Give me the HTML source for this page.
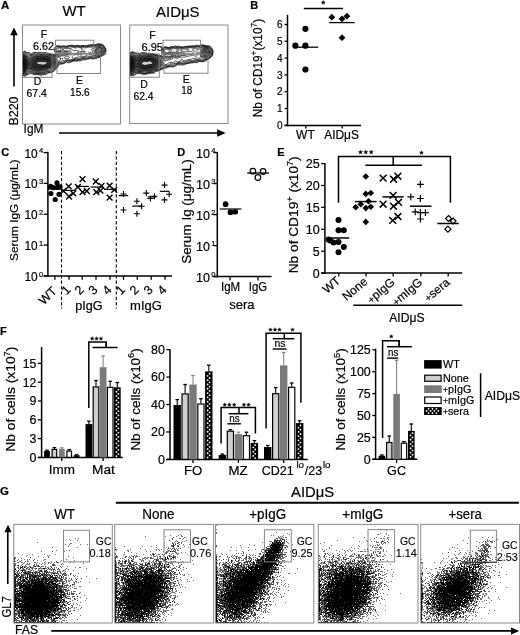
<!DOCTYPE html>
<html><head><meta charset="utf-8"><style>
html,body{margin:0;padding:0;background:#fff;}
svg{display:block;filter:grayscale(1) blur(0.3px);}
text{font-family:"Liberation Sans", sans-serif;stroke:#000;stroke-width:0.2px;}
</style></head><body>
<svg width="520" height="635" viewBox="0 0 520 635">
<text x="1" y="8.8" font-size="11.5" font-weight="bold">A</text>
<text x="62.5" y="16.3" font-size="15" textLength="23.2" lengthAdjust="spacingAndGlyphs">WT</text>
<text x="156" y="16.6" font-size="15" textLength="43.6" lengthAdjust="spacingAndGlyphs">AIDμS</text>
<rect x="22.5" y="25" width="98" height="99" stroke="#8a8a8a" stroke-width="1" fill="none"/>
<rect x="129.7" y="25" width="98.3" height="98.5" stroke="#8a8a8a" stroke-width="1" fill="none"/>
<path d="M14 86.4L14 33" stroke="#000" stroke-width="1.6"/>
<path d="M14 27.6L10.2 35.2L17.8 35.2Z" fill="#000"/>
<text x="17.6" y="125.5" font-size="12.5" textLength="29" lengthAdjust="spacingAndGlyphs" transform="rotate(-90 17.6 125.5)">B220</text>
<text x="23.6" y="133.4" font-size="12.5" textLength="19.8" lengthAdjust="spacingAndGlyphs">IgM</text>
<path d="M59 133L219 133" stroke="#000" stroke-width="1.6"/>
<path d="M225.6 133L217.2 129.2L217.2 136.8Z" fill="#000"/>
<clipPath id="ca1"><rect x="23" y="25.5" width="97" height="98"/></clipPath>
<clipPath id="ca2"><rect x="130.2" y="25.5" width="97.3" height="97.5"/></clipPath>
<defs><linearGradient id="lg1" x1="0" x2="1" y1="0" y2="0"><stop offset="0" stop-color="#000" stop-opacity="0.95"/><stop offset="1" stop-color="#000" stop-opacity="0"/></linearGradient><radialGradient id="rg1" cx="0" cy="0.5" r="1"><stop offset="0" stop-color="#000" stop-opacity="0.9"/><stop offset="0.55" stop-color="#000" stop-opacity="0.6"/><stop offset="1" stop-color="#000" stop-opacity="0"/></radialGradient></defs>
<g clip-path="url(#ca1)">
<path d="M100.2 54.0L99.2 54.2L96.2 54.1L95.2 53.6L94.6 52.8L94.5 51.8L95.1 49.2L97.8 47.4L98.8 47.0L100.2 46.9L101.2 47.4L102.0 48.2L102.7 50.2L102.6 51.2L102.0 52.2L101.2 53.3L100.2 54.0M24.8 72.3L23.8 72.3L23.2 71.9L22.8 71.0L22.3 69.2L21.9 65.2L21.8 61.8L22.1 59.2L22.8 56.8L23.8 55.5L24.8 55.4L25.8 55.9L27.8 57.8L28.8 58.4L29.8 58.2L33.8 56.2L37.2 56.1L39.8 55.6L45.2 56.0L49.2 56.7L52.8 57.6L57.2 59.1L57.9 59.8L57.6 60.8L56.2 62.8L55.2 64.8L53.8 66.2L51.8 67.6L49.8 68.3L45.8 70.3L41.8 71.2L37.8 71.6L35.2 71.1L30.2 69.0L28.8 68.9L27.8 69.5L25.8 71.7L24.8 72.3" fill="rgba(0,0,0,0.5)"/>
<path d="M25.2 69.8L24.2 70.2L23.8 70.0L23.3 69.2L22.5 65.2L22.5 61.8L22.9 59.8L23.2 58.5L24.2 57.5L24.8 57.5L25.2 57.9L27.8 61.3L28.2 61.6L29.2 61.6L30.2 61.3L32.2 59.3L34.2 58.4L35.8 58.0L39.8 57.6L41.8 57.8L45.2 57.7L48.2 58.4L52.2 59.7L53.2 60.6L53.6 61.2L53.2 63.2L52.1 64.8L49.3 66.8L47.8 67.4L45.9 67.8L42.2 69.0L38.2 69.3L35.8 69.0L32.2 67.7L29.2 66.3L28.8 66.3L27.8 66.8L26.8 67.6L25.2 69.8" fill="rgba(0,0,0,0.45)"/>
<path d="M42.8 67.3L40.8 67.7L37.2 67.6L33.1 66.2L32.4 65.8L32.0 64.8L32.9 61.8L33.2 61.2L35.8 59.5L37.8 59.5L39.8 59.0L41.2 59.3L43.2 58.9L45.8 59.1L48.8 59.9L50.2 60.7L50.8 61.2L51.0 62.2L50.7 63.8L48.8 65.6L47.8 66.2L42.8 67.3M24.2 68.3L23.8 67.8L23.2 66.4L22.9 64.2L23.2 60.8L23.8 59.6L24.2 59.3L25.0 59.8L26.0 61.2L26.5 62.2L26.8 63.8L26.6 65.2L26.1 66.2L25.1 67.8L24.8 68.2L24.2 68.3" fill="rgba(0,0,0,0.3)"/>
<path d="M43.8 64.9L38.8 64.3L37.0 63.2L36.9 62.8L37.5 62.2L39.2 61.8L42.8 61.6L44.2 62.1L45.8 61.8L46.5 62.2L46.9 62.8L46.8 63.4L43.8 64.9" fill="#ccc"/>
<path d="M24.8 76.5L23.8 76.2L22.8 75.1L20.6 70.2L20.9 67.8L20.4 62.8L20.1 61.8L20.9 57.8L22.1 53.8L23.2 52.1L24.8 50.9L25.2 51.1L26.2 52.3L27.2 52.6L29.2 52.4L30.8 53.6L31.2 53.7L33.2 52.6L34.2 52.3L35.2 52.3L36.8 52.8L39.8 52.4L41.2 52.8L45.2 52.6L49.2 53.4L52.8 54.5L54.2 54.1L55.8 54.2L56.5 53.8L56.5 53.2L54.7 51.8L54.3 50.8L54.0 48.8L54.3 47.8L55.2 46.8L55.8 46.2L56.8 45.7L58.2 45.7L60.8 46.1L64.2 45.8L66.2 46.2L68.8 45.4L72.2 45.2L74.2 45.7L78.2 45.3L80.2 46.0L82.2 45.4L84.8 45.6L86.8 45.5L90.8 44.6L95.2 44.7L97.8 43.7L101.8 44.2L102.8 44.6L104.2 45.9L105.9 49.2L106.1 50.8L105.7 52.2L105.9 53.8L105.8 54.3L105.2 54.7L103.8 54.9L99.8 57.4L98.2 57.6L96.2 58.5L94.8 58.6L93.8 59.0L91.8 58.9L90.2 58.5L88.2 59.2L86.8 59.3L84.8 60.0L82.8 59.7L80.8 60.8L78.8 60.7L76.2 61.2L74.2 60.9L68.8 62.8L67.9 62.8L66.8 62.1L66.2 62.2L64.8 63.2L63.8 63.7L61.2 64.0L59.8 64.5L58.1 66.2L57.2 68.0L55.2 69.2L54.5 70.8L51.2 72.7L48.8 72.8L46.8 74.2L42.8 74.8L41.8 75.8L38.8 74.7L33.8 74.7L32.0 73.8L30.2 73.5L27.2 74.8L24.8 76.5M24.8 75.5L23.8 75.5L22.9 74.8L21.0 70.2L21.1 67.8L20.6 61.8L21.0 58.2L22.0 54.8L22.8 53.2L24.2 51.8L24.8 51.7L26.8 52.9L29.2 53.2L30.8 54.2L31.8 54.0L33.8 52.8L34.8 52.6L36.8 53.2L39.2 52.9L41.2 53.2L45.8 53.0L47.2 53.7L48.8 53.9L52.2 54.9L55.2 54.9L56.8 54.5L58.2 54.5L58.9 54.2L59.8 53.5L61.3 53.2L60.9 52.8L59.8 52.7L58.8 52.2L56.2 52.1L55.4 51.8L55.0 51.2L54.7 49.8L55.0 48.2L55.8 46.8L56.8 46.1L57.8 46.0L60.8 46.5L64.2 46.2L66.2 46.7L68.8 45.8L72.2 45.5L74.2 46.0L78.2 45.7L80.2 46.3L82.8 45.7L84.8 46.0L86.2 45.9L91.2 45.1L95.2 45.0L97.8 44.2L101.2 44.5L102.8 45.1L104.0 46.2L105.6 49.2L105.7 50.8L104.5 53.8L99.8 57.1L97.8 57.3L96.2 58.0L95.2 58.0L93.8 58.5L90.2 58.1L84.8 59.3L82.8 59.1L80.8 60.2L78.8 60.2L76.8 60.7L74.2 60.5L68.8 62.3L66.8 61.6L63.2 63.5L59.5 63.8L57.5 66.2L56.8 67.8L54.6 69.2L53.7 70.8L51.2 72.1L47.8 72.6L46.8 73.5L44.2 74.1L40.2 74.4L35.8 74.1L34.2 74.2L30.8 72.8L29.8 72.7L28.2 73.9L24.8 75.5M24.8 74.8L23.8 74.9L23.2 74.6L22.0 72.2L21.4 70.2L20.9 64.2L20.9 61.2L21.3 58.2L22.0 55.8L23.1 53.2L24.2 52.4L24.8 52.4L26.8 53.4L28.3 53.8L30.2 54.7L31.8 54.5L33.8 53.2L34.8 53.1L36.8 53.6L38.8 53.4L41.2 53.7L45.2 53.5L47.2 54.3L48.8 54.4L52.8 55.3L55.2 55.4L57.2 55.0L58.8 55.2L59.8 54.7L61.8 54.5L65.2 53.5L67.1 53.8L67.9 53.2L67.9 52.8L66.8 52.2L62.8 52.5L61.2 51.8L59.8 51.9L55.8 51.3L55.4 50.8L55.4 49.8L55.9 48.8L56.1 47.2L56.8 46.7L57.8 46.5L60.8 47.0L64.2 46.8L66.2 47.2L69.2 46.3L72.2 45.9L74.8 46.5L78.2 46.1L80.2 46.7L82.8 46.1L84.2 46.4L86.2 46.4L92.8 45.5L95.8 45.4L98.2 44.6L101.2 44.9L102.8 45.7L103.7 46.8L105.3 49.8L105.0 51.2L103.7 53.8L102.2 55.0L99.8 56.6L97.8 56.8L96.2 57.3L94.8 57.4L93.8 57.8L90.8 57.5L84.8 58.6L82.8 58.5L80.2 59.7L76.8 60.2L74.2 60.1L69.8 61.3L67.8 61.0L66.8 61.1L62.8 63.1L60.2 62.9L59.1 63.2L56.2 67.4L54.2 68.8L53.2 70.4L52.2 71.0L50.2 71.7L47.8 72.0L45.8 72.9L43.8 73.5L40.2 73.8L35.8 73.5L34.2 73.6L30.8 72.1L29.8 72.0L29.1 72.2L27.8 73.6L24.8 74.8M25.2 73.9L23.8 74.2L23.2 73.9L22.5 72.8L21.6 69.8L21.2 64.8L21.2 61.2L21.4 58.8L21.9 56.8L22.9 54.2L23.7 53.2L24.2 53.0L25.2 53.2L28.5 55.2L29.2 55.5L31.8 55.0L33.8 53.8L34.8 53.6L36.2 54.1L38.8 53.8L41.2 54.2L45.2 54.0L46.8 54.8L48.8 54.9L51.2 55.6L55.2 56.0L57.2 55.5L59.2 56.0L60.8 55.3L67.2 54.3L70.2 53.2L71.3 52.2L71.3 51.8L70.8 51.6L68.8 52.2L67.2 51.6L63.8 51.4L62.2 51.0L59.8 51.4L56.8 50.9L56.2 50.5L56.3 49.8L57.1 47.8L57.8 47.4L59.2 47.3L62.8 47.9L64.8 47.5L66.2 47.8L72.2 46.4L75.8 47.2L77.8 46.5L79.8 47.1L82.8 46.5L84.2 47.0L85.8 47.1L89.2 46.4L96.2 45.9L98.8 45.1L100.8 45.3L102.2 45.9L103.2 47.0L104.8 49.8L104.7 50.8L103.2 53.5L101.8 54.9L99.2 56.3L97.8 56.3L96.2 56.6L94.8 56.3L93.2 56.7L89.2 57.2L86.8 57.1L84.8 57.8L82.2 58.0L79.8 59.2L76.8 59.5L75.2 59.3L70.2 60.6L67.2 60.4L63.8 61.6L62.2 62.4L60.8 62.1L59.8 62.3L58.3 63.2L57.5 64.8L55.8 67.0L53.4 68.8L52.8 69.8L52.2 70.2L50.8 70.6L49.8 71.3L47.2 71.5L45.2 72.4L42.2 73.2L38.2 73.4L34.2 72.9L31.2 71.4L30.2 71.2L28.8 71.7L27.2 73.1L25.2 73.9M78.3 52.8L78.5 52.2L78.2 52.1L77.2 52.2L77.5 52.8L78.3 52.8M25.2 73.3L23.8 73.6L23.2 73.2L22.5 72.2L21.8 69.8L21.4 64.8L21.4 61.2L22.0 57.2L23.1 54.8L24.2 53.8L25.2 54.0L28.2 56.2L29.2 56.5L34.2 54.4L36.2 54.8L39.2 54.3L41.2 54.7L45.2 54.7L46.8 55.3L48.8 55.5L50.8 56.0L55.2 56.7L57.8 56.3L59.8 57.0L61.2 56.0L65.2 55.7L68.8 54.5L70.2 55.2L70.8 55.1L72.2 53.7L73.2 53.3L78.2 53.8L80.5 52.8L81.8 51.9L84.8 51.8L85.2 51.2L84.8 50.8L84.2 50.7L82.2 51.6L80.8 51.6L77.8 50.8L73.2 50.3L71.8 49.4L71.2 49.3L69.2 50.9L65.8 50.9L64.8 50.7L62.8 49.8L63.0 49.2L64.2 48.5L66.2 48.7L70.8 48.5L72.2 47.3L72.8 47.3L75.8 48.1L76.2 48.1L77.8 47.1L79.8 47.7L82.8 47.2L84.2 47.9L85.8 48.0L88.8 47.2L90.8 47.2L96.2 46.7L98.2 45.8L99.8 45.7L101.2 46.0L102.2 46.6L104.1 49.8L104.2 50.2L104.0 51.2L102.8 53.2L101.8 54.3L99.2 55.7L96.2 55.7L94.8 55.4L92.8 56.0L89.2 56.3L87.2 55.8L84.8 57.1L81.8 57.4L79.2 58.4L75.8 58.5L73.2 59.3L70.2 59.8L67.8 59.6L63.2 60.5L61.8 61.2L60.2 61.1L57.8 63.1L56.4 65.2L55.1 66.8L52.2 68.9L50.2 69.7L49.2 70.8L47.2 71.0L45.2 71.8L42.2 72.7L38.2 72.9L34.2 72.2L30.2 70.4L28.2 71.2L26.4 72.8L25.2 73.3M61.2 50.3L59.8 50.7L58.6 50.2L58.0 49.8L58.1 48.8L58.5 48.2L59.2 48.0L62.6 49.2L62.7 49.8L61.2 50.3M99.8 54.9L98.8 55.1L94.8 54.6L92.8 55.1L90.8 54.6L89.2 54.7L88.6 54.2L88.6 52.8L88.8 52.5L89.2 52.3L90.8 52.7L91.8 52.6L92.8 52.1L93.0 51.2L92.8 50.7L91.8 49.8L91.6 49.2L92.2 48.8L96.2 47.5L98.2 46.5L100.2 46.3L101.2 46.6L102.2 47.5L103.3 49.8L103.5 50.8L103.1 51.8L102.1 53.2L101.2 54.0L99.8 54.9M82.8 49.3L82.2 49.7L81.8 49.6L81.1 49.2L81.0 48.8L81.6 48.2L82.0 48.2L82.6 48.8L82.8 49.3M73.8 58.4L72.5 58.2L72.1 57.2L72.4 56.2L73.8 54.7L75.2 54.8L76.2 54.6L78.2 55.0L79.8 54.6L81.2 55.0L82.2 54.6L83.3 53.2L84.2 52.9L85.8 53.1L86.6 53.8L86.8 54.2L86.6 54.8L85.6 55.8L84.2 56.4L83.2 56.5L81.2 56.1L78.8 57.0L76.2 57.4L73.8 58.4M24.8 72.9L23.8 72.9L23.2 72.6L22.5 71.2L22.0 69.2L21.6 64.8L21.6 61.8L22.1 58.2L22.8 56.0L23.8 54.8L24.2 54.7L25.2 54.9L28.8 57.4L29.8 57.3L34.2 55.3L36.8 55.5L39.2 54.9L41.2 55.2L45.2 55.3L46.8 55.9L48.8 56.0L56.2 57.7L58.2 57.4L61.1 58.8L61.1 59.2L59.8 60.0L57.2 62.8L55.7 65.2L54.2 66.8L51.8 68.3L50.2 68.8L48.8 69.8L45.8 71.0L43.2 71.5L41.8 72.0L38.2 72.3L34.8 71.6L30.8 69.8L29.8 69.6L28.8 69.9L26.0 72.2L24.8 72.9M67.8 58.4L66.8 58.5L64.8 58.3L64.4 57.8L64.6 57.2L65.6 56.8L67.2 56.2L68.2 56.1L69.4 57.2L69.2 57.8L67.8 58.4M62.8 58.8L61.7 58.8L62.2 58.2L62.8 58.5L62.8 58.8M100.2 54.0L99.2 54.2L96.2 54.0L95.0 53.2L94.6 52.2L95.0 49.8L95.2 49.2L97.8 47.4L98.8 47.1L100.2 47.0L101.2 47.4L101.9 48.2L102.7 50.2L102.6 51.2L102.0 52.2L101.2 53.2L100.2 54.0M24.2 72.3L23.2 71.9L22.5 70.2L21.8 64.8L21.9 61.2L22.3 58.8L22.8 56.8L23.8 55.5L24.8 55.5L25.8 55.9L27.8 57.8L28.8 58.4L29.8 58.2L33.8 56.2L37.2 56.1L39.8 55.7L45.2 56.0L49.2 56.8L53.2 57.8L57.2 59.2L57.7 59.8L57.5 60.8L56.1 62.8L55.1 64.8L53.8 66.2L51.8 67.5L49.7 68.2L45.8 70.2L41.8 71.1L37.8 71.5L35.2 71.0L30.2 69.0L28.8 68.9L27.8 69.4L25.8 71.7L24.2 72.3M99.2 53.3L96.8 53.1L96.2 52.8L95.9 51.8L96.2 50.4L97.8 48.3L98.8 47.8L99.8 47.7L100.8 48.1L101.2 48.8L101.5 50.8L100.6 52.8L99.8 53.2L99.2 53.3M24.8 71.4L23.8 71.4L23.0 70.2L22.5 68.8L22.1 64.8L22.1 61.8L22.6 58.8L23.2 57.0L23.8 56.3L24.2 56.1L25.8 56.7L27.8 59.1L28.8 59.7L29.8 59.4L33.2 57.3L35.2 56.9L40.2 56.4L42.2 56.7L45.2 56.7L48.8 57.4L52.8 58.5L54.8 59.5L55.5 60.2L55.6 61.2L54.6 63.8L53.2 65.5L51.2 66.9L45.2 69.3L41.2 70.3L37.2 70.6L35.8 70.4L30.8 68.4L28.8 68.0L27.8 68.3L25.8 70.7L24.8 71.4M99.2 51.3L98.9 50.8L99.2 50.6L99.2 51.3M24.8 70.5L23.8 70.3L23.2 69.7L22.4 64.8L22.5 61.2L22.8 59.2L23.2 58.1L24.2 57.1L25.2 57.4L27.8 60.7L28.8 61.2L30.1 60.8L31.7 59.2L33.2 58.4L35.8 57.7L39.8 57.3L41.8 57.5L45.2 57.5L48.2 58.1L52.2 59.3L53.6 60.2L54.0 60.8L54.0 62.2L53.0 64.2L51.8 65.4L48.2 67.5L46.2 67.9L42.2 69.3L38.2 69.6L35.8 69.3L28.8 66.9L27.2 67.5L25.6 69.8L24.8 70.5M24.2 69.3L23.8 69.0L23.4 68.2L22.7 64.2L23.0 60.2L23.7 58.8L24.2 58.4L25.2 58.9L26.2 60.2L27.5 62.8L27.9 64.2L27.5 65.8L25.2 68.8L24.2 69.3M41.8 68.3L38.2 68.5L36.8 68.3L32.8 67.0L31.6 66.2L29.5 63.8L29.4 63.2L29.9 62.8L31.2 62.0L32.7 60.2L34.8 59.0L35.8 58.7L37.8 58.7L39.2 58.3L45.8 58.4L48.8 59.2L50.8 60.0L52.2 61.2L52.3 62.2L51.8 63.8L51.0 64.8L49.0 66.2L47.8 66.8L45.8 67.2L41.8 68.3M42.8 66.8L40.8 67.1L36.8 66.9L33.2 65.7L32.8 65.1L32.7 64.2L33.8 61.8L35.6 60.2L36.2 60.0L39.8 59.6L41.2 59.9L43.2 59.5L45.2 59.5L48.8 60.4L50.0 61.2L50.3 62.2L50.2 63.2L49.7 64.2L48.8 65.1L47.8 65.7L42.8 66.8M24.8 67.4L24.2 67.5L23.8 67.0L23.1 64.8L23.3 61.8L23.8 60.4L24.2 60.0L25.2 61.0L26.3 63.2L26.3 64.2L25.8 65.8L24.8 67.4M44.2 64.9L43.2 65.1L38.8 64.8L36.2 64.0L35.9 63.8L35.8 63.2L36.8 62.1L37.5 61.8L38.8 61.6L42.8 61.4L44.2 61.7L45.8 61.5L46.4 61.8L47.3 62.8L47.3 63.2L47.0 63.8L44.2 64.9M24.2 64.5L24.2 63.3L24.5 63.8L24.2 64.5" stroke="#000" stroke-width="0.65" fill="none"/>
<ellipse cx="23" cy="64" rx="7" ry="10.5" fill="url(#rg1)"/>
</g>
<g clip-path="url(#ca2)">
<path d="M205.8 57.0L204.2 57.1L200.8 56.6L199.9 56.2L200.0 55.8L201.0 53.8L200.6 50.8L200.9 49.8L201.8 49.1L204.2 48.2L206.8 48.2L207.8 48.5L209.2 49.8L209.7 50.8L209.8 53.2L209.3 54.8L207.8 56.1L205.8 57.0M131.8 72.4L130.8 72.2L130.2 71.2L129.1 66.2L128.9 63.8L129.0 60.8L129.5 58.2L130.2 56.7L131.2 55.8L132.2 55.7L135.2 57.2L136.8 57.5L139.2 56.8L141.2 56.7L143.2 56.1L145.8 55.9L150.2 56.1L154.2 56.9L157.2 58.1L162.0 60.8L163.1 61.8L163.6 62.8L163.6 63.8L162.8 64.6L161.2 65.2L158.2 67.2L151.8 69.9L148.8 70.7L146.8 70.9L144.8 70.6L142.2 70.9L136.2 69.9L135.2 70.2L131.8 72.4M174.2 59.8L173.7 59.8L173.8 59.2L174.2 59.1L174.6 59.2L174.2 59.8M178.8 60.7L178.4 60.2L178.8 59.7L179.2 59.7L179.2 60.2L178.8 60.7" fill="rgba(0,0,0,0.5)"/>
<path d="M206.8 53.8L205.8 54.1L204.7 53.8L204.1 52.2L204.2 51.6L204.8 51.0L205.8 50.8L206.6 51.2L207.1 51.8L207.5 52.8L207.3 53.2L206.8 53.8M132.8 69.9L131.8 70.2L131.2 70.0L130.8 69.4L129.8 66.2L129.6 63.2L129.8 61.2L130.4 58.8L130.8 58.1L131.2 57.8L132.2 57.9L134.8 59.5L136.2 59.8L141.2 58.4L143.8 58.0L150.8 57.9L156.2 59.6L158.3 61.2L158.9 62.2L158.9 63.2L158.2 64.3L154.2 67.0L152.2 67.9L146.8 69.0L143.2 69.0L137.8 67.5L135.8 67.4L134.7 67.8L132.8 69.9" fill="rgba(0,0,0,0.45)"/>
<path d="M148.2 67.3L146.2 67.6L142.8 67.6L141.2 67.2L138.1 65.8L137.0 64.2L137.0 63.2L138.2 61.8L140.8 60.1L143.8 59.4L147.8 59.0L151.2 59.2L154.8 60.4L156.1 61.2L156.5 62.2L156.4 62.8L154.8 65.0L152.2 66.5L148.2 67.3M132.2 68.4L131.8 68.6L131.2 68.3L130.8 67.4L130.4 66.2L130.2 63.8L130.4 61.2L131.2 59.6L131.8 59.4L132.8 59.8L134.0 61.2L135.3 64.8L134.9 65.8L133.2 67.1L132.2 68.4" fill="rgba(0,0,0,0.3)"/>
<path d="M146.8 64.8L145.2 65.2L143.8 64.7L142.2 64.5L142.0 63.8L142.1 62.8L142.8 62.1L144.2 61.5L145.2 61.4L147.2 61.9L149.2 61.0L150.5 61.2L151.2 62.1L152.6 62.8L152.8 63.2L151.8 63.9L146.8 64.8M131.8 64.4L131.8 63.7L132.0 64.2L131.8 64.4" fill="#ccc"/>
<path d="M134.2 75.3L132.8 75.7L130.8 75.6L130.2 75.2L129.5 74.2L128.6 71.8L128.2 68.6L127.8 67.3L127.2 66.5L125.7 65.2L125.1 64.2L126.1 61.2L126.8 60.2L127.3 58.8L128.2 57.4L129.7 53.2L130.2 52.4L130.8 52.2L133.2 51.8L135.2 52.7L137.2 53.1L139.2 53.1L140.2 53.3L142.2 52.4L143.8 52.7L145.2 52.7L147.8 53.4L149.2 53.0L150.8 53.8L152.8 53.5L154.8 54.3L156.8 54.6L158.2 55.5L161.2 55.6L162.2 55.2L161.6 53.8L161.7 52.2L162.9 48.2L163.6 47.2L164.2 47.0L165.8 46.9L168.2 47.4L169.2 47.4L171.8 46.5L173.8 46.7L175.2 45.9L175.8 45.9L177.2 46.5L178.8 46.2L180.8 46.9L183.8 46.8L187.2 46.1L194.8 45.8L196.8 45.3L200.2 45.8L201.8 44.9L202.8 44.8L206.8 45.8L209.8 46.0L210.6 46.8L212.9 49.8L213.0 53.2L212.5 55.8L211.2 57.2L209.2 58.7L205.5 60.8L204.2 61.7L202.2 61.9L199.8 61.4L196.8 62.7L194.8 62.6L190.8 63.0L186.2 63.9L183.2 65.2L180.8 64.7L179.2 65.3L177.8 64.7L177.2 64.8L174.8 66.4L172.2 67.0L170.2 66.8L168.2 67.1L166.2 68.1L164.8 68.2L161.8 69.2L160.2 70.3L155.8 71.5L153.8 73.3L151.8 73.1L149.8 73.6L148.8 73.5L146.2 74.3L143.8 74.4L141.8 74.1L140.2 73.6L137.8 73.5L136.8 73.8L134.2 75.3M165.1 55.8L165.2 55.2L164.2 54.7L163.3 54.8L162.9 55.2L163.8 56.0L164.2 56.1L165.1 55.8M133.2 75.0L132.2 75.2L130.8 75.1L129.9 74.2L128.8 71.8L128.3 68.2L127.8 66.3L127.2 65.6L125.9 64.8L125.7 64.2L125.9 63.2L127.2 60.5L130.0 53.2L130.8 52.5L132.8 52.3L134.8 53.1L137.2 53.7L140.2 54.0L142.2 53.0L145.2 53.1L147.8 53.8L149.2 53.6L150.8 54.1L152.8 53.9L154.8 54.6L156.8 54.9L158.2 55.8L161.8 56.2L164.2 56.9L165.8 56.4L167.8 56.4L170.2 56.2L172.8 54.8L171.2 54.7L169.8 54.2L168.2 54.8L166.2 54.9L163.8 53.8L162.8 53.7L162.4 53.2L162.3 52.2L163.2 48.8L163.9 47.8L165.2 47.2L168.8 47.8L171.8 46.9L173.8 47.1L175.8 46.5L177.2 46.9L178.8 46.7L180.8 47.3L183.8 47.2L187.2 46.5L194.2 46.2L196.8 45.7L199.8 46.2L201.8 45.3L202.8 45.2L207.2 46.2L208.8 46.3L209.8 46.5L212.6 49.8L212.7 53.2L212.1 55.8L208.8 58.6L203.8 61.0L201.8 61.4L199.8 61.0L196.2 62.1L194.8 62.0L189.8 62.7L183.2 64.4L180.2 64.1L177.3 64.2L175.2 65.7L174.2 66.1L172.2 66.5L170.2 66.2L164.8 67.6L163.2 68.5L161.2 69.1L159.8 69.9L155.3 71.2L153.8 72.6L148.8 73.0L146.2 73.9L143.2 73.9L140.2 73.0L137.8 72.9L134.8 74.0L133.2 75.0M132.2 74.8L130.8 74.6L129.6 73.2L128.9 71.2L128.8 69.1L127.8 65.1L126.6 64.2L126.4 63.8L127.3 61.8L127.9 59.2L129.4 55.2L130.5 53.2L131.2 52.8L133.2 53.0L135.2 54.1L136.8 54.5L140.8 54.5L141.8 53.9L142.8 53.6L145.2 53.7L147.8 54.2L149.2 54.2L150.8 54.5L152.8 54.3L156.2 55.1L158.2 56.2L161.2 56.6L164.2 57.6L165.8 57.0L167.8 57.2L170.2 56.8L173.8 55.4L174.8 55.3L176.8 55.9L178.7 55.2L179.1 54.8L178.2 54.2L173.2 53.7L171.2 54.0L169.8 53.7L167.8 54.2L166.2 54.2L165.2 54.0L163.2 52.9L162.9 52.2L163.7 48.8L164.2 48.2L165.2 47.7L166.2 47.6L168.8 48.2L171.8 47.4L173.8 47.5L175.8 47.2L177.2 47.4L178.8 47.3L180.8 47.6L184.2 47.7L187.8 46.9L193.2 46.7L197.2 46.3L199.8 46.6L202.2 45.7L209.2 46.9L212.1 49.8L212.3 53.2L212.0 54.8L211.5 55.8L208.2 58.4L205.8 59.7L202.2 60.9L201.2 61.0L199.8 60.5L193.2 61.8L189.8 62.1L187.8 62.8L183.8 63.5L177.8 63.7L174.6 65.2L172.8 65.8L171.8 65.9L170.2 65.6L168.8 66.2L165.2 66.7L162.8 68.3L156.8 70.4L155.2 70.8L153.2 72.1L148.8 72.5L146.2 73.5L143.2 73.4L140.8 72.6L137.8 72.3L134.6 73.2L133.2 74.3L132.2 74.8M132.2 74.3L130.8 74.1L130.0 73.2L129.5 72.2L128.2 65.5L127.6 63.2L128.4 58.8L129.5 55.8L130.7 53.8L131.2 53.3L132.2 53.3L133.2 53.6L135.2 55.2L136.2 55.5L138.8 55.0L140.8 55.1L142.8 54.2L146.2 54.3L150.8 54.8L152.8 54.7L156.2 55.5L158.2 56.6L160.8 57.2L164.2 58.5L165.8 57.7L167.8 58.0L170.2 57.5L173.8 56.0L174.8 56.0L176.2 56.7L176.8 56.6L178.8 56.1L180.8 55.1L181.8 55.1L183.8 54.6L184.8 54.7L185.1 54.2L185.1 53.8L184.8 53.2L182.2 52.7L179.2 53.4L177.8 53.2L175.8 53.3L173.2 52.8L171.2 53.4L169.8 53.2L168.2 53.5L165.8 53.5L164.2 52.8L163.7 52.2L163.6 51.8L164.1 49.2L164.8 48.6L165.8 48.1L168.8 48.8L171.8 47.9L173.8 48.1L175.8 47.8L182.2 48.1L184.2 48.4L187.8 47.4L190.8 47.1L192.8 47.4L195.2 47.0L197.8 47.4L202.2 46.4L205.8 46.7L208.8 47.3L211.1 49.2L211.8 50.2L211.8 53.2L211.3 55.2L208.5 57.8L205.2 59.4L203.8 59.6L201.8 60.4L199.8 59.9L198.2 60.3L194.8 60.7L193.2 61.2L189.2 61.4L187.2 62.2L185.2 62.6L181.8 63.0L179.8 62.9L177.8 63.2L175.8 63.9L173.8 64.2L172.2 65.1L170.2 64.8L168.2 65.8L165.2 65.9L162.8 67.7L156.2 70.0L154.8 70.4L152.8 71.5L148.2 72.2L146.2 73.0L144.8 72.7L143.2 72.9L140.8 72.1L137.2 71.8L134.2 72.8L132.2 74.3M131.8 73.9L130.8 73.6L129.6 71.8L128.2 63.2L128.7 59.2L129.7 56.2L130.8 54.6L131.8 54.0L133.2 54.4L135.1 55.8L136.8 56.2L139.2 55.5L141.2 55.6L143.2 54.8L146.2 54.8L148.2 55.1L153.2 55.3L156.2 56.1L160.8 58.2L164.2 59.4L165.8 59.0L168.2 58.9L170.8 58.1L173.8 56.7L174.8 56.8L176.2 57.4L183.2 55.4L185.2 55.7L186.2 55.1L187.8 55.0L189.2 54.2L190.8 54.3L191.8 54.0L193.0 53.2L193.2 52.8L192.2 51.7L191.2 51.4L186.8 51.9L182.2 51.6L179.8 52.5L177.8 52.2L175.8 52.6L173.2 51.9L171.2 52.6L167.2 52.5L165.8 52.7L164.7 52.2L164.4 51.8L164.4 50.8L164.8 50.0L166.2 49.1L168.2 49.5L171.2 48.6L172.8 48.8L176.2 48.6L179.8 48.8L181.2 48.6L184.8 49.4L187.2 48.1L190.2 47.7L192.8 48.1L194.8 47.6L195.8 47.8L197.8 48.9L198.3 48.8L199.4 47.8L201.2 47.3L204.8 47.0L208.2 47.7L210.3 49.2L211.1 50.2L211.2 53.2L210.8 54.9L208.2 57.3L205.2 58.7L203.2 58.8L201.8 59.4L199.8 59.0L198.2 59.5L194.8 59.6L192.8 60.4L190.8 60.6L189.2 60.3L185.2 61.9L182.2 61.7L175.8 63.2L173.2 63.4L171.8 63.9L169.8 63.7L168.9 64.8L168.2 65.1L165.1 65.2L162.8 66.9L161.2 67.2L158.8 68.5L154.8 69.8L152.2 71.0L146.2 72.3L144.8 71.8L142.8 72.2L140.8 71.7L136.8 71.2L134.2 72.2L132.8 73.4L131.8 73.9M132.2 73.0L131.2 73.2L130.8 72.9L129.9 71.8L128.9 66.8L128.6 63.8L129.1 58.8L130.2 55.9L131.2 55.0L132.8 55.0L134.8 56.3L136.8 56.8L137.8 56.7L139.2 56.2L141.2 56.2L143.2 55.4L146.2 55.3L153.8 56.1L155.2 56.5L158.2 57.7L160.8 59.2L163.8 60.4L166.8 60.6L169.8 59.7L171.2 59.5L173.8 57.7L174.8 57.7L176.8 58.8L178.5 57.8L180.2 57.1L181.2 57.2L181.8 57.6L182.2 57.5L183.2 56.8L184.2 57.4L186.2 56.5L187.8 56.7L189.2 55.8L190.8 55.9L192.8 55.1L194.2 55.9L196.2 56.3L196.6 56.2L196.9 55.8L196.9 54.8L197.2 54.3L199.2 53.9L199.8 53.3L199.8 52.6L199.2 52.1L198.8 52.0L196.8 52.3L195.2 51.4L193.1 50.8L192.3 49.8L192.6 49.2L193.8 48.8L195.2 48.7L196.8 49.8L198.2 49.8L198.8 49.7L200.2 48.5L201.2 48.1L204.2 47.6L205.8 47.6L207.2 47.8L208.2 48.2L209.5 49.2L210.3 50.2L210.5 53.2L210.1 54.8L208.2 56.5L205.2 57.9L202.2 57.7L198.8 58.1L196.8 57.9L194.8 58.5L192.2 58.4L190.8 59.4L188.2 59.6L184.8 60.7L182.8 60.3L181.8 58.9L180.2 61.0L178.9 61.8L177.2 61.8L176.2 61.2L175.8 61.1L173.8 62.1L171.2 62.6L169.2 62.4L168.6 62.8L167.3 64.2L164.8 64.6L162.8 65.8L161.2 66.1L158.2 68.0L151.8 70.5L146.8 71.5L144.8 71.1L142.2 71.5L136.2 70.6L134.2 71.6L132.2 73.0M188.2 50.4L187.2 50.6L186.8 50.2L186.6 49.8L186.9 49.2L187.8 49.0L188.5 49.2L188.9 49.8L188.2 50.4M170.8 51.3L169.8 51.6L168.8 51.2L169.3 50.2L169.9 49.8L170.8 49.5L171.4 49.8L171.8 50.2L171.8 50.8L170.8 51.3M176.8 51.3L176.2 51.2L175.9 50.8L176.1 50.2L176.8 49.8L178.0 49.8L178.8 50.2L178.7 50.8L176.8 51.3M181.8 50.5L180.8 50.6L180.3 50.2L180.8 49.7L181.8 49.6L182.1 50.2L181.8 50.5M205.8 56.9L204.2 57.0L200.2 56.2L200.2 55.8L201.1 53.8L200.8 50.8L201.0 49.8L201.8 49.1L204.2 48.3L206.8 48.3L207.8 48.6L209.2 49.8L209.6 50.8L209.8 53.2L209.2 54.8L207.8 56.1L205.8 56.9M131.8 72.4L130.8 72.1L130.2 71.2L129.1 66.2L128.9 63.8L129.0 61.2L129.5 58.2L130.2 56.7L131.2 55.8L132.2 55.8L135.2 57.2L136.8 57.5L139.2 56.9L141.2 56.8L143.2 56.1L145.2 56.0L150.2 56.2L154.2 56.9L156.8 57.9L161.9 60.8L163.0 61.8L163.4 62.8L163.4 63.8L162.8 64.5L161.2 65.1L158.2 67.1L151.8 69.8L148.8 70.6L146.8 70.9L144.8 70.5L142.2 70.8L136.2 69.9L135.2 70.2L131.8 72.4M206.2 55.8L204.8 56.0L203.2 55.3L202.9 54.8L202.3 52.8L202.2 51.8L202.9 50.2L203.8 49.5L206.2 49.1L207.2 49.2L208.0 49.8L208.6 50.8L209.1 52.2L208.9 53.8L207.8 55.1L206.2 55.8M132.2 71.3L131.2 71.5L130.6 70.8L129.9 68.8L129.3 65.8L129.2 62.8L129.6 59.2L130.2 57.5L131.2 56.6L132.2 56.7L134.8 58.1L136.2 58.4L143.8 56.8L150.2 56.8L156.2 58.4L159.2 60.3L160.7 61.8L160.8 63.8L159.8 65.2L154.8 68.0L152.2 69.0L148.8 69.9L146.8 70.1L144.8 69.9L142.8 70.1L139.2 69.7L136.2 69.0L135.2 69.2L133.2 70.8L132.2 71.3M206.8 54.4L205.2 54.7L204.2 53.9L203.6 52.2L203.9 51.2L204.3 50.8L205.2 50.4L206.2 50.4L207.0 50.8L207.8 51.7L208.1 52.8L208.0 53.2L207.6 53.8L206.8 54.4M132.2 70.4L131.2 70.3L130.8 69.8L130.1 68.2L129.6 65.8L129.5 62.8L130.0 59.2L130.4 58.2L131.2 57.5L132.2 57.6L134.8 59.2L136.2 59.5L143.8 57.7L150.8 57.7L156.2 59.3L158.8 61.2L159.3 62.2L159.2 63.8L158.5 64.8L154.2 67.4L152.8 68.0L148.8 69.0L146.2 69.3L142.8 69.2L137.8 67.9L135.8 67.7L134.8 68.2L133.2 69.9L132.2 70.4M132.2 69.3L131.8 69.4L130.9 68.8L130.0 65.8L129.9 63.2L130.1 61.2L130.8 59.1L131.2 58.5L132.2 58.6L134.8 60.6L135.8 60.9L138.8 60.2L141.2 59.1L143.8 58.7L147.8 58.4L151.2 58.6L155.8 60.0L157.3 61.2L157.9 62.2L157.6 63.2L155.6 65.2L153.4 66.8L152.2 67.3L146.8 68.3L143.2 68.3L141.8 68.0L137.2 66.5L136.2 66.4L135.2 66.6L134.2 67.2L132.8 69.0L132.2 69.3M148.2 66.8L145.8 67.1L142.8 67.1L141.2 66.8L139.1 65.8L138.5 65.2L138.1 64.2L138.2 63.2L140.8 60.7L141.8 60.2L144.2 59.8L147.8 59.5L151.2 59.6L154.3 60.8L155.6 61.8L155.7 62.2L155.4 63.2L154.9 64.2L154.2 64.8L152.2 66.0L148.2 66.8M131.8 67.8L131.2 67.5L130.8 66.6L130.4 63.2L130.8 61.0L131.2 60.3L131.8 60.1L132.8 60.4L133.4 61.2L134.4 64.8L134.0 65.8L131.8 67.8M146.2 65.3L145.2 65.5L143.8 65.1L141.8 65.1L141.3 64.8L141.3 64.2L141.9 62.2L142.7 61.8L144.2 61.3L145.2 61.2L147.2 61.6L149.2 60.8L150.8 61.1L151.8 62.0L152.8 62.3L153.3 62.8L153.2 63.2L152.8 63.8L151.8 64.2L146.2 65.3M132.2 64.9L131.8 65.1L131.6 64.8L131.4 63.8L131.8 62.9L132.4 63.8L132.2 64.9" stroke="#000" stroke-width="0.65" fill="none"/>
<ellipse cx="130.3" cy="64" rx="7" ry="10.5" fill="url(#rg1)"/>
</g>
<rect x="55.5" y="40.2" width="38.3" height="13.6" stroke="#7a7a7a" stroke-width="0.9" fill="none"/>
<rect x="57" y="53.8" width="43.6" height="19.7" stroke="#7a7a7a" stroke-width="0.9" fill="none"/>
<rect x="22.5" y="53.5" width="29.5" height="23.8" stroke="#7a7a7a" stroke-width="0.9" fill="none"/>
<rect x="163" y="40.2" width="37.5" height="13.8" stroke="#7a7a7a" stroke-width="0.9" fill="none"/>
<rect x="164" y="54" width="44" height="19.2" stroke="#7a7a7a" stroke-width="0.9" fill="none"/>
<rect x="129.7" y="54" width="29.6" height="23.2" stroke="#7a7a7a" stroke-width="0.9" fill="none"/>
<text x="40.8" y="37.5" font-size="10.5">F</text>
<text x="33" y="49.6" font-size="10.5" textLength="21" lengthAdjust="spacingAndGlyphs">6.62</text>
<text x="33.7" y="85" font-size="10.5">D</text>
<text x="26.5" y="96.7" font-size="10.5" textLength="20.4" lengthAdjust="spacingAndGlyphs">67.4</text>
<text x="76.1" y="84.2" font-size="10.5">E</text>
<text x="70" y="96" font-size="10.5" textLength="19.7" lengthAdjust="spacingAndGlyphs">15.6</text>
<text x="149.3" y="38.7" font-size="10.5">F</text>
<text x="141.5" y="51" font-size="10.5" textLength="21.5" lengthAdjust="spacingAndGlyphs">6.95</text>
<text x="140.2" y="87.8" font-size="10.5">D</text>
<text x="133.5" y="99.5" font-size="10.5" textLength="20.1" lengthAdjust="spacingAndGlyphs">62.4</text>
<text x="182.8" y="82.5" font-size="10.5">E</text>
<text x="181.3" y="93.7" font-size="10.5" textLength="11" lengthAdjust="spacingAndGlyphs">18</text>
<text x="250.2" y="9" font-size="11" font-weight="bold">B</text>
<path d="M287.5 14.8L287.5 126.2" stroke="#000" stroke-width="1.5"/>
<path d="M284.6 125.5L361 125.5" stroke="#000" stroke-width="1.5"/>
<path d="M284.6 125.3L287.5 125.3" stroke="#000" stroke-width="1.3"/>
<text x="282.6" y="128.9" font-size="10" text-anchor="end">0</text>
<path d="M284.6 108.5L287.5 108.5" stroke="#000" stroke-width="1.3"/>
<text x="282.6" y="112.1" font-size="10" text-anchor="end">1</text>
<path d="M284.6 91.7L287.5 91.7" stroke="#000" stroke-width="1.3"/>
<text x="282.6" y="95.3" font-size="10" text-anchor="end">2</text>
<path d="M284.6 74.9L287.5 74.9" stroke="#000" stroke-width="1.3"/>
<text x="282.6" y="78.5" font-size="10" text-anchor="end">3</text>
<path d="M284.6 58.1L287.5 58.1" stroke="#000" stroke-width="1.3"/>
<text x="282.6" y="61.7" font-size="10" text-anchor="end">4</text>
<path d="M284.6 41.3L287.5 41.3" stroke="#000" stroke-width="1.3"/>
<text x="282.6" y="44.9" font-size="10" text-anchor="end">5</text>
<path d="M284.6 24.5L287.5 24.5" stroke="#000" stroke-width="1.3"/>
<text x="282.6" y="28.1" font-size="10" text-anchor="end">6</text>
<path d="M305.8 125.5L305.8 128.6" stroke="#000" stroke-width="1.3"/>
<path d="M342.2 125.5L342.2 128.6" stroke="#000" stroke-width="1.3"/>
<text x="296.1" y="139.3" font-size="12" textLength="18.6" lengthAdjust="spacingAndGlyphs">WT</text>
<text x="324.2" y="139.3" font-size="12" textLength="34.8" lengthAdjust="spacingAndGlyphs">AIDμS</text>
<text transform="translate(262.2 117.2) rotate(-90)" font-size="12" textLength="98.3" lengthAdjust="spacingAndGlyphs">Nb of CD19<tspan font-size="8.5" dy="-4.8">+</tspan><tspan dy="4.8">(x10</tspan><tspan font-size="8.5" dy="-4.8">7</tspan><tspan dy="4.8">)</tspan></text>
<circle cx="305.4" cy="28.8" r="3.1" fill="#000" stroke="none" stroke-width="1"/>
<circle cx="295.4" cy="45.7" r="3.1" fill="#000" stroke="none" stroke-width="1"/>
<circle cx="305.4" cy="45.7" r="3.1" fill="#000" stroke="none" stroke-width="1"/>
<circle cx="305.4" cy="69.5" r="3.1" fill="#000" stroke="none" stroke-width="1"/>
<path d="M294 47.2L318.2 47.2" stroke="#000" stroke-width="1.3"/>
<path d="M331.8 13.8L335.2 17.2L331.8 20.6L328.4 17.2Z" fill="#000" stroke="none" stroke-width="1"/>
<path d="M342 15.4L345.4 18.8L342 22.2L338.6 18.8Z" fill="#000" stroke="none" stroke-width="1"/>
<path d="M346.9 12.8L350.3 16.2L346.9 19.6L343.5 16.2Z" fill="#000" stroke="none" stroke-width="1"/>
<path d="M342 34.3L345.4 37.7L342 41.1L338.6 37.7Z" fill="#000" stroke="none" stroke-width="1"/>
<path d="M329.2 22.6L354.6 22.6" stroke="#000" stroke-width="1.3"/>
<path d="M303.8 8.5L343 8.5" stroke="#000" stroke-width="1.6"/>
<path d="M323.30 0.50L323.83 1.87L325.30 1.95L324.16 2.88L324.53 4.30L323.30 3.50L322.07 4.30L322.44 2.88L321.30 1.95L322.77 1.87Z" fill="#000" stroke="#000" stroke-width="0.4" stroke-linejoin="round"/>
<text x="1.2" y="156.2" font-size="11" font-weight="bold">C</text>
<path d="M47.9 151.8L47.9 276.7" stroke="#000" stroke-width="1.5"/>
<path d="M43.6 276L172 276" stroke="#000" stroke-width="1.5"/>
<path d="M43.6 152.6L47.9 152.6" stroke="#000" stroke-width="1.3"/>
<path d="M43.6 183.4L47.9 183.4" stroke="#000" stroke-width="1.3"/>
<path d="M43.6 214.2L47.9 214.2" stroke="#000" stroke-width="1.3"/>
<path d="M43.6 245L47.9 245" stroke="#000" stroke-width="1.3"/>
<path d="M43.6 275.8L47.9 275.8" stroke="#000" stroke-width="1.3"/>
<text x="37.7" y="157.6" font-size="12.5" text-anchor="end" textLength="13.2" lengthAdjust="spacingAndGlyphs">10</text>
<text x="38.9" y="153.3" font-size="7.5">4</text>
<text x="37.7" y="188.4" font-size="12.5" text-anchor="end" textLength="13.2" lengthAdjust="spacingAndGlyphs">10</text>
<text x="38.9" y="184.1" font-size="7.5">3</text>
<text x="37.7" y="219.2" font-size="12.5" text-anchor="end" textLength="13.2" lengthAdjust="spacingAndGlyphs">10</text>
<text x="38.9" y="214.9" font-size="7.5">2</text>
<text x="37.7" y="250" font-size="12.5" text-anchor="end" textLength="13.2" lengthAdjust="spacingAndGlyphs">10</text>
<text x="38.9" y="245.7" font-size="7.5">1</text>
<text x="37.7" y="280.8" font-size="12.5" text-anchor="end" textLength="13.2" lengthAdjust="spacingAndGlyphs">10</text>
<text x="38.9" y="276.5" font-size="7.5">0</text>
<text transform="translate(18.3 261) rotate(-90)" font-size="11" textLength="101.5" lengthAdjust="spacingAndGlyphs">Serum IgG (μg/mL)</text>
<path d="M61.5 151L61.5 308.5" stroke="#000" stroke-width="1.1" stroke-dasharray="3.2 2.2"/>
<path d="M116.3 151L116.3 308.5" stroke="#000" stroke-width="1.1" stroke-dasharray="3.2 2.2"/>
<path d="M54.9 276L54.9 279.8" stroke="#000" stroke-width="1.3"/>
<path d="M69 276L69 279.8" stroke="#000" stroke-width="1.3"/>
<path d="M82.2 276L82.2 279.8" stroke="#000" stroke-width="1.3"/>
<path d="M96 276L96 279.8" stroke="#000" stroke-width="1.3"/>
<path d="M110 276L110 279.8" stroke="#000" stroke-width="1.3"/>
<path d="M123.5 276L123.5 279.8" stroke="#000" stroke-width="1.3"/>
<path d="M137.3 276L137.3 279.8" stroke="#000" stroke-width="1.3"/>
<path d="M151.2 276L151.2 279.8" stroke="#000" stroke-width="1.3"/>
<path d="M165 276L165 279.8" stroke="#000" stroke-width="1.3"/>
<text x="57.6" y="291.8" font-size="12.5" text-anchor="end" transform="rotate(-45 57.6 291.8)">WT</text>
<text x="71.4" y="290.6" font-size="12.5" text-anchor="end" transform="rotate(-45 71.4 290.6)">1</text>
<text x="84.6" y="290.6" font-size="12.5" text-anchor="end" transform="rotate(-45 84.6 290.6)">2</text>
<text x="98.4" y="290.6" font-size="12.5" text-anchor="end" transform="rotate(-45 98.4 290.6)">3</text>
<text x="112.4" y="290.6" font-size="12.5" text-anchor="end" transform="rotate(-45 112.4 290.6)">4</text>
<text x="125.9" y="290.6" font-size="12.5" text-anchor="end" transform="rotate(-45 125.9 290.6)">1</text>
<text x="139.7" y="290.6" font-size="12.5" text-anchor="end" transform="rotate(-45 139.7 290.6)">2</text>
<text x="153.6" y="290.6" font-size="12.5" text-anchor="end" transform="rotate(-45 153.6 290.6)">3</text>
<text x="167.4" y="290.6" font-size="12.5" text-anchor="end" transform="rotate(-45 167.4 290.6)">4</text>
<text x="75.3" y="310" font-size="12.5" textLength="27.4" lengthAdjust="spacingAndGlyphs">pIgG</text>
<text x="130.1" y="310" font-size="12.5" textLength="31.8" lengthAdjust="spacingAndGlyphs">mIgG</text>
<circle cx="57" cy="182.8" r="2.6" fill="#000" stroke="none" stroke-width="1"/>
<circle cx="50.6" cy="186.3" r="2.6" fill="#000" stroke="none" stroke-width="1"/>
<circle cx="53.5" cy="187.6" r="2.6" fill="#000" stroke="none" stroke-width="1"/>
<circle cx="57.5" cy="187.4" r="2.6" fill="#000" stroke="none" stroke-width="1"/>
<circle cx="60" cy="186.8" r="2.6" fill="#000" stroke="none" stroke-width="1"/>
<circle cx="50.9" cy="193.5" r="2.6" fill="#000" stroke="none" stroke-width="1"/>
<circle cx="59" cy="194.3" r="2.6" fill="#000" stroke="none" stroke-width="1"/>
<circle cx="55.2" cy="199.5" r="2.6" fill="#000" stroke="none" stroke-width="1"/>
<path d="M48 188.8L62 188.8" stroke="#000" stroke-width="1.6"/>
<path d="M65.8 183.5L71.6 189.3M65.8 189.3L71.6 183.5" stroke="#000" stroke-width="1.4"/>
<path d="M60.6 188.1L66.4 193.9M60.6 193.9L66.4 188.1" stroke="#000" stroke-width="1.4"/>
<path d="M66.1 193.6L71.9 199.4M66.1 199.4L71.9 193.6" stroke="#000" stroke-width="1.4"/>
<path d="M70.4 190.4L76.2 196.2M70.4 196.2L76.2 190.4" stroke="#000" stroke-width="1.4"/>
<path d="M79.6 176.3L85.4 182.1M79.6 182.1L85.4 176.3" stroke="#000" stroke-width="1.4"/>
<path d="M75 184.1L80.8 189.9M75 189.9L80.8 184.1" stroke="#000" stroke-width="1.4"/>
<path d="M79.6 189.3L85.4 195.1M79.6 195.1L85.4 189.3" stroke="#000" stroke-width="1.4"/>
<path d="M83.9 188.1L89.7 193.9M83.9 193.9L89.7 188.1" stroke="#000" stroke-width="1.4"/>
<path d="M92.9 178.6L98.7 184.4M92.9 184.4L98.7 178.6" stroke="#000" stroke-width="1.4"/>
<path d="M98.6 182.9L104.4 188.7M98.6 188.7L104.4 182.9" stroke="#000" stroke-width="1.4"/>
<path d="M93.4 189.3L99.2 195.1M93.4 195.1L99.2 189.3" stroke="#000" stroke-width="1.4"/>
<path d="M97.5 187.8L103.3 193.6M97.5 193.6L103.3 187.8" stroke="#000" stroke-width="1.4"/>
<path d="M106.7 182.7L112.5 188.5M106.7 188.5L112.5 182.7" stroke="#000" stroke-width="1.4"/>
<path d="M106.7 194.7L112.5 200.5M106.7 200.5L112.5 194.7" stroke="#000" stroke-width="1.4"/>
<path d="M111.3 187L117.1 192.8M111.3 192.8L117.1 187" stroke="#000" stroke-width="1.4"/>
<path d="M62.5 190.4L75.5 190.4" stroke="#000" stroke-width="1.2"/>
<path d="M76 186.4L89 186.4" stroke="#000" stroke-width="1.2"/>
<path d="M90.5 187L103.5 187" stroke="#000" stroke-width="1.2"/>
<path d="M104 189.3L116 189.3" stroke="#000" stroke-width="1.2"/>
<path d="M120.5 194L126.5 194M123.5 191L123.5 197" stroke="#000" stroke-width="1.1"/>
<path d="M120.5 210L126.5 210M123.5 207L123.5 213" stroke="#000" stroke-width="1.1"/>
<path d="M133.9 201.2L139.9 201.2M136.9 198.2L136.9 204.2" stroke="#000" stroke-width="1.1"/>
<path d="M138.6 206.3L144.6 206.3M141.6 203.3L141.6 209.3" stroke="#000" stroke-width="1.1"/>
<path d="M133.9 213.7L139.9 213.7M136.9 210.7L136.9 216.7" stroke="#000" stroke-width="1.1"/>
<path d="M143.3 193.1L149.3 193.1M146.3 190.1L146.3 196.1" stroke="#000" stroke-width="1.1"/>
<path d="M147.4 198.5L153.4 198.5M150.4 195.5L150.4 201.5" stroke="#000" stroke-width="1.1"/>
<path d="M151.4 196.2L157.4 196.2M154.4 193.2L154.4 199.2" stroke="#000" stroke-width="1.1"/>
<path d="M161.5 185.1L167.5 185.1M164.5 182.1L164.5 188.1" stroke="#000" stroke-width="1.1"/>
<path d="M166.2 194.2L172.2 194.2M169.2 191.2L169.2 197.2" stroke="#000" stroke-width="1.1"/>
<path d="M161.5 199.9L167.5 199.9M164.5 196.9L164.5 202.9" stroke="#000" stroke-width="1.1"/>
<path d="M118.7 195.6L128.2 195.6" stroke="#000" stroke-width="1.2"/>
<path d="M132.2 206.1L141.6 206.1" stroke="#000" stroke-width="1.2"/>
<path d="M147.7 196.9L156.4 196.9" stroke="#000" stroke-width="1.2"/>
<path d="M159.8 191.3L169.2 191.3" stroke="#000" stroke-width="1.2"/>
<text x="177.2" y="156.2" font-size="11" font-weight="bold">D</text>
<path d="M217.3 151.8L217.3 277.3" stroke="#000" stroke-width="1.5"/>
<path d="M213.3 276.6L271.5 276.6" stroke="#000" stroke-width="1.5"/>
<path d="M213.3 152.6L217.3 152.6" stroke="#000" stroke-width="1.3"/>
<path d="M213.3 183.6L217.3 183.6" stroke="#000" stroke-width="1.3"/>
<path d="M213.3 214.6L217.3 214.6" stroke="#000" stroke-width="1.3"/>
<path d="M213.3 245.6L217.3 245.6" stroke="#000" stroke-width="1.3"/>
<path d="M213.3 276.6L217.3 276.6" stroke="#000" stroke-width="1.3"/>
<text x="210" y="157.6" font-size="12.5" text-anchor="end" textLength="14" lengthAdjust="spacingAndGlyphs">10</text>
<text x="211.2" y="153.3" font-size="7.5">4</text>
<text x="210" y="188.6" font-size="12.5" text-anchor="end" textLength="14" lengthAdjust="spacingAndGlyphs">10</text>
<text x="211.2" y="184.3" font-size="7.5">3</text>
<text x="210" y="219.6" font-size="12.5" text-anchor="end" textLength="14" lengthAdjust="spacingAndGlyphs">10</text>
<text x="211.2" y="215.3" font-size="7.5">2</text>
<text x="210" y="250.6" font-size="12.5" text-anchor="end" textLength="14" lengthAdjust="spacingAndGlyphs">10</text>
<text x="211.2" y="246.3" font-size="7.5">1</text>
<text x="210" y="281.6" font-size="12.5" text-anchor="end" textLength="14" lengthAdjust="spacingAndGlyphs">10</text>
<text x="211.2" y="277.3" font-size="7.5">0</text>
<text transform="translate(191.2 263.8) rotate(-90)" font-size="12.5" textLength="104.6" lengthAdjust="spacingAndGlyphs">Serum Ig (μg/mL)</text>
<path d="M230 276.6L230 280.6" stroke="#000" stroke-width="1.3"/>
<path d="M258 276.6L258 280.6" stroke="#000" stroke-width="1.3"/>
<text x="221" y="291" font-size="12" textLength="19.2" lengthAdjust="spacingAndGlyphs">IgM</text>
<text x="248.8" y="291" font-size="12" textLength="18.3" lengthAdjust="spacingAndGlyphs">IgG</text>
<text x="229.2" y="308.5" font-size="13" textLength="25.4" lengthAdjust="spacingAndGlyphs">sera</text>
<circle cx="225.6" cy="204.2" r="2.9" fill="#000" stroke="none" stroke-width="1"/>
<circle cx="230.5" cy="212.2" r="2.9" fill="#000" stroke="none" stroke-width="1"/>
<circle cx="235.2" cy="211.7" r="2.9" fill="#000" stroke="none" stroke-width="1"/>
<path d="M219.8 209L241.4 209" stroke="#333" stroke-width="1.5"/>
<circle cx="252.9" cy="171.2" r="2.8" fill="none" stroke="#000" stroke-width="1.2"/>
<circle cx="263.1" cy="171.5" r="2.8" fill="none" stroke="#000" stroke-width="1.2"/>
<circle cx="257.9" cy="177.5" r="2.8" fill="none" stroke="#000" stroke-width="1.2"/>
<path d="M247.2 173L269.1 173" stroke="#000" stroke-width="1.3"/>
<text x="277.2" y="155.6" font-size="11" font-weight="bold">E</text>
<path d="M324.9 162.9L324.9 273.8" stroke="#000" stroke-width="1.5"/>
<path d="M321.2 273.1L462.2 273.1" stroke="#000" stroke-width="1.5"/>
<path d="M321.2 273.1L324.9 273.1" stroke="#000" stroke-width="1.3"/>
<text x="319.7" y="277.5" font-size="12.5" text-anchor="end" textLength="6.9" lengthAdjust="spacingAndGlyphs">0</text>
<path d="M321.2 251.2L324.9 251.2" stroke="#000" stroke-width="1.3"/>
<text x="319.7" y="255.6" font-size="12.5" text-anchor="end" textLength="6.9" lengthAdjust="spacingAndGlyphs">5</text>
<path d="M321.2 229.3L324.9 229.3" stroke="#000" stroke-width="1.3"/>
<text x="319.7" y="233.7" font-size="12.5" text-anchor="end" textLength="14" lengthAdjust="spacingAndGlyphs">10</text>
<path d="M321.2 207.4L324.9 207.4" stroke="#000" stroke-width="1.3"/>
<text x="319.7" y="211.8" font-size="12.5" text-anchor="end" textLength="14" lengthAdjust="spacingAndGlyphs">15</text>
<path d="M321.2 185.5L324.9 185.5" stroke="#000" stroke-width="1.3"/>
<text x="319.7" y="189.9" font-size="12.5" text-anchor="end" textLength="14" lengthAdjust="spacingAndGlyphs">20</text>
<path d="M321.2 163.6L324.9 163.6" stroke="#000" stroke-width="1.3"/>
<text x="319.7" y="168" font-size="12.5" text-anchor="end" textLength="14" lengthAdjust="spacingAndGlyphs">25</text>
<text transform="translate(298.0 273.3) rotate(-90)" font-size="13.5" textLength="117" lengthAdjust="spacingAndGlyphs">Nb of CD19<tspan font-size="9" dy="-5.4">+</tspan><tspan dy="5.4"> (x10</tspan><tspan font-size="9" dy="-5.4">7</tspan><tspan dy="5.4">)</tspan></text>
<path d="M338.8 273.1L338.8 276.6" stroke="#000" stroke-width="1.3"/>
<path d="M366 273.1L366 276.6" stroke="#000" stroke-width="1.3"/>
<path d="M393.2 273.1L393.2 276.6" stroke="#000" stroke-width="1.3"/>
<path d="M420.8 273.1L420.8 276.6" stroke="#000" stroke-width="1.3"/>
<path d="M448.2 273.1L448.2 276.6" stroke="#000" stroke-width="1.3"/>
<text x="341.2" y="282.0" font-size="12" text-anchor="end" transform="rotate(-40 341.2 282.0)">WT</text>
<text x="368.4" y="282.8" font-size="12" text-anchor="end" transform="rotate(-40 368.4 282.8)">None</text>
<text x="395.6" y="283.6" font-size="12" text-anchor="end" transform="rotate(-40 395.6 283.6)"><tspan font-size="10">+</tspan>pIgG</text>
<text x="423.2" y="283.6" font-size="12" text-anchor="end" transform="rotate(-40 423.2 283.6)"><tspan font-size="10">+</tspan>mIgG</text>
<text x="450.6" y="283.6" font-size="12" text-anchor="end" transform="rotate(-40 450.6 283.6)"><tspan font-size="10">+</tspan>sera</text>
<path d="M353.3 305.2L462.2 305.2" stroke="#000" stroke-width="1.6"/>
<text x="389.2" y="321.5" font-size="12.5" textLength="35.4" lengthAdjust="spacingAndGlyphs">AIDμS</text>
<path d="M338.5 202.7 L338.5 156.5 L450.4 156.5 L450.4 202.7" stroke="#000" stroke-width="1.5" fill="none"/>
<path d="M393.2 156.5L393.2 165.2" stroke="#000" stroke-width="1.5"/>
<path d="M365.4 165.2L421.9 165.2" stroke="#000" stroke-width="1.5"/>
<path d="M360.50 150.00L361.06 151.43L362.59 151.52L361.40 152.49L361.79 153.98L360.50 153.15L359.21 153.98L359.60 152.49L358.41 151.52L359.94 151.43ZM365.80 150.00L366.36 151.43L367.89 151.52L366.70 152.49L367.09 153.98L365.80 153.15L364.51 153.98L364.90 152.49L363.71 151.52L365.24 151.43ZM371.20 150.00L371.76 151.43L373.29 151.52L372.10 152.49L372.49 153.98L371.20 153.15L369.91 153.98L370.30 152.49L369.11 151.52L370.64 151.43Z" fill="#000" stroke="#000" stroke-width="0.4" stroke-linejoin="round"/>
<path d="M421.50 150.80L422.03 152.07L423.40 152.18L422.36 153.08L422.68 154.42L421.50 153.70L420.32 154.42L420.64 153.08L419.60 152.18L420.97 152.07Z" fill="#000" stroke="#000" stroke-width="0.4" stroke-linejoin="round"/>
<circle cx="338.5" cy="220" r="3" fill="#000" stroke="none" stroke-width="1"/>
<circle cx="338.5" cy="230.3" r="3" fill="#000" stroke="none" stroke-width="1"/>
<circle cx="343.8" cy="230.3" r="3" fill="#000" stroke="none" stroke-width="1"/>
<circle cx="328.5" cy="239.5" r="3" fill="#000" stroke="none" stroke-width="1"/>
<circle cx="333.5" cy="242.6" r="3" fill="#000" stroke="none" stroke-width="1"/>
<circle cx="338.5" cy="242" r="3" fill="#000" stroke="none" stroke-width="1"/>
<circle cx="343.8" cy="246.9" r="3" fill="#000" stroke="none" stroke-width="1"/>
<circle cx="338.5" cy="252.3" r="3" fill="#000" stroke="none" stroke-width="1"/>
<circle cx="330" cy="240.5" r="3" fill="#000" stroke="none" stroke-width="1"/>
<path d="M327 238L349.2 238" stroke="#000" stroke-width="1.5"/>
<path d="M365.8 173.2L369.1 176.5L365.8 179.8L362.5 176.5Z" fill="#000" stroke="none" stroke-width="1"/>
<path d="M365.8 190.6L369.1 193.9L365.8 197.2L362.5 193.9Z" fill="#000" stroke="none" stroke-width="1"/>
<path d="M370.8 189.7L374.1 193L370.8 196.3L367.5 193Z" fill="#000" stroke="none" stroke-width="1"/>
<path d="M368.5 197.9L371.8 201.2L368.5 204.5L365.2 201.2Z" fill="#000" stroke="none" stroke-width="1"/>
<path d="M360.8 200.9L364.1 204.2L360.8 207.5L357.5 204.2Z" fill="#000" stroke="none" stroke-width="1"/>
<path d="M355.7 204L359 207.3L355.7 210.6L352.4 207.3Z" fill="#000" stroke="none" stroke-width="1"/>
<path d="M365.8 204.8L369.1 208.1L365.8 211.4L362.5 208.1Z" fill="#000" stroke="none" stroke-width="1"/>
<path d="M370.8 203.5L374.1 206.8L370.8 210.1L367.5 206.8Z" fill="#000" stroke="none" stroke-width="1"/>
<path d="M365.8 218.6L369.1 221.9L365.8 225.2L362.5 221.9Z" fill="#000" stroke="none" stroke-width="1"/>
<path d="M355 201.6L376.6 201.6" stroke="#000" stroke-width="1.5"/>
<path d="M379.7 174.7L386.5 181.5M379.7 181.5L386.5 174.7" stroke="#000" stroke-width="1.5"/>
<path d="M390.1 175.8L396.9 182.6M390.1 182.6L396.9 175.8" stroke="#000" stroke-width="1.5"/>
<path d="M394.5 172.8L401.3 179.6M394.5 179.6L401.3 172.8" stroke="#000" stroke-width="1.5"/>
<path d="M389.7 192L396.5 198.8M389.7 198.8L396.5 192" stroke="#000" stroke-width="1.5"/>
<path d="M379.7 200.8L386.5 207.6M379.7 207.6L386.5 200.8" stroke="#000" stroke-width="1.5"/>
<path d="M390.1 202.8L396.9 209.6M390.1 209.6L396.9 202.8" stroke="#000" stroke-width="1.5"/>
<path d="M395.1 198.9L401.9 205.7M395.1 205.7L401.9 198.9" stroke="#000" stroke-width="1.5"/>
<path d="M389.3 217L396.1 223.8M389.3 223.8L396.1 217" stroke="#000" stroke-width="1.5"/>
<path d="M394.5 213.1L401.3 219.9M394.5 219.9L401.3 213.1" stroke="#000" stroke-width="1.5"/>
<path d="M382.5 196.9L403.7 196.9" stroke="#000" stroke-width="1.5"/>
<path d="M417 184.4L423.8 184.4M420.4 181L420.4 187.8" stroke="#000" stroke-width="1.2"/>
<path d="M407.4 196.9L414.2 196.9M410.8 193.5L410.8 200.3" stroke="#000" stroke-width="1.2"/>
<path d="M417 198.5L423.8 198.5M420.4 195.1L420.4 201.9" stroke="#000" stroke-width="1.2"/>
<path d="M411.8 211.9L418.6 211.9M415.2 208.5L415.2 215.3" stroke="#000" stroke-width="1.2"/>
<path d="M417 212.7L423.8 212.7M420.4 209.3L420.4 216.1" stroke="#000" stroke-width="1.2"/>
<path d="M422 212.7L428.8 212.7M425.4 209.3L425.4 216.1" stroke="#000" stroke-width="1.2"/>
<path d="M417 219L423.8 219M420.4 215.6L420.4 222.4" stroke="#000" stroke-width="1.2"/>
<path d="M410 206.2L431.5 206.2" stroke="#000" stroke-width="1.5"/>
<path d="M448.5 215.5L451.5 218.5L448.5 221.5L445.5 218.5Z" fill="none" stroke="#000" stroke-width="1.2"/>
<path d="M453.1 218L456.1 221L453.1 224L450.1 221Z" fill="none" stroke="#000" stroke-width="1.2"/>
<path d="M447.9 226.2L450.9 229.2L447.9 232.2L444.9 229.2Z" fill="none" stroke="#000" stroke-width="1.2"/>
<path d="M437.3 223.5L458.8 223.5" stroke="#000" stroke-width="1.5"/>
<defs><pattern id="chk" patternUnits="userSpaceOnUse" x="0" y="0" width="3.8" height="4.3"><rect width="3.8" height="4.3" fill="#000"/><circle cx="0.95" cy="1.05" r="0.85" fill="#fff"/><circle cx="2.85" cy="3.2" r="0.85" fill="#fff"/></pattern></defs>
<text x="0" y="334.6" font-size="11" font-weight="bold">F</text>
<path d="M41.6 347.1L41.6 458.1" stroke="#000" stroke-width="1.5"/>
<path d="M37.8 457.4L122.7 457.4" stroke="#000" stroke-width="1.5"/>
<path d="M37.8 457.4L41.6 457.4" stroke="#000" stroke-width="1.3"/>
<text x="36.4" y="461.8" font-size="12.5" text-anchor="end" textLength="6.9" lengthAdjust="spacingAndGlyphs">0</text>
<path d="M37.8 438.6L41.6 438.6" stroke="#000" stroke-width="1.3"/>
<text x="36.4" y="443" font-size="12.5" text-anchor="end" textLength="6.9" lengthAdjust="spacingAndGlyphs">3</text>
<path d="M37.8 419.8L41.6 419.8" stroke="#000" stroke-width="1.3"/>
<text x="36.4" y="424.2" font-size="12.5" text-anchor="end" textLength="6.9" lengthAdjust="spacingAndGlyphs">6</text>
<path d="M37.8 401L41.6 401" stroke="#000" stroke-width="1.3"/>
<text x="36.4" y="405.4" font-size="12.5" text-anchor="end" textLength="6.9" lengthAdjust="spacingAndGlyphs">9</text>
<path d="M37.8 382.2L41.6 382.2" stroke="#000" stroke-width="1.3"/>
<text x="36.4" y="386.6" font-size="12.5" text-anchor="end" textLength="13.6" lengthAdjust="spacingAndGlyphs">12</text>
<path d="M37.8 363.39L41.6 363.39" stroke="#000" stroke-width="1.3"/>
<text x="36.4" y="367.79" font-size="12.5" text-anchor="end" textLength="13.6" lengthAdjust="spacingAndGlyphs">15</text>
<text transform="translate(15.3 451.8) rotate(-90)" font-size="13.5" textLength="105.3" lengthAdjust="spacingAndGlyphs">Nb of cells (x10<tspan font-size="9.2" dy="-5.4">7</tspan><tspan dy="5.4">)</tspan></text>
<path d="M61.8 457.4L61.8 461.1" stroke="#000" stroke-width="1.3"/>
<path d="M103.1 457.4L103.1 461.1" stroke="#000" stroke-width="1.3"/>
<text x="48.8" y="473.5" font-size="13" textLength="26.2" lengthAdjust="spacingAndGlyphs">Imm</text>
<text x="92" y="473.5" font-size="13" textLength="22.8" lengthAdjust="spacingAndGlyphs">Mat</text>
<path d="M47 450.2L47 451" stroke="#000" stroke-width="1.1"/>
<path d="M45.2 450.2L48.8 450.2" stroke="#000" stroke-width="1.3"/>
<rect x="44.1" y="451" width="5.8" height="6.4" stroke="none" stroke-width="0" fill="#000"/>
<path d="M54.4 447.6L54.4 448.8" stroke="#000" stroke-width="1.1"/>
<path d="M52.6 447.6L56.2 447.6" stroke="#000" stroke-width="1.3"/>
<rect x="52.1" y="449.4" width="4.6" height="8" stroke="#000" stroke-width="1.2" fill="#cfcfcf"/>
<path d="M61.8 447.8L61.8 448.8" stroke="#888" stroke-width="1.1"/>
<path d="M60 447.8L63.6 447.8" stroke="#888" stroke-width="1.3"/>
<rect x="58.9" y="448.8" width="5.8" height="8.6" stroke="none" stroke-width="0" fill="#7a7a7a"/>
<path d="M69.2 449.6L69.2 450.5" stroke="#000" stroke-width="1.1"/>
<path d="M67.4 449.6L71 449.6" stroke="#000" stroke-width="1.3"/>
<rect x="66.9" y="451.1" width="4.6" height="6.3" stroke="#000" stroke-width="1.2" fill="#fff"/>
<path d="M76.6 454.8L76.6 455.2" stroke="#000" stroke-width="1.1"/>
<path d="M74.8 454.8L78.4 454.8" stroke="#000" stroke-width="1.3"/>
<rect x="73.7" y="455.2" width="5.8" height="2.2" stroke="none" stroke-width="0" fill="#000"/>
<path d="M88.9 421.2L88.9 424.1" stroke="#000" stroke-width="1.1"/>
<path d="M87.1 421.2L90.7 421.2" stroke="#000" stroke-width="1.3"/>
<rect x="85.5" y="424.1" width="6.8" height="33.3" stroke="none" stroke-width="0" fill="#000"/>
<path d="M96 380.6L96 386.3" stroke="#000" stroke-width="1.1"/>
<path d="M94.2 380.6L97.8 380.6" stroke="#000" stroke-width="1.3"/>
<rect x="93.2" y="386.9" width="5.6" height="70.5" stroke="#000" stroke-width="1.2" fill="#cfcfcf"/>
<path d="M103.1 356L103.1 367.2" stroke="#888" stroke-width="1.1"/>
<path d="M101.3 356L104.9 356" stroke="#888" stroke-width="1.3"/>
<rect x="99.7" y="367.2" width="6.8" height="90.2" stroke="none" stroke-width="0" fill="#7a7a7a"/>
<path d="M110.2 381.3L110.2 386.8" stroke="#000" stroke-width="1.1"/>
<path d="M108.4 381.3L112 381.3" stroke="#000" stroke-width="1.3"/>
<rect x="107.4" y="387.4" width="5.6" height="70" stroke="#000" stroke-width="1.2" fill="#fff"/>
<path d="M117.3 382.5L117.3 387.3" stroke="#000" stroke-width="1.1"/>
<path d="M115.5 382.5L119.1 382.5" stroke="#000" stroke-width="1.3"/>
<rect x="113.9" y="387.3" width="6.8" height="70.1" stroke="none" stroke-width="0" fill="#000"/>
<path d="M117.50 389.60a0.9 0.9 0 1 0 1.8 0a0.9 0.9 0 1 0 -1.8 0M115.55 391.75a0.9 0.9 0 1 0 1.8 0a0.9 0.9 0 1 0 -1.8 0M117.50 393.90a0.9 0.9 0 1 0 1.8 0a0.9 0.9 0 1 0 -1.8 0M115.55 396.05a0.9 0.9 0 1 0 1.8 0a0.9 0.9 0 1 0 -1.8 0M117.50 398.20a0.9 0.9 0 1 0 1.8 0a0.9 0.9 0 1 0 -1.8 0M115.55 400.35a0.9 0.9 0 1 0 1.8 0a0.9 0.9 0 1 0 -1.8 0M117.50 402.50a0.9 0.9 0 1 0 1.8 0a0.9 0.9 0 1 0 -1.8 0M115.55 404.65a0.9 0.9 0 1 0 1.8 0a0.9 0.9 0 1 0 -1.8 0M117.50 406.80a0.9 0.9 0 1 0 1.8 0a0.9 0.9 0 1 0 -1.8 0M115.55 408.95a0.9 0.9 0 1 0 1.8 0a0.9 0.9 0 1 0 -1.8 0M117.50 411.10a0.9 0.9 0 1 0 1.8 0a0.9 0.9 0 1 0 -1.8 0M115.55 413.25a0.9 0.9 0 1 0 1.8 0a0.9 0.9 0 1 0 -1.8 0M117.50 415.40a0.9 0.9 0 1 0 1.8 0a0.9 0.9 0 1 0 -1.8 0M115.55 417.55a0.9 0.9 0 1 0 1.8 0a0.9 0.9 0 1 0 -1.8 0M117.50 419.70a0.9 0.9 0 1 0 1.8 0a0.9 0.9 0 1 0 -1.8 0M115.55 421.85a0.9 0.9 0 1 0 1.8 0a0.9 0.9 0 1 0 -1.8 0M117.50 424.00a0.9 0.9 0 1 0 1.8 0a0.9 0.9 0 1 0 -1.8 0M115.55 426.15a0.9 0.9 0 1 0 1.8 0a0.9 0.9 0 1 0 -1.8 0M117.50 428.30a0.9 0.9 0 1 0 1.8 0a0.9 0.9 0 1 0 -1.8 0M115.55 430.45a0.9 0.9 0 1 0 1.8 0a0.9 0.9 0 1 0 -1.8 0M117.50 432.60a0.9 0.9 0 1 0 1.8 0a0.9 0.9 0 1 0 -1.8 0M115.55 434.75a0.9 0.9 0 1 0 1.8 0a0.9 0.9 0 1 0 -1.8 0M117.50 436.90a0.9 0.9 0 1 0 1.8 0a0.9 0.9 0 1 0 -1.8 0M115.55 439.05a0.9 0.9 0 1 0 1.8 0a0.9 0.9 0 1 0 -1.8 0M117.50 441.20a0.9 0.9 0 1 0 1.8 0a0.9 0.9 0 1 0 -1.8 0M115.55 443.35a0.9 0.9 0 1 0 1.8 0a0.9 0.9 0 1 0 -1.8 0M117.50 445.50a0.9 0.9 0 1 0 1.8 0a0.9 0.9 0 1 0 -1.8 0M115.55 447.65a0.9 0.9 0 1 0 1.8 0a0.9 0.9 0 1 0 -1.8 0M117.50 449.80a0.9 0.9 0 1 0 1.8 0a0.9 0.9 0 1 0 -1.8 0M115.55 451.95a0.9 0.9 0 1 0 1.8 0a0.9 0.9 0 1 0 -1.8 0M117.50 454.10a0.9 0.9 0 1 0 1.8 0a0.9 0.9 0 1 0 -1.8 0M115.55 456.25a0.9 0.9 0 1 0 1.8 0a0.9 0.9 0 1 0 -1.8 0" fill="#fff"/>
<path d="M88.8 408 L88.8 341.9 L106.2 341.9 L106.2 347.5" stroke="#000" stroke-width="1.5" fill="none"/>
<path d="M106.2 341.9L106.2 347.5" stroke="#000" stroke-width="1.5"/>
<path d="M92.5 347.5L117.5 347.5" stroke="#000" stroke-width="1.5"/>
<path d="M92.20 336.65L92.70 337.91L94.05 338.00L93.01 338.86L93.35 340.18L92.20 339.45L91.05 340.18L91.39 338.86L90.35 338.00L91.70 337.91ZM96.60 336.65L97.10 337.91L98.45 338.00L97.41 338.86L97.75 340.18L96.60 339.45L95.45 340.18L95.79 338.86L94.75 338.00L96.10 337.91ZM101.00 336.65L101.50 337.91L102.85 338.00L101.81 338.86L102.15 340.18L101.00 339.45L99.85 340.18L100.19 338.86L99.15 338.00L100.50 337.91Z" fill="#000" stroke="#000" stroke-width="0.4" stroke-linejoin="round"/>
<path d="M170 349.2L170 460.1" stroke="#000" stroke-width="1.5"/>
<path d="M166.3 459.4L307.8 459.4" stroke="#000" stroke-width="1.5"/>
<path d="M166.3 459.4L170 459.4" stroke="#000" stroke-width="1.3"/>
<text x="164.8" y="463.8" font-size="12.5" text-anchor="end" textLength="6.9" lengthAdjust="spacingAndGlyphs">0</text>
<path d="M166.3 431.95L170 431.95" stroke="#000" stroke-width="1.3"/>
<text x="164.8" y="436.35" font-size="12.5" text-anchor="end" textLength="13.8" lengthAdjust="spacingAndGlyphs">20</text>
<path d="M166.3 404.5L170 404.5" stroke="#000" stroke-width="1.3"/>
<text x="164.8" y="408.9" font-size="12.5" text-anchor="end" textLength="13.8" lengthAdjust="spacingAndGlyphs">40</text>
<path d="M166.3 377.05L170 377.05" stroke="#000" stroke-width="1.3"/>
<text x="164.8" y="381.45" font-size="12.5" text-anchor="end" textLength="13.8" lengthAdjust="spacingAndGlyphs">60</text>
<path d="M166.3 349.6L170 349.6" stroke="#000" stroke-width="1.3"/>
<text x="164.8" y="354" font-size="12.5" text-anchor="end" textLength="13.8" lengthAdjust="spacingAndGlyphs">80</text>
<text transform="translate(139.5 450.6) rotate(-90)" font-size="13.5" textLength="102.3" lengthAdjust="spacingAndGlyphs">Nb of cells (x10<tspan font-size="9.2" dy="-5.4">6</tspan><tspan dy="5.4">)</tspan></text>
<path d="M193 459.4L193 463" stroke="#000" stroke-width="1.3"/>
<path d="M238.4 459.4L238.4 463" stroke="#000" stroke-width="1.3"/>
<path d="M283.7 459.4L283.7 463" stroke="#000" stroke-width="1.3"/>
<text x="184" y="475.2" font-size="13" textLength="18.3" lengthAdjust="spacingAndGlyphs">FO</text>
<text x="228.6" y="475.2" font-size="13" textLength="19.1" lengthAdjust="spacingAndGlyphs">MZ</text>
<text x="261.8" y="474.8" font-size="12.5" textLength="32" lengthAdjust="spacingAndGlyphs">CD21</text>
<text x="296.4" y="467.5" font-size="9.5" textLength="7.6" lengthAdjust="spacingAndGlyphs">lo</text>
<text x="304.8" y="474.8" font-size="12.5" textLength="17.4" lengthAdjust="spacingAndGlyphs">/23</text>
<text x="322.9" y="467.5" font-size="9.5" textLength="7.6" lengthAdjust="spacingAndGlyphs">lo</text>
<path d="M177.2 399.6L177.2 405" stroke="#000" stroke-width="1.1"/>
<path d="M175.4 399.6L179 399.6" stroke="#000" stroke-width="1.3"/>
<rect x="173.5" y="405" width="7.4" height="54.4" stroke="none" stroke-width="0" fill="#000"/>
<path d="M185.1 384.5L185.1 393.3" stroke="#000" stroke-width="1.1"/>
<path d="M183.3 384.5L186.9 384.5" stroke="#000" stroke-width="1.3"/>
<rect x="182" y="393.9" width="6.2" height="65.5" stroke="#000" stroke-width="1.2" fill="#cfcfcf"/>
<path d="M193 375.5L193 384.5" stroke="#888" stroke-width="1.1"/>
<path d="M191.2 375.5L194.8 375.5" stroke="#888" stroke-width="1.3"/>
<rect x="189.3" y="384.5" width="7.4" height="74.9" stroke="none" stroke-width="0" fill="#7a7a7a"/>
<path d="M200.9 398.7L200.9 403.4" stroke="#000" stroke-width="1.1"/>
<path d="M199.1 398.7L202.7 398.7" stroke="#000" stroke-width="1.3"/>
<rect x="197.8" y="404" width="6.2" height="55.4" stroke="#000" stroke-width="1.2" fill="#fff"/>
<path d="M208.8 365.2L208.8 371.4" stroke="#000" stroke-width="1.1"/>
<path d="M207 365.2L210.6 365.2" stroke="#000" stroke-width="1.3"/>
<rect x="205.1" y="371.4" width="7.4" height="88" stroke="none" stroke-width="0" fill="#000"/>
<path d="M208.70 373.70a0.9 0.9 0 1 0 1.8 0a0.9 0.9 0 1 0 -1.8 0M206.75 375.85a0.9 0.9 0 1 0 1.8 0a0.9 0.9 0 1 0 -1.8 0M208.70 378.00a0.9 0.9 0 1 0 1.8 0a0.9 0.9 0 1 0 -1.8 0M206.75 380.15a0.9 0.9 0 1 0 1.8 0a0.9 0.9 0 1 0 -1.8 0M208.70 382.30a0.9 0.9 0 1 0 1.8 0a0.9 0.9 0 1 0 -1.8 0M206.75 384.45a0.9 0.9 0 1 0 1.8 0a0.9 0.9 0 1 0 -1.8 0M208.70 386.60a0.9 0.9 0 1 0 1.8 0a0.9 0.9 0 1 0 -1.8 0M206.75 388.75a0.9 0.9 0 1 0 1.8 0a0.9 0.9 0 1 0 -1.8 0M208.70 390.90a0.9 0.9 0 1 0 1.8 0a0.9 0.9 0 1 0 -1.8 0M206.75 393.05a0.9 0.9 0 1 0 1.8 0a0.9 0.9 0 1 0 -1.8 0M208.70 395.20a0.9 0.9 0 1 0 1.8 0a0.9 0.9 0 1 0 -1.8 0M206.75 397.35a0.9 0.9 0 1 0 1.8 0a0.9 0.9 0 1 0 -1.8 0M208.70 399.50a0.9 0.9 0 1 0 1.8 0a0.9 0.9 0 1 0 -1.8 0M206.75 401.65a0.9 0.9 0 1 0 1.8 0a0.9 0.9 0 1 0 -1.8 0M208.70 403.80a0.9 0.9 0 1 0 1.8 0a0.9 0.9 0 1 0 -1.8 0M206.75 405.95a0.9 0.9 0 1 0 1.8 0a0.9 0.9 0 1 0 -1.8 0M208.70 408.10a0.9 0.9 0 1 0 1.8 0a0.9 0.9 0 1 0 -1.8 0M206.75 410.25a0.9 0.9 0 1 0 1.8 0a0.9 0.9 0 1 0 -1.8 0M208.70 412.40a0.9 0.9 0 1 0 1.8 0a0.9 0.9 0 1 0 -1.8 0M206.75 414.55a0.9 0.9 0 1 0 1.8 0a0.9 0.9 0 1 0 -1.8 0M208.70 416.70a0.9 0.9 0 1 0 1.8 0a0.9 0.9 0 1 0 -1.8 0M206.75 418.85a0.9 0.9 0 1 0 1.8 0a0.9 0.9 0 1 0 -1.8 0M208.70 421.00a0.9 0.9 0 1 0 1.8 0a0.9 0.9 0 1 0 -1.8 0M206.75 423.15a0.9 0.9 0 1 0 1.8 0a0.9 0.9 0 1 0 -1.8 0M208.70 425.30a0.9 0.9 0 1 0 1.8 0a0.9 0.9 0 1 0 -1.8 0M206.75 427.45a0.9 0.9 0 1 0 1.8 0a0.9 0.9 0 1 0 -1.8 0M208.70 429.60a0.9 0.9 0 1 0 1.8 0a0.9 0.9 0 1 0 -1.8 0M206.75 431.75a0.9 0.9 0 1 0 1.8 0a0.9 0.9 0 1 0 -1.8 0M208.70 433.90a0.9 0.9 0 1 0 1.8 0a0.9 0.9 0 1 0 -1.8 0M206.75 436.05a0.9 0.9 0 1 0 1.8 0a0.9 0.9 0 1 0 -1.8 0M208.70 438.20a0.9 0.9 0 1 0 1.8 0a0.9 0.9 0 1 0 -1.8 0M206.75 440.35a0.9 0.9 0 1 0 1.8 0a0.9 0.9 0 1 0 -1.8 0M208.70 442.50a0.9 0.9 0 1 0 1.8 0a0.9 0.9 0 1 0 -1.8 0M206.75 444.65a0.9 0.9 0 1 0 1.8 0a0.9 0.9 0 1 0 -1.8 0M208.70 446.80a0.9 0.9 0 1 0 1.8 0a0.9 0.9 0 1 0 -1.8 0M206.75 448.95a0.9 0.9 0 1 0 1.8 0a0.9 0.9 0 1 0 -1.8 0M208.70 451.10a0.9 0.9 0 1 0 1.8 0a0.9 0.9 0 1 0 -1.8 0M206.75 453.25a0.9 0.9 0 1 0 1.8 0a0.9 0.9 0 1 0 -1.8 0M208.70 455.40a0.9 0.9 0 1 0 1.8 0a0.9 0.9 0 1 0 -1.8 0M206.75 457.55a0.9 0.9 0 1 0 1.8 0a0.9 0.9 0 1 0 -1.8 0" fill="#fff"/>
<path d="M222.4 454L222.4 454.9" stroke="#000" stroke-width="1.1"/>
<path d="M220.6 454L224.2 454" stroke="#000" stroke-width="1.3"/>
<rect x="218.7" y="454.9" width="7.4" height="4.5" stroke="none" stroke-width="0" fill="#000"/>
<path d="M230.4 429.7L230.4 430.6" stroke="#000" stroke-width="1.1"/>
<path d="M228.6 429.7L232.2 429.7" stroke="#000" stroke-width="1.3"/>
<rect x="227.3" y="431.2" width="6.2" height="28.2" stroke="#000" stroke-width="1.2" fill="#cfcfcf"/>
<path d="M238.4 432.2L238.4 434.1" stroke="#888" stroke-width="1.1"/>
<path d="M236.6 432.2L240.2 432.2" stroke="#888" stroke-width="1.3"/>
<rect x="234.7" y="434.1" width="7.4" height="25.3" stroke="none" stroke-width="0" fill="#7a7a7a"/>
<path d="M246.4 432.2L246.4 435.1" stroke="#000" stroke-width="1.1"/>
<path d="M244.6 432.2L248.2 432.2" stroke="#000" stroke-width="1.3"/>
<rect x="243.3" y="435.7" width="6.2" height="23.7" stroke="#000" stroke-width="1.2" fill="#fff"/>
<path d="M254.4 440.6L254.4 442.9" stroke="#000" stroke-width="1.1"/>
<path d="M252.6 440.6L256.2 440.6" stroke="#000" stroke-width="1.3"/>
<rect x="250.7" y="442.9" width="7.4" height="16.5" stroke="none" stroke-width="0" fill="#000"/>
<path d="M254.30 445.20a0.9 0.9 0 1 0 1.8 0a0.9 0.9 0 1 0 -1.8 0M252.35 447.35a0.9 0.9 0 1 0 1.8 0a0.9 0.9 0 1 0 -1.8 0M254.30 449.50a0.9 0.9 0 1 0 1.8 0a0.9 0.9 0 1 0 -1.8 0M252.35 451.65a0.9 0.9 0 1 0 1.8 0a0.9 0.9 0 1 0 -1.8 0M254.30 453.80a0.9 0.9 0 1 0 1.8 0a0.9 0.9 0 1 0 -1.8 0M252.35 455.95a0.9 0.9 0 1 0 1.8 0a0.9 0.9 0 1 0 -1.8 0M254.30 458.10a0.9 0.9 0 1 0 1.8 0a0.9 0.9 0 1 0 -1.8 0" fill="#fff"/>
<path d="M267.7 445.4L267.7 447" stroke="#000" stroke-width="1.1"/>
<path d="M265.9 445.4L269.5 445.4" stroke="#000" stroke-width="1.3"/>
<rect x="264" y="447" width="7.4" height="12.4" stroke="none" stroke-width="0" fill="#000"/>
<path d="M275.7 387.6L275.7 393.1" stroke="#000" stroke-width="1.1"/>
<path d="M273.9 387.6L277.5 387.6" stroke="#000" stroke-width="1.3"/>
<rect x="272.6" y="393.7" width="6.2" height="65.7" stroke="#000" stroke-width="1.2" fill="#cfcfcf"/>
<path d="M283.7 352.5L283.7 365.4" stroke="#888" stroke-width="1.1"/>
<path d="M281.9 352.5L285.5 352.5" stroke="#888" stroke-width="1.3"/>
<rect x="280" y="365.4" width="7.4" height="94" stroke="none" stroke-width="0" fill="#7a7a7a"/>
<path d="M291.7 383L291.7 386.7" stroke="#000" stroke-width="1.1"/>
<path d="M289.9 383L293.5 383" stroke="#000" stroke-width="1.3"/>
<rect x="288.6" y="387.3" width="6.2" height="72.1" stroke="#000" stroke-width="1.2" fill="#fff"/>
<path d="M299.7 420.7L299.7 423.1" stroke="#000" stroke-width="1.1"/>
<path d="M297.9 420.7L301.5 420.7" stroke="#000" stroke-width="1.3"/>
<rect x="296" y="423.1" width="7.4" height="36.3" stroke="none" stroke-width="0" fill="#000"/>
<path d="M299.60 425.40a0.9 0.9 0 1 0 1.8 0a0.9 0.9 0 1 0 -1.8 0M297.65 427.55a0.9 0.9 0 1 0 1.8 0a0.9 0.9 0 1 0 -1.8 0M299.60 429.70a0.9 0.9 0 1 0 1.8 0a0.9 0.9 0 1 0 -1.8 0M297.65 431.85a0.9 0.9 0 1 0 1.8 0a0.9 0.9 0 1 0 -1.8 0M299.60 434.00a0.9 0.9 0 1 0 1.8 0a0.9 0.9 0 1 0 -1.8 0M297.65 436.15a0.9 0.9 0 1 0 1.8 0a0.9 0.9 0 1 0 -1.8 0M299.60 438.30a0.9 0.9 0 1 0 1.8 0a0.9 0.9 0 1 0 -1.8 0M297.65 440.45a0.9 0.9 0 1 0 1.8 0a0.9 0.9 0 1 0 -1.8 0M299.60 442.60a0.9 0.9 0 1 0 1.8 0a0.9 0.9 0 1 0 -1.8 0M297.65 444.75a0.9 0.9 0 1 0 1.8 0a0.9 0.9 0 1 0 -1.8 0M299.60 446.90a0.9 0.9 0 1 0 1.8 0a0.9 0.9 0 1 0 -1.8 0M297.65 449.05a0.9 0.9 0 1 0 1.8 0a0.9 0.9 0 1 0 -1.8 0M299.60 451.20a0.9 0.9 0 1 0 1.8 0a0.9 0.9 0 1 0 -1.8 0M297.65 453.35a0.9 0.9 0 1 0 1.8 0a0.9 0.9 0 1 0 -1.8 0M299.60 455.50a0.9 0.9 0 1 0 1.8 0a0.9 0.9 0 1 0 -1.8 0M297.65 457.65a0.9 0.9 0 1 0 1.8 0a0.9 0.9 0 1 0 -1.8 0" fill="#fff"/>
<path d="M221.1 443.5 L221.1 407.6 L255.4 407.6 L255.4 433.5" stroke="#000" stroke-width="1.5" fill="none"/>
<path d="M239 407.6L239 413.7" stroke="#000" stroke-width="1.5"/>
<path d="M228.6 413.7L248.4 413.7" stroke="#000" stroke-width="1.5"/>
<path d="M224.70 402.85L225.20 404.11L226.55 404.20L225.51 405.06L225.85 406.38L224.70 405.65L223.55 406.38L223.89 405.06L222.85 404.20L224.20 404.11ZM229.30 402.85L229.80 404.11L231.15 404.20L230.11 405.06L230.45 406.38L229.30 405.65L228.15 406.38L228.49 405.06L227.45 404.20L228.80 404.11ZM234.20 402.85L234.70 404.11L236.05 404.20L235.01 405.06L235.35 406.38L234.20 405.65L233.05 406.38L233.39 405.06L232.35 404.20L233.70 404.11Z" fill="#000" stroke="#000" stroke-width="0.4" stroke-linejoin="round"/>
<path d="M243.90 402.85L244.40 404.11L245.75 404.20L244.71 405.06L245.05 406.38L243.90 405.65L242.75 406.38L243.09 405.06L242.05 404.20L243.40 404.11ZM248.50 402.85L249.00 404.11L250.35 404.20L249.31 405.06L249.65 406.38L248.50 405.65L247.35 406.38L247.69 405.06L246.65 404.20L248.00 404.11Z" fill="#000" stroke="#000" stroke-width="0.4" stroke-linejoin="round"/>
<text x="229.2" y="421.6" font-size="10.5" textLength="10.4" lengthAdjust="spacingAndGlyphs">ns</text>
<path d="M227.4 423.8L240.9 423.8" stroke="#000" stroke-width="1.4"/>
<path d="M266.1 428.6 L266.1 333.2 L300.9 333.2 L300.9 402.8" stroke="#000" stroke-width="1.5" fill="none"/>
<path d="M284.3 333.2L284.3 338.7" stroke="#000" stroke-width="1.5"/>
<path d="M272.7 338.7L294.3 338.7" stroke="#000" stroke-width="1.5"/>
<path d="M270.40 327.75L270.90 329.01L272.25 329.10L271.21 329.96L271.55 331.28L270.40 330.55L269.25 331.28L269.59 329.96L268.55 329.10L269.90 329.01ZM275.00 327.75L275.50 329.01L276.85 329.10L275.81 329.96L276.15 331.28L275.00 330.55L273.85 331.28L274.19 329.96L273.15 329.10L274.50 329.01ZM279.50 327.75L280.00 329.01L281.35 329.10L280.31 329.96L280.65 331.28L279.50 330.55L278.35 331.28L278.69 329.96L277.65 329.10L279.00 329.01Z" fill="#000" stroke="#000" stroke-width="0.4" stroke-linejoin="round"/>
<path d="M292.50 327.75L293.00 329.01L294.35 329.10L293.31 329.96L293.65 331.28L292.50 330.55L291.35 331.28L291.69 329.96L290.65 329.10L292.00 329.01Z" fill="#000" stroke="#000" stroke-width="0.4" stroke-linejoin="round"/>
<text x="274.6" y="347" font-size="10.5" textLength="10.9" lengthAdjust="spacingAndGlyphs">ns</text>
<path d="M272.7 349L286.5 349" stroke="#000" stroke-width="1.4"/>
<path d="M375.6 348.7L375.6 460" stroke="#000" stroke-width="1.5"/>
<path d="M372.3 459.3L417.4 459.3" stroke="#000" stroke-width="1.5"/>
<path d="M372.3 459.3L375.6 459.3" stroke="#000" stroke-width="1.3"/>
<text x="370.7" y="463.7" font-size="12.5" text-anchor="end" textLength="6.9" lengthAdjust="spacingAndGlyphs">0</text>
<path d="M372.3 437.41L375.6 437.41" stroke="#000" stroke-width="1.3"/>
<text x="370.7" y="441.81" font-size="12.5" text-anchor="end" textLength="13.8" lengthAdjust="spacingAndGlyphs">25</text>
<path d="M372.3 415.51L375.6 415.51" stroke="#000" stroke-width="1.3"/>
<text x="370.7" y="419.91" font-size="12.5" text-anchor="end" textLength="13.8" lengthAdjust="spacingAndGlyphs">50</text>
<path d="M372.3 393.62L375.6 393.62" stroke="#000" stroke-width="1.3"/>
<text x="370.7" y="398.01" font-size="12.5" text-anchor="end" textLength="13.8" lengthAdjust="spacingAndGlyphs">75</text>
<path d="M372.3 371.72L375.6 371.72" stroke="#000" stroke-width="1.3"/>
<text x="370.7" y="376.12" font-size="12.5" text-anchor="end" textLength="20.7" lengthAdjust="spacingAndGlyphs">100</text>
<path d="M372.3 349.82L375.6 349.82" stroke="#000" stroke-width="1.3"/>
<text x="370.7" y="354.22" font-size="12.5" text-anchor="end" textLength="20.7" lengthAdjust="spacingAndGlyphs">125</text>
<text transform="translate(345.4 450.6) rotate(-90)" font-size="13.5" textLength="102.3" lengthAdjust="spacingAndGlyphs">Nb of cells (x10<tspan font-size="9.2" dy="-5.4">5</tspan><tspan dy="5.4">)</tspan></text>
<path d="M396.6 459.3L396.6 462.9" stroke="#000" stroke-width="1.3"/>
<text x="387.1" y="475.2" font-size="13" textLength="18.9" lengthAdjust="spacingAndGlyphs">GC</text>
<path d="M381.9 455L381.9 455.7" stroke="#000" stroke-width="1.1"/>
<path d="M380.1 455L383.7 455" stroke="#000" stroke-width="1.3"/>
<rect x="378.6" y="455.7" width="6.6" height="3.6" stroke="none" stroke-width="0" fill="#000"/>
<path d="M389.25 436L389.25 441.9" stroke="#000" stroke-width="1.1"/>
<path d="M387.45 436L391.05 436" stroke="#000" stroke-width="1.3"/>
<rect x="386.55" y="442.5" width="5.4" height="16.8" stroke="#000" stroke-width="1.2" fill="#cfcfcf"/>
<path d="M396.6 360.3L396.6 394" stroke="#888" stroke-width="1.1"/>
<path d="M394.8 360.3L398.4 360.3" stroke="#888" stroke-width="1.3"/>
<rect x="393.3" y="394" width="6.6" height="65.3" stroke="none" stroke-width="0" fill="#7a7a7a"/>
<path d="M403.95 441.6L403.95 442.6" stroke="#000" stroke-width="1.1"/>
<path d="M402.15 441.6L405.75 441.6" stroke="#000" stroke-width="1.3"/>
<rect x="401.25" y="443.2" width="5.4" height="16.1" stroke="#000" stroke-width="1.2" fill="#fff"/>
<path d="M411.3 424L411.3 430.9" stroke="#000" stroke-width="1.1"/>
<path d="M409.5 424L413.1 424" stroke="#000" stroke-width="1.3"/>
<rect x="408" y="430.9" width="6.6" height="28.4" stroke="none" stroke-width="0" fill="#000"/>
<path d="M411.60 433.20a0.9 0.9 0 1 0 1.8 0a0.9 0.9 0 1 0 -1.8 0M409.65 435.35a0.9 0.9 0 1 0 1.8 0a0.9 0.9 0 1 0 -1.8 0M411.60 437.50a0.9 0.9 0 1 0 1.8 0a0.9 0.9 0 1 0 -1.8 0M409.65 439.65a0.9 0.9 0 1 0 1.8 0a0.9 0.9 0 1 0 -1.8 0M411.60 441.80a0.9 0.9 0 1 0 1.8 0a0.9 0.9 0 1 0 -1.8 0M409.65 443.95a0.9 0.9 0 1 0 1.8 0a0.9 0.9 0 1 0 -1.8 0M411.60 446.10a0.9 0.9 0 1 0 1.8 0a0.9 0.9 0 1 0 -1.8 0M409.65 448.25a0.9 0.9 0 1 0 1.8 0a0.9 0.9 0 1 0 -1.8 0M411.60 450.40a0.9 0.9 0 1 0 1.8 0a0.9 0.9 0 1 0 -1.8 0M409.65 452.55a0.9 0.9 0 1 0 1.8 0a0.9 0.9 0 1 0 -1.8 0M411.60 454.70a0.9 0.9 0 1 0 1.8 0a0.9 0.9 0 1 0 -1.8 0M409.65 456.85a0.9 0.9 0 1 0 1.8 0a0.9 0.9 0 1 0 -1.8 0" fill="#fff"/>
<path d="M382.6 437.9 L382.6 340.8 L399.2 340.8 L399.2 346.7" stroke="#000" stroke-width="1.5" fill="none"/>
<path d="M399.2 340.8L399.2 346.7" stroke="#000" stroke-width="1.5"/>
<path d="M387.1 346.7L411.9 346.7" stroke="#000" stroke-width="1.5"/>
<path d="M391.30 334.55L391.80 335.81L393.15 335.90L392.11 336.76L392.45 338.08L391.30 337.35L390.15 338.08L390.49 336.76L389.45 335.90L390.80 335.81Z" fill="#000" stroke="#000" stroke-width="0.4" stroke-linejoin="round"/>
<text x="388" y="355.9" font-size="10.5" textLength="10.3" lengthAdjust="spacingAndGlyphs">ns</text>
<path d="M387.1 358.1L398.1 358.1" stroke="#000" stroke-width="1.4"/>
<rect x="424.1" y="360.1" width="17.6" height="8.5" stroke="none" stroke-width="0" fill="#000"/>
<text x="443" y="368.4" font-size="10.8">WT</text>
<rect x="424.7" y="375.2" width="16.4" height="6.1" stroke="#000" stroke-width="1.2" fill="#cfcfcf"/>
<text x="443" y="381.7" font-size="10.8">None</text>
<rect x="424.1" y="385.3" width="17.6" height="7.7" stroke="none" stroke-width="0" fill="#7a7a7a"/>
<text x="443.0" y="392.8" font-size="10.8"><tspan font-size="8.5">+</tspan>pIgG</text>
<rect x="424.7" y="397" width="16.4" height="6.5" stroke="#000" stroke-width="1.2" fill="#fff"/>
<text x="443.0" y="403.9" font-size="10.8"><tspan font-size="8.5">+</tspan>mIgG</text>
<rect x="424.1" y="407.1" width="17.6" height="7.9" stroke="none" stroke-width="0" fill="#000"/>
<path d="M427.70 408.80a0.9 0.9 0 1 0 1.8 0a0.9 0.9 0 1 0 -1.8 0M431.60 408.80a0.9 0.9 0 1 0 1.8 0a0.9 0.9 0 1 0 -1.8 0M435.50 408.80a0.9 0.9 0 1 0 1.8 0a0.9 0.9 0 1 0 -1.8 0M425.75 410.95a0.9 0.9 0 1 0 1.8 0a0.9 0.9 0 1 0 -1.8 0M429.65 410.95a0.9 0.9 0 1 0 1.8 0a0.9 0.9 0 1 0 -1.8 0M433.55 410.95a0.9 0.9 0 1 0 1.8 0a0.9 0.9 0 1 0 -1.8 0M437.45 410.95a0.9 0.9 0 1 0 1.8 0a0.9 0.9 0 1 0 -1.8 0M427.70 413.10a0.9 0.9 0 1 0 1.8 0a0.9 0.9 0 1 0 -1.8 0M431.60 413.10a0.9 0.9 0 1 0 1.8 0a0.9 0.9 0 1 0 -1.8 0M435.50 413.10a0.9 0.9 0 1 0 1.8 0a0.9 0.9 0 1 0 -1.8 0" fill="#fff"/>
<text x="443.0" y="414.8" font-size="10.8"><tspan font-size="8.5">+</tspan>sera</text>
<path d="M480.6 373.2L480.6 417" stroke="#000" stroke-width="1.5"/>
<text x="484.7" y="399.6" font-size="12.5" textLength="35.4" lengthAdjust="spacingAndGlyphs">AIDμS</text>
<text x="0" y="495" font-size="11.5" font-weight="bold">G</text>
<text x="291.1" y="496.6" font-size="15" textLength="43.1" lengthAdjust="spacingAndGlyphs">AIDμS</text>
<path d="M115.8 502.8L518.9 502.8" stroke="#000" stroke-width="2.0"/>
<text x="54.2" y="519.2" font-size="14" textLength="20.8" lengthAdjust="spacingAndGlyphs">WT</text>
<text x="142.3" y="519.2" font-size="14" textLength="32.3" lengthAdjust="spacingAndGlyphs">None</text>
<text x="249.2" y="519.2" font-size="14" textLength="37" lengthAdjust="spacingAndGlyphs">+pIgG</text>
<text x="342.3" y="519.2" font-size="14" textLength="41.1" lengthAdjust="spacingAndGlyphs">+mIgG</text>
<text x="448.5" y="519.2" font-size="14" textLength="33.4" lengthAdjust="spacingAndGlyphs">+sera</text>
<path d="M7.8 584L7.8 531" stroke="#000" stroke-width="1.6"/>
<path d="M8 524.8L4.4 532.2L11.6 532.2Z" fill="#000"/>
<text x="10.5" y="617.5" font-size="13" textLength="21.3" lengthAdjust="spacingAndGlyphs" transform="rotate(-90 10.5 617.5)">GL7</text>
<text x="15" y="634.2" font-size="12" textLength="23.1" lengthAdjust="spacingAndGlyphs">FAS</text>
<path d="M51.3 630.9L512 630.9" stroke="#000" stroke-width="1.6"/>
<path d="M519.2 631L511 627.4L511 634.6Z" fill="#000"/>
<path d="M75 538.5h1M78 538.5h1M69 539.5h1M70 540.5h1M77 540.5h1M37 542.5h1M70 543.5h2M65 544.5h1M69 544.5h1M80 544.5h1M87 544.5h1M68 546.5h1M52 547.5h1M77 547.5h1M56 550.5h1M66 550.5h1M69 550.5h1M41 551.5h1M64 551.5h1M18 553.5h1M22 554.5h1M32 554.5h1M44 554.5h1M55 554.5h1M27 555.5h1M47 555.5h1M49 555.5h1M26 556.5h1M38 556.5h1M48 556.5h1M68 556.5h1M15 557.5h1M43 557.5h1M48 557.5h1M73 557.5h1M15 558.5h1M21 558.5h1M18 559.5h1M24 559.5h1M27 559.5h1M29 559.5h1M34 559.5h1M44 559.5h2M66 559.5h1M21 560.5h1M27 560.5h1M37 560.5h1M43 560.5h1M61 560.5h1M74 560.5h1M15 561.5h1M19 561.5h2M25 561.5h1M27 561.5h2M45 561.5h1M51 561.5h1M56 561.5h1M60 561.5h1M83 561.5h1M17 562.5h2M21 562.5h2M24 562.5h1M35 562.5h1M37 562.5h1M44 562.5h1M48 562.5h2M51 562.5h1M54 562.5h1M56 562.5h1M58 562.5h1M70 562.5h1M73 562.5h1M15 563.5h1M23 563.5h1M27 563.5h1M29 563.5h1M36 563.5h1M39 563.5h1M42 563.5h1M45 563.5h1M48 563.5h1M50 563.5h1M53 563.5h1M62 563.5h1M83 563.5h1M15 564.5h1M22 564.5h1M26 564.5h4M36 564.5h1M41 564.5h1M44 564.5h1M52 564.5h1M54 564.5h1M61 564.5h1M63 564.5h1M15 565.5h1M17 565.5h1M21 565.5h1M25 565.5h1M33 565.5h2M36 565.5h2M54 565.5h2M18 566.5h1M20 566.5h1M23 566.5h4M30 566.5h1M33 566.5h1M37 566.5h1M42 566.5h2M45 566.5h1M50 566.5h2M60 566.5h1M62 566.5h1M67 566.5h1M17 567.5h2M25 567.5h1M27 567.5h2M31 567.5h3M40 567.5h1M45 567.5h1M47 567.5h2M54 567.5h1M56 567.5h1M61 567.5h1M75 567.5h1M79 567.5h2M15 568.5h1M22 568.5h2M27 568.5h1M29 568.5h1M31 568.5h1M34 568.5h2M38 568.5h1M40 568.5h3M45 568.5h2M50 568.5h1M52 568.5h1M54 568.5h1M66 568.5h1M86 568.5h1M19 569.5h1M22 569.5h1M26 569.5h1M32 569.5h1M35 569.5h1M38 569.5h1M41 569.5h1M44 569.5h1M47 569.5h1M50 569.5h3M57 569.5h3M65 569.5h1M68 569.5h1M16 570.5h1M20 570.5h1M30 570.5h1M33 570.5h1M38 570.5h2M44 570.5h2M51 570.5h1M55 570.5h1M59 570.5h1M64 570.5h1M73 570.5h1M15 571.5h1M17 571.5h2M24 571.5h4M33 571.5h1M36 571.5h2M42 571.5h1M46 571.5h1M49 571.5h1M53 571.5h1M58 571.5h3M62 571.5h1M65 571.5h1M16 572.5h2M19 572.5h1M26 572.5h1M30 572.5h1M37 572.5h1M42 572.5h1M44 572.5h2M48 572.5h8M64 572.5h1M18 573.5h3M23 573.5h1M27 573.5h1M30 573.5h1M36 573.5h2M42 573.5h1M48 573.5h1M51 573.5h2M55 573.5h1M58 573.5h1M60 573.5h2M63 573.5h2M70 573.5h2M78 573.5h1M17 574.5h1M22 574.5h5M28 574.5h1M32 574.5h1M34 574.5h2M43 574.5h1M46 574.5h1M48 574.5h1M54 574.5h1M63 574.5h4M18 575.5h1M24 575.5h2M33 575.5h1M39 575.5h1M41 575.5h1M43 575.5h1M45 575.5h1M47 575.5h2M55 575.5h1M57 575.5h1M62 575.5h1M64 575.5h1M66 575.5h1M68 575.5h1M75 575.5h1M15 576.5h1M23 576.5h1M25 576.5h1M31 576.5h1M37 576.5h1M44 576.5h1M46 576.5h1M49 576.5h1M55 576.5h1M59 576.5h1M74 576.5h1M77 576.5h1M86 576.5h1M17 577.5h1M21 577.5h1M24 577.5h1M26 577.5h1M31 577.5h2M36 577.5h1M40 577.5h3M46 577.5h1M49 577.5h1M54 577.5h1M57 577.5h2M62 577.5h2M65 577.5h2M16 578.5h1M21 578.5h3M27 578.5h1M31 578.5h1M33 578.5h1M40 578.5h1M48 578.5h1M52 578.5h1M58 578.5h2M61 578.5h1M63 578.5h1M65 578.5h2M69 578.5h1M71 578.5h1M75 578.5h1M77 578.5h1M81 578.5h1M96 578.5h1M17 579.5h2M22 579.5h1M33 579.5h1M40 579.5h1M50 579.5h1M53 579.5h1M55 579.5h1M60 579.5h1M64 579.5h2M17 580.5h1M27 580.5h1M29 580.5h1M40 580.5h1M44 580.5h1M49 580.5h2M52 580.5h2M56 580.5h1M58 580.5h2M61 580.5h2M65 580.5h2M68 580.5h1M70 580.5h1M72 580.5h1M19 581.5h1M22 581.5h1M27 581.5h1M30 581.5h1M34 581.5h1M48 581.5h1M54 581.5h1M58 581.5h1M60 581.5h5M68 581.5h2M75 581.5h2M80 581.5h1M30 582.5h1M53 582.5h1M55 582.5h1M59 582.5h1M63 582.5h1M66 582.5h1M73 582.5h2M76 582.5h1M78 582.5h1M89 582.5h1M16 583.5h1M23 583.5h1M25 583.5h1M28 583.5h1M30 583.5h1M50 583.5h1M57 583.5h2M60 583.5h1M63 583.5h3M69 583.5h1M17 584.5h1M32 584.5h1M46 584.5h1M51 584.5h1M58 584.5h1M63 584.5h1M67 584.5h1M74 584.5h1M16 585.5h1M18 585.5h1M52 585.5h2M58 585.5h1M60 585.5h2M65 585.5h1M67 585.5h2M72 585.5h1M16 586.5h2M51 586.5h1M58 586.5h1M63 586.5h2M66 586.5h1M69 586.5h2M74 586.5h1M79 586.5h2M31 587.5h1M60 587.5h1M62 587.5h3M68 587.5h1M72 587.5h1M15 588.5h1M17 588.5h2M21 588.5h2M58 588.5h1M61 588.5h1M63 588.5h1M67 588.5h1M70 588.5h1M74 588.5h3M16 589.5h2M19 589.5h4M55 589.5h1M58 589.5h1M62 589.5h2M66 589.5h1M68 589.5h1M18 590.5h1M57 590.5h1M62 590.5h2M66 590.5h2M69 590.5h1M19 591.5h2M55 591.5h1M65 591.5h3M71 591.5h1M73 591.5h3M15 592.5h2M20 592.5h1M58 592.5h1M67 592.5h1M69 592.5h1M71 592.5h1M80 592.5h1M15 593.5h1M60 593.5h1M63 593.5h1M65 593.5h2M69 593.5h1M73 593.5h2M20 594.5h1M61 594.5h1M65 594.5h1M67 594.5h2M71 594.5h2M76 594.5h1M16 595.5h1M57 595.5h1M64 595.5h3M84 595.5h1M53 596.5h1M63 596.5h1M67 596.5h3M72 596.5h3M18 597.5h1M58 597.5h1M63 597.5h1M72 597.5h1M80 597.5h1M21 598.5h1M55 598.5h1M60 598.5h1M64 598.5h1M66 598.5h2M69 598.5h2M77 598.5h1M86 598.5h1M17 599.5h1M59 599.5h1M61 599.5h1M64 599.5h1M70 599.5h1M74 599.5h2M47 600.5h1M72 600.5h1M77 600.5h1M85 600.5h1M61 601.5h2M65 601.5h1M69 601.5h2M16 602.5h1M18 602.5h1M21 602.5h1M61 602.5h1M63 602.5h3M67 602.5h1M80 602.5h1M16 603.5h3M56 603.5h1M61 603.5h1M66 603.5h1M70 603.5h1M73 603.5h1M76 603.5h1M60 604.5h1M73 604.5h1M77 604.5h1M60 605.5h1M71 605.5h2M79 605.5h1M16 606.5h1M58 606.5h1M65 606.5h1M72 606.5h1M55 607.5h1M61 607.5h3M65 607.5h1M71 607.5h2M74 607.5h1M76 607.5h1M81 607.5h1M19 608.5h2M22 608.5h1M61 608.5h1M65 608.5h1M68 608.5h3M74 608.5h1M80 608.5h1M15 609.5h2M60 609.5h1M78 609.5h1M16 610.5h2M49 610.5h1M56 610.5h1M58 610.5h1M60 610.5h1M62 610.5h1M70 610.5h1M73 610.5h2M15 611.5h3M20 611.5h1M24 611.5h1M43 611.5h1M52 611.5h1M57 611.5h4M62 611.5h2M68 611.5h3M17 612.5h1M20 612.5h1M24 612.5h1M51 612.5h1M53 612.5h1M55 612.5h1M57 612.5h2M60 612.5h3M64 612.5h1M68 612.5h1M17 613.5h1M25 613.5h1M48 613.5h1M50 613.5h2M55 613.5h1M57 613.5h1M59 613.5h1M63 613.5h1M65 613.5h1M68 613.5h1M15 614.5h4M22 614.5h1M43 614.5h1M59 614.5h1M61 614.5h6M69 614.5h1M15 615.5h2M20 615.5h2M35 615.5h1M39 615.5h1M47 615.5h1M50 615.5h1M55 615.5h1M57 615.5h1M65 615.5h1M80 615.5h1M18 616.5h1M20 616.5h2M24 616.5h1M26 616.5h1M43 616.5h1M49 616.5h5M62 616.5h1M64 616.5h2M17 617.5h1M43 617.5h1M47 617.5h1M53 617.5h1M55 617.5h1M60 617.5h1M62 617.5h2M65 617.5h2M18 618.5h1M22 618.5h1M24 618.5h1M26 618.5h1M32 618.5h2M38 618.5h2M47 618.5h1M60 618.5h2M64 618.5h1M15 619.5h1M28 619.5h1M37 619.5h1M40 619.5h1M42 619.5h1M50 619.5h1M52 619.5h1M60 619.5h1M15 620.5h2M18 620.5h2M21 620.5h2M24 620.5h2M27 620.5h2M30 620.5h1M36 620.5h2M40 620.5h1M52 620.5h1M54 620.5h4M62 620.5h3M66 620.5h1M16 621.5h1M19 621.5h2M31 621.5h2M34 621.5h1M39 621.5h1M44 621.5h3M48 621.5h1M51 621.5h1M53 621.5h1M59 621.5h1M61 621.5h1M56 622.5h1M62 622.5h1M67 622.5h1M74 622.5h1" stroke="#707070" stroke-width="1" shape-rendering="crispEdges"/>
<path d="M52 551.5h1M14 557.5h1M30 557.5h1M14 558.5h1M14 560.5h1M17 560.5h1M33 560.5h1M14 561.5h1M34 562.5h1M57 562.5h1M14 563.5h1M14 564.5h1M34 564.5h1M53 564.5h1M38 565.5h1M52 565.5h2M14 566.5h1M22 566.5h1M29 566.5h1M34 566.5h2M38 566.5h2M41 566.5h1M14 567.5h1M20 567.5h1M22 567.5h1M51 567.5h1M14 568.5h1M18 568.5h1M26 568.5h1M32 568.5h1M36 568.5h1M39 568.5h1M58 568.5h1M23 569.5h2M28 569.5h2M49 569.5h1M53 569.5h2M23 570.5h3M31 570.5h1M40 570.5h1M53 570.5h1M63 570.5h1M28 571.5h3M35 571.5h1M39 571.5h3M47 571.5h1M57 571.5h1M23 572.5h2M27 572.5h3M31 572.5h1M35 572.5h2M38 572.5h2M46 572.5h2M57 572.5h1M60 572.5h1M15 573.5h1M17 573.5h1M24 573.5h1M26 573.5h1M29 573.5h1M32 573.5h2M39 573.5h1M43 573.5h2M54 573.5h1M56 573.5h2M65 573.5h1M16 574.5h1M29 574.5h3M33 574.5h1M37 574.5h1M39 574.5h1M44 574.5h2M47 574.5h1M49 574.5h1M51 574.5h1M58 574.5h1M70 574.5h1M14 575.5h1M17 575.5h1M21 575.5h3M30 575.5h2M34 575.5h1M36 575.5h1M38 575.5h1M49 575.5h1M54 575.5h1M59 575.5h2M65 575.5h1M73 575.5h1M16 576.5h1M18 576.5h1M21 576.5h2M34 576.5h1M36 576.5h1M38 576.5h1M40 576.5h1M45 576.5h1M47 576.5h1M50 576.5h1M52 576.5h1M57 576.5h1M63 576.5h1M16 577.5h1M22 577.5h1M28 577.5h3M37 577.5h1M52 577.5h1M56 577.5h1M59 577.5h1M61 577.5h1M15 578.5h1M18 578.5h1M30 578.5h1M36 578.5h1M38 578.5h2M42 578.5h1M44 578.5h1M47 578.5h1M56 578.5h1M60 578.5h1M30 579.5h2M35 579.5h1M41 579.5h1M47 579.5h1M54 579.5h1M57 579.5h1M62 579.5h1M71 579.5h1M76 579.5h1M18 580.5h1M20 580.5h3M25 580.5h1M30 580.5h1M33 580.5h1M37 580.5h1M39 580.5h1M43 580.5h1M46 580.5h2M60 580.5h1M15 581.5h2M20 581.5h1M25 581.5h1M36 581.5h2M43 581.5h2M51 581.5h1M53 581.5h1M55 581.5h1M57 581.5h1M59 581.5h1M66 581.5h1M17 582.5h1M19 582.5h2M23 582.5h1M27 582.5h1M43 582.5h3M56 582.5h1M15 583.5h1M17 583.5h2M20 583.5h1M36 583.5h1M44 583.5h1M51 583.5h1M59 583.5h1M74 583.5h1M16 584.5h1M19 584.5h1M25 584.5h2M44 584.5h1M54 584.5h1M62 584.5h1M72 584.5h2M27 585.5h1M45 585.5h1M49 585.5h2M55 585.5h1M62 585.5h1M64 585.5h1M70 585.5h1M19 586.5h1M31 586.5h1M47 586.5h2M54 586.5h2M57 586.5h1M59 586.5h1M61 586.5h1M24 587.5h1M57 587.5h3M61 587.5h1M65 587.5h2M50 588.5h2M59 588.5h1M50 589.5h1M52 589.5h1M57 589.5h1M59 589.5h2M17 590.5h1M24 590.5h1M49 590.5h1M61 590.5h1M65 590.5h1M68 590.5h1M18 591.5h1M24 591.5h1M26 591.5h1M57 591.5h1M60 591.5h1M62 591.5h2M17 592.5h1M54 592.5h1M59 592.5h2M63 592.5h2M16 593.5h1M49 593.5h1M54 593.5h1M56 593.5h2M64 593.5h1M71 593.5h2M79 593.5h1M18 594.5h1M28 594.5h1M50 594.5h1M59 594.5h1M62 594.5h1M69 594.5h1M73 594.5h1M17 595.5h1M25 595.5h1M58 595.5h1M62 595.5h1M16 596.5h2M19 596.5h1M21 596.5h1M64 596.5h1M17 597.5h1M19 597.5h1M51 597.5h1M65 597.5h1M18 598.5h1M20 598.5h1M23 598.5h1M59 598.5h1M20 599.5h3M60 599.5h1M51 600.5h1M60 600.5h1M16 601.5h1M23 601.5h1M25 601.5h1M63 601.5h2M19 602.5h1M68 602.5h1M22 603.5h2M31 603.5h1M49 603.5h1M63 603.5h1M17 604.5h2M50 604.5h1M57 604.5h1M59 604.5h1M62 604.5h1M68 604.5h2M18 605.5h2M21 605.5h1M59 605.5h1M61 605.5h2M65 605.5h2M17 606.5h1M17 607.5h1M54 607.5h1M57 607.5h2M60 607.5h1M64 607.5h1M52 608.5h1M56 608.5h2M63 608.5h1M66 608.5h1M17 609.5h1M30 609.5h1M48 609.5h1M53 609.5h1M56 609.5h1M59 609.5h1M61 609.5h1M66 609.5h1M68 609.5h1M18 610.5h3M52 610.5h1M61 610.5h1M63 610.5h2M67 610.5h1M19 611.5h1M32 611.5h2M54 611.5h3M64 611.5h1M18 612.5h2M46 612.5h1M52 612.5h1M18 613.5h1M20 613.5h1M52 613.5h1M56 613.5h1M58 613.5h1M71 613.5h1M19 614.5h1M21 614.5h1M27 614.5h1M29 614.5h1M47 614.5h1M57 614.5h1M19 615.5h1M26 615.5h2M29 615.5h1M44 615.5h1M46 615.5h1M58 615.5h3M62 615.5h3M67 615.5h1M15 616.5h1M19 616.5h1M23 616.5h1M29 616.5h1M31 616.5h1M35 616.5h1M39 616.5h1M55 616.5h1M16 617.5h1M19 617.5h1M22 617.5h1M25 617.5h1M27 617.5h2M35 617.5h1M38 617.5h1M40 617.5h1M44 617.5h1M49 617.5h1M51 617.5h1M17 618.5h1M28 618.5h1M31 618.5h1M42 618.5h1M48 618.5h2M53 618.5h1M56 618.5h1M59 618.5h1M16 619.5h1M22 619.5h1M24 619.5h3M31 619.5h2M34 619.5h3M43 619.5h1M51 619.5h1M53 619.5h1M77 619.5h1M17 620.5h1M23 620.5h1M29 620.5h1M31 620.5h1M33 620.5h1M35 620.5h1M43 620.5h1M47 620.5h1M51 620.5h1M21 621.5h1M25 621.5h3M30 621.5h1M35 621.5h1M38 621.5h1M52 621.5h1M54 621.5h2M20 622.5h1M61 622.5h1M66 622.5h1" stroke="#383838" stroke-width="1" shape-rendering="crispEdges"/>
<path d="M14 559.5h1M14 565.5h1M18 565.5h1M21 567.5h1M24 567.5h1M30 567.5h1M20 568.5h1M43 568.5h2M48 568.5h1M14 569.5h2M14 570.5h1M18 570.5h1M21 570.5h2M41 570.5h1M46 570.5h1M14 571.5h1M22 571.5h1M44 571.5h2M14 572.5h1M21 572.5h1M25 572.5h1M32 572.5h1M34 572.5h1M14 573.5h1M25 573.5h1M28 573.5h1M35 573.5h1M40 573.5h1M46 573.5h1M53 573.5h1M14 574.5h2M18 574.5h1M21 574.5h1M27 574.5h1M41 574.5h2M62 574.5h1M16 575.5h1M19 575.5h1M27 575.5h1M29 575.5h1M32 575.5h1M35 575.5h1M37 575.5h1M40 575.5h1M42 575.5h1M44 575.5h1M46 575.5h1M50 575.5h1M52 575.5h1M56 575.5h1M14 576.5h1M17 576.5h1M20 576.5h1M27 576.5h1M29 576.5h2M32 576.5h2M35 576.5h1M39 576.5h1M43 576.5h1M51 576.5h1M61 576.5h1M14 577.5h2M19 577.5h2M23 577.5h1M25 577.5h1M27 577.5h1M33 577.5h3M38 577.5h1M43 577.5h3M48 577.5h1M50 577.5h2M53 577.5h1M55 577.5h1M14 578.5h1M20 578.5h1M25 578.5h2M29 578.5h1M32 578.5h1M34 578.5h1M37 578.5h1M41 578.5h1M43 578.5h1M45 578.5h2M49 578.5h2M53 578.5h3M14 579.5h2M19 579.5h2M23 579.5h2M26 579.5h2M29 579.5h1M32 579.5h1M34 579.5h1M36 579.5h4M42 579.5h5M48 579.5h2M51 579.5h2M56 579.5h1M61 579.5h1M14 580.5h2M23 580.5h2M28 580.5h1M31 580.5h2M34 580.5h3M38 580.5h1M41 580.5h2M45 580.5h1M48 580.5h1M51 580.5h1M54 580.5h2M57 580.5h1M14 581.5h1M17 581.5h1M21 581.5h1M23 581.5h2M26 581.5h1M28 581.5h2M31 581.5h3M35 581.5h1M38 581.5h5M45 581.5h3M49 581.5h2M52 581.5h1M56 581.5h1M14 582.5h2M18 582.5h1M22 582.5h1M25 582.5h2M28 582.5h2M31 582.5h12M46 582.5h1M48 582.5h5M62 582.5h1M14 583.5h1M19 583.5h1M21 583.5h2M24 583.5h1M26 583.5h2M29 583.5h1M31 583.5h5M37 583.5h7M45 583.5h5M52 583.5h4M62 583.5h1M14 584.5h2M18 584.5h1M20 584.5h2M23 584.5h2M27 584.5h5M33 584.5h11M45 584.5h1M47 584.5h4M52 584.5h2M55 584.5h3M14 585.5h2M17 585.5h1M19 585.5h8M28 585.5h17M46 585.5h3M51 585.5h1M54 585.5h1M56 585.5h2M59 585.5h1M66 585.5h1M14 586.5h2M20 586.5h11M32 586.5h15M49 586.5h2M52 586.5h2M56 586.5h1M60 586.5h1M62 586.5h1M14 587.5h2M19 587.5h5M25 587.5h6M32 587.5h25M14 588.5h1M16 588.5h1M19 588.5h2M23 588.5h27M52 588.5h3M56 588.5h2M60 588.5h1M14 589.5h2M23 589.5h27M51 589.5h1M53 589.5h2M56 589.5h1M61 589.5h1M64 589.5h2M14 590.5h2M19 590.5h3M23 590.5h1M25 590.5h24M50 590.5h7M58 590.5h3M14 591.5h4M21 591.5h3M25 591.5h1M27 591.5h28M56 591.5h1M58 591.5h2M61 591.5h1M14 592.5h1M19 592.5h1M21 592.5h33M55 592.5h3M61 592.5h2M14 593.5h1M17 593.5h32M50 593.5h4M55 593.5h1M58 593.5h1M61 593.5h1M67 593.5h1M14 594.5h4M19 594.5h1M21 594.5h7M29 594.5h21M51 594.5h8M60 594.5h1M63 594.5h2M14 595.5h2M18 595.5h7M26 595.5h31M60 595.5h2M63 595.5h1M14 596.5h2M18 596.5h1M20 596.5h1M22 596.5h31M54 596.5h8M65 596.5h1M77 596.5h1M14 597.5h3M21 597.5h30M52 597.5h6M59 597.5h4M66 597.5h1M14 598.5h4M19 598.5h1M22 598.5h1M24 598.5h31M56 598.5h3M61 598.5h1M68 598.5h1M74 598.5h1M14 599.5h3M18 599.5h2M23 599.5h36M62 599.5h2M14 600.5h33M48 600.5h3M52 600.5h8M61 600.5h1M63 600.5h2M14 601.5h2M17 601.5h6M24 601.5h1M26 601.5h33M60 601.5h1M66 601.5h1M14 602.5h2M17 602.5h1M22 602.5h39M62 602.5h1M14 603.5h2M19 603.5h3M24 603.5h7M32 603.5h17M50 603.5h6M57 603.5h3M67 603.5h1M14 604.5h3M19 604.5h31M51 604.5h6M63 604.5h2M14 605.5h4M20 605.5h1M22 605.5h37M64 605.5h1M14 606.5h2M18 606.5h40M60 606.5h3M14 607.5h3M18 607.5h36M56 607.5h1M68 607.5h1M14 608.5h1M16 608.5h2M21 608.5h1M23 608.5h29M53 608.5h3M58 608.5h3M14 609.5h1M19 609.5h11M31 609.5h17M49 609.5h4M54 609.5h2M57 609.5h2M14 610.5h2M21 610.5h28M50 610.5h2M53 610.5h3M57 610.5h1M65 610.5h1M14 611.5h1M18 611.5h1M21 611.5h3M25 611.5h7M34 611.5h9M44 611.5h8M53 611.5h1M61 611.5h1M14 612.5h1M21 612.5h3M25 612.5h21M47 612.5h4M54 612.5h1M59 612.5h1M14 613.5h3M19 613.5h1M21 613.5h4M26 613.5h22M49 613.5h1M54 613.5h1M14 614.5h1M23 614.5h4M28 614.5h1M30 614.5h13M44 614.5h3M48 614.5h6M55 614.5h2M58 614.5h1M60 614.5h1M14 615.5h1M18 615.5h1M22 615.5h4M28 615.5h1M30 615.5h5M36 615.5h3M40 615.5h4M45 615.5h1M48 615.5h2M51 615.5h4M14 616.5h1M22 616.5h1M25 616.5h1M27 616.5h2M30 616.5h1M32 616.5h3M36 616.5h3M40 616.5h3M44 616.5h5M59 616.5h1M14 617.5h1M20 617.5h2M23 617.5h1M26 617.5h1M29 617.5h4M34 617.5h1M36 617.5h2M41 617.5h2M45 617.5h1M48 617.5h1M50 617.5h1M56 617.5h3M14 618.5h2M21 618.5h1M23 618.5h1M25 618.5h1M27 618.5h1M29 618.5h2M34 618.5h1M36 618.5h2M40 618.5h2M43 618.5h1M51 618.5h1M54 618.5h2M57 618.5h1M14 619.5h1M21 619.5h1M27 619.5h1M30 619.5h1M33 619.5h1M38 619.5h1M41 619.5h1M46 619.5h1M54 619.5h1M14 620.5h1M26 620.5h1M32 620.5h1M34 620.5h1M38 620.5h1M41 620.5h2M44 620.5h1M46 620.5h1M48 620.5h1M53 620.5h1M14 621.5h1M29 621.5h1M33 621.5h1M37 621.5h1M40 621.5h1M42 621.5h2M47 621.5h1M14 622.5h6M21 622.5h35M57 622.5h2" stroke="#000" stroke-width="1" shape-rendering="crispEdges"/>
<path d="M178 529.5h1M180 534.5h1M170 535.5h1M178 535.5h1M181 535.5h1M145 536.5h1M165 536.5h1M176 536.5h1M181 536.5h2M173 537.5h1M184 537.5h2M172 538.5h1M179 538.5h2M183 538.5h1M172 539.5h1M182 539.5h1M176 540.5h1M186 540.5h1M175 541.5h1M182 541.5h1M184 541.5h1M193 541.5h1M172 542.5h1M174 542.5h1M178 542.5h2M181 542.5h1M172 543.5h2M175 543.5h1M177 543.5h2M181 543.5h1M179 544.5h1M183 544.5h1M189 544.5h1M156 545.5h1M164 545.5h1M171 545.5h2M174 545.5h1M177 545.5h2M124 546.5h1M142 546.5h1M151 546.5h1M171 546.5h1M177 546.5h1M184 546.5h1M115 547.5h1M156 547.5h1M164 547.5h1M166 547.5h1M168 547.5h1M173 547.5h1M188 547.5h1M140 548.5h1M170 548.5h1M172 548.5h3M176 548.5h1M178 548.5h1M116 549.5h1M130 549.5h1M145 549.5h1M156 549.5h1M158 549.5h1M161 549.5h1M167 549.5h1M175 549.5h1M177 549.5h1M116 550.5h1M127 550.5h2M156 550.5h1M159 550.5h1M168 550.5h2M173 550.5h1M175 550.5h1M177 550.5h2M128 551.5h1M146 551.5h1M150 551.5h1M163 551.5h1M166 551.5h3M171 551.5h1M173 551.5h1M175 551.5h1M124 552.5h1M131 552.5h1M165 552.5h3M176 552.5h1M181 552.5h1M185 552.5h1M115 553.5h1M136 553.5h1M152 553.5h2M155 553.5h1M165 553.5h1M172 553.5h2M176 553.5h3M115 554.5h1M123 554.5h2M143 554.5h1M150 554.5h1M152 554.5h1M154 554.5h1M159 554.5h1M162 554.5h1M164 554.5h1M171 554.5h1M177 554.5h1M187 554.5h1M116 555.5h1M131 555.5h1M134 555.5h1M136 555.5h1M151 555.5h1M153 555.5h1M156 555.5h1M163 555.5h1M168 555.5h3M115 556.5h1M117 556.5h1M125 556.5h1M129 556.5h1M132 556.5h1M135 556.5h3M139 556.5h1M153 556.5h3M157 556.5h1M164 556.5h1M167 556.5h1M170 556.5h2M174 556.5h2M116 557.5h2M128 557.5h1M133 557.5h1M135 557.5h1M144 557.5h2M147 557.5h2M151 557.5h1M157 557.5h1M160 557.5h1M175 557.5h1M177 557.5h1M120 558.5h1M122 558.5h1M129 558.5h1M133 558.5h1M142 558.5h3M146 558.5h2M151 558.5h3M159 558.5h2M170 558.5h1M173 558.5h1M175 558.5h1M115 559.5h1M124 559.5h1M132 559.5h2M139 559.5h2M142 559.5h1M145 559.5h1M154 559.5h2M157 559.5h2M160 559.5h1M163 559.5h2M168 559.5h1M170 559.5h2M173 559.5h1M180 559.5h1M118 560.5h1M122 560.5h1M126 560.5h1M128 560.5h2M132 560.5h1M141 560.5h3M149 560.5h1M153 560.5h1M158 560.5h1M165 560.5h1M192 560.5h1M119 561.5h2M128 561.5h2M131 561.5h1M133 561.5h1M141 561.5h1M143 561.5h1M149 561.5h1M152 561.5h2M156 561.5h1M161 561.5h1M165 561.5h1M170 561.5h2M173 561.5h3M182 561.5h1M116 562.5h1M119 562.5h1M122 562.5h1M124 562.5h1M129 562.5h1M134 562.5h3M145 562.5h2M148 562.5h1M151 562.5h1M153 562.5h2M156 562.5h1M160 562.5h2M169 562.5h1M171 562.5h2M178 562.5h3M183 562.5h1M116 563.5h1M118 563.5h2M122 563.5h1M124 563.5h1M127 563.5h1M134 563.5h1M136 563.5h1M139 563.5h2M142 563.5h1M152 563.5h1M156 563.5h3M165 563.5h1M168 563.5h1M170 563.5h3M178 563.5h1M116 564.5h1M118 564.5h1M120 564.5h3M128 564.5h2M131 564.5h1M133 564.5h1M136 564.5h2M146 564.5h1M148 564.5h1M152 564.5h1M157 564.5h2M162 564.5h1M164 564.5h3M172 564.5h1M193 564.5h1M116 565.5h1M119 565.5h1M123 565.5h5M129 565.5h2M132 565.5h1M138 565.5h2M141 565.5h1M143 565.5h2M150 565.5h7M158 565.5h1M160 565.5h1M162 565.5h1M166 565.5h1M169 565.5h1M173 565.5h1M179 565.5h2M121 566.5h1M124 566.5h1M130 566.5h1M133 566.5h1M135 566.5h2M139 566.5h1M142 566.5h1M144 566.5h1M148 566.5h2M152 566.5h1M154 566.5h2M161 566.5h2M165 566.5h3M169 566.5h1M176 566.5h1M179 566.5h1M122 567.5h1M126 567.5h1M129 567.5h1M134 567.5h1M136 567.5h2M140 567.5h1M144 567.5h1M147 567.5h2M150 567.5h1M152 567.5h1M154 567.5h3M161 567.5h2M170 567.5h1M174 567.5h1M178 567.5h2M183 567.5h1M118 568.5h2M123 568.5h2M129 568.5h3M134 568.5h1M137 568.5h3M143 568.5h1M154 568.5h1M158 568.5h3M172 568.5h1M174 568.5h2M180 568.5h1M186 568.5h1M118 569.5h2M124 569.5h1M128 569.5h2M131 569.5h1M133 569.5h1M137 569.5h2M143 569.5h1M148 569.5h1M153 569.5h3M169 569.5h1M171 569.5h2M176 569.5h1M183 569.5h1M118 570.5h3M123 570.5h2M126 570.5h1M128 570.5h1M135 570.5h1M137 570.5h1M139 570.5h2M147 570.5h1M153 570.5h1M163 570.5h1M165 570.5h1M168 570.5h1M171 570.5h1M176 570.5h1M118 571.5h1M122 571.5h1M124 571.5h2M128 571.5h1M130 571.5h2M135 571.5h1M141 571.5h1M149 571.5h1M156 571.5h2M160 571.5h1M165 571.5h2M168 571.5h2M171 571.5h2M181 571.5h1M116 572.5h1M118 572.5h3M122 572.5h1M126 572.5h2M132 572.5h1M137 572.5h1M139 572.5h1M161 572.5h1M163 572.5h2M167 572.5h2M172 572.5h1M118 573.5h2M122 573.5h1M124 573.5h4M136 573.5h1M140 573.5h1M142 573.5h1M156 573.5h1M163 573.5h3M167 573.5h1M171 573.5h1M173 573.5h1M179 573.5h1M116 574.5h2M128 574.5h1M130 574.5h1M134 574.5h2M137 574.5h1M142 574.5h1M157 574.5h1M159 574.5h1M162 574.5h3M166 574.5h1M168 574.5h1M171 574.5h2M174 574.5h3M180 574.5h1M182 574.5h1M184 574.5h1M188 574.5h1M116 575.5h1M119 575.5h1M133 575.5h1M135 575.5h1M137 575.5h1M142 575.5h1M144 575.5h1M164 575.5h1M166 575.5h1M170 575.5h1M183 575.5h2M119 576.5h2M122 576.5h1M125 576.5h1M129 576.5h1M133 576.5h1M157 576.5h1M163 576.5h6M170 576.5h2M117 577.5h1M137 577.5h1M164 577.5h1M167 577.5h3M171 577.5h2M174 577.5h1M180 577.5h1M191 577.5h1M116 578.5h2M119 578.5h1M123 578.5h1M126 578.5h2M130 578.5h1M132 578.5h1M170 578.5h2M173 578.5h2M176 578.5h2M115 579.5h1M117 579.5h1M123 579.5h1M137 579.5h1M140 579.5h2M155 579.5h1M170 579.5h2M180 579.5h1M187 579.5h1M116 580.5h1M120 580.5h1M125 580.5h1M159 580.5h1M164 580.5h2M169 580.5h1M171 580.5h2M178 580.5h1M181 580.5h1M193 580.5h1M117 581.5h1M122 581.5h1M124 581.5h1M143 581.5h1M174 581.5h1M187 581.5h1M189 581.5h1M117 582.5h1M119 582.5h1M122 582.5h1M124 582.5h1M167 582.5h1M171 582.5h3M178 582.5h1M117 583.5h1M119 583.5h1M122 583.5h1M124 583.5h1M127 583.5h1M143 583.5h1M163 583.5h1M168 583.5h1M170 583.5h2M175 583.5h1M178 583.5h1M117 584.5h1M127 584.5h1M165 584.5h2M168 584.5h4M174 584.5h1M179 584.5h1M181 584.5h1M117 585.5h1M119 585.5h2M122 585.5h2M161 585.5h1M167 585.5h1M169 585.5h1M173 585.5h1M176 585.5h2M179 585.5h1M119 586.5h2M123 586.5h1M125 586.5h1M165 586.5h1M168 586.5h1M171 586.5h3M175 586.5h1M182 586.5h1M118 587.5h1M121 587.5h2M129 587.5h1M140 587.5h1M165 587.5h1M173 587.5h1M180 587.5h1M185 587.5h1M117 588.5h1M120 588.5h2M131 588.5h1M161 588.5h1M168 588.5h1M175 588.5h1M119 589.5h1M162 589.5h1M166 589.5h2M170 589.5h1M175 589.5h1M116 590.5h3M121 590.5h3M125 590.5h1M166 590.5h1M168 590.5h1M171 590.5h2M176 590.5h1M119 591.5h1M122 591.5h1M124 591.5h1M164 591.5h1M166 591.5h1M170 591.5h1M172 591.5h1M175 591.5h2M121 592.5h1M161 592.5h1M164 592.5h1M171 592.5h4M179 592.5h1M181 592.5h1M116 593.5h1M159 593.5h1M163 593.5h1M165 593.5h6M175 593.5h1M117 594.5h2M122 594.5h1M126 594.5h1M165 594.5h5M118 595.5h1M120 595.5h1M156 595.5h1M167 595.5h1M170 595.5h2M173 595.5h3M121 596.5h1M163 596.5h2M169 596.5h2M175 596.5h1M177 596.5h1M119 597.5h2M162 597.5h1M165 597.5h2M168 597.5h1M174 597.5h1M159 598.5h2M162 598.5h1M166 598.5h1M172 598.5h2M118 599.5h1M166 599.5h1M168 599.5h2M174 599.5h1M116 600.5h1M159 600.5h1M162 600.5h1M165 600.5h1M168 600.5h1M173 600.5h1M116 601.5h1M120 601.5h1M122 601.5h2M127 601.5h1M154 601.5h1M165 601.5h4M174 601.5h1M121 602.5h2M163 602.5h2M166 602.5h2M169 602.5h1M117 603.5h1M119 603.5h1M153 603.5h1M161 603.5h2M164 603.5h1M167 603.5h1M177 603.5h1M117 604.5h2M123 604.5h1M141 604.5h1M157 604.5h1M163 604.5h1M169 604.5h2M172 604.5h1M176 604.5h1M178 604.5h1M117 605.5h1M159 605.5h1M161 605.5h1M164 605.5h2M168 605.5h3M172 605.5h1M175 605.5h1M116 606.5h2M120 606.5h1M162 606.5h1M165 606.5h1M168 606.5h1M121 607.5h1M156 607.5h1M158 607.5h1M161 607.5h1M163 607.5h1M165 607.5h2M169 607.5h1M116 608.5h1M119 608.5h1M122 608.5h1M156 608.5h1M160 608.5h1M172 608.5h1M149 609.5h2M155 609.5h1M157 609.5h1M159 609.5h2M163 609.5h1M171 609.5h2M119 610.5h1M122 610.5h2M127 610.5h1M140 610.5h1M143 610.5h1M152 610.5h1M154 610.5h3M158 610.5h2M163 610.5h6M116 611.5h1M121 611.5h1M124 611.5h1M128 611.5h1M143 611.5h1M153 611.5h1M160 611.5h1M163 611.5h3M117 612.5h1M121 612.5h1M140 612.5h1M147 612.5h1M154 612.5h1M162 612.5h2M166 612.5h1M117 613.5h1M123 613.5h2M133 613.5h1M150 613.5h2M153 613.5h2M157 613.5h1M159 613.5h1M162 613.5h1M164 613.5h1M171 613.5h1M116 614.5h1M136 614.5h1M147 614.5h1M150 614.5h1M158 614.5h1M160 614.5h1M163 614.5h1M168 614.5h1M117 615.5h1M144 615.5h1M149 615.5h1M152 615.5h1M155 615.5h1M157 615.5h1M159 615.5h1M164 615.5h1M171 615.5h1M116 616.5h1M118 616.5h1M120 616.5h2M124 616.5h1M134 616.5h1M145 616.5h1M150 616.5h1M155 616.5h3M160 616.5h1M166 616.5h1M119 617.5h1M122 617.5h1M126 617.5h1M130 617.5h1M141 617.5h1M147 617.5h1M150 617.5h1M152 617.5h1M157 617.5h1M163 617.5h1M116 618.5h3M120 618.5h1M124 618.5h1M131 618.5h1M138 618.5h1M140 618.5h1M145 618.5h1M150 618.5h2M153 618.5h1M156 618.5h1M159 618.5h1M118 619.5h1M120 619.5h1M124 619.5h2M133 619.5h3M138 619.5h1M144 619.5h1M146 619.5h2M149 619.5h4M157 619.5h1M162 619.5h1M165 619.5h1M119 620.5h1M125 620.5h1M127 620.5h2M133 620.5h2M143 620.5h2M149 620.5h1M151 620.5h1M159 620.5h2M165 620.5h1M118 621.5h2M122 621.5h1M125 621.5h1M127 621.5h4M134 621.5h3M142 621.5h1M145 621.5h3M144 622.5h1M160 622.5h2M163 622.5h1" stroke="#707070" stroke-width="1" shape-rendering="crispEdges"/>
<path d="M169 540.5h1M177 541.5h1M173 544.5h1M175 544.5h1M173 545.5h1M172 546.5h1M178 546.5h1M168 548.5h1M180 548.5h1M171 549.5h1M174 549.5h1M172 551.5h1M174 551.5h1M175 552.5h1M166 553.5h1M169 553.5h1M158 554.5h1M173 555.5h1M116 556.5h1M126 556.5h1M133 556.5h1M159 556.5h2M173 556.5h1M115 557.5h1M125 557.5h1M130 557.5h1M150 557.5h1M172 557.5h1M174 557.5h1M115 558.5h1M131 558.5h1M150 558.5h1M157 558.5h1M161 558.5h2M168 558.5h1M171 558.5h1M128 559.5h1M156 559.5h1M162 559.5h1M166 559.5h1M119 560.5h1M125 560.5h1M131 560.5h1M157 560.5h1M163 560.5h1M122 561.5h1M126 561.5h1M155 561.5h1M158 561.5h3M115 562.5h1M118 562.5h1M125 562.5h1M128 562.5h1M130 562.5h1M149 562.5h1M159 562.5h1M165 562.5h1M168 562.5h1M115 563.5h1M120 563.5h2M129 563.5h1M133 563.5h1M145 563.5h1M147 563.5h1M149 563.5h1M154 563.5h2M162 563.5h1M130 564.5h1M132 564.5h1M135 564.5h1M141 564.5h2M147 564.5h1M155 564.5h1M159 564.5h2M167 564.5h1M181 564.5h1M121 565.5h2M131 565.5h1M133 565.5h2M142 565.5h1M145 565.5h1M147 565.5h1M164 565.5h1M116 566.5h1M120 566.5h1M123 566.5h1M127 566.5h1M140 566.5h2M158 566.5h2M115 567.5h3M127 567.5h1M131 567.5h2M139 567.5h1M142 567.5h1M146 567.5h1M153 567.5h1M157 567.5h1M163 567.5h3M167 567.5h1M127 568.5h2M132 568.5h1M136 568.5h1M140 568.5h2M145 568.5h8M156 568.5h1M164 568.5h2M173 568.5h1M120 569.5h1M122 569.5h1M125 569.5h1M135 569.5h1M144 569.5h3M150 569.5h1M158 569.5h1M161 569.5h1M164 569.5h1M116 570.5h1M121 570.5h1M127 570.5h1M129 570.5h2M134 570.5h1M141 570.5h3M145 570.5h2M148 570.5h1M150 570.5h1M152 570.5h1M162 570.5h1M164 570.5h1M167 570.5h1M169 570.5h2M178 570.5h1M116 571.5h1M123 571.5h1M126 571.5h2M136 571.5h1M138 571.5h2M142 571.5h1M146 571.5h1M152 571.5h2M161 571.5h1M173 571.5h1M117 572.5h1M123 572.5h1M125 572.5h1M133 572.5h1M140 572.5h1M147 572.5h1M149 572.5h2M154 572.5h4M159 572.5h1M174 572.5h2M179 572.5h1M116 573.5h1M121 573.5h1M123 573.5h1M131 573.5h1M138 573.5h1M145 573.5h1M149 573.5h3M155 573.5h1M159 573.5h1M162 573.5h1M166 573.5h1M168 573.5h3M174 573.5h1M120 574.5h1M125 574.5h1M131 574.5h1M138 574.5h1M140 574.5h1M149 574.5h1M151 574.5h1M153 574.5h2M160 574.5h1M165 574.5h1M170 574.5h1M177 574.5h1M115 575.5h1M118 575.5h1M123 575.5h1M125 575.5h2M128 575.5h1M130 575.5h1M132 575.5h1M136 575.5h1M145 575.5h1M154 575.5h1M158 575.5h2M168 575.5h1M171 575.5h1M173 575.5h1M121 576.5h1M126 576.5h1M143 576.5h1M160 576.5h1M162 576.5h1M174 576.5h1M176 576.5h1M119 577.5h1M121 577.5h5M128 577.5h1M134 577.5h1M139 577.5h2M152 577.5h1M156 577.5h1M161 577.5h1M170 577.5h1M173 577.5h1M121 578.5h1M124 578.5h1M128 578.5h1M137 578.5h1M139 578.5h1M141 578.5h1M144 578.5h1M157 578.5h1M161 578.5h2M164 578.5h2M116 579.5h1M121 579.5h1M125 579.5h2M130 579.5h1M134 579.5h1M158 579.5h1M165 579.5h1M173 579.5h1M118 580.5h1M126 580.5h1M130 580.5h1M132 580.5h1M135 580.5h1M141 580.5h1M147 580.5h1M177 580.5h1M116 581.5h1M129 581.5h1M133 581.5h1M135 581.5h1M147 581.5h1M162 581.5h5M168 581.5h1M175 581.5h1M121 582.5h1M128 582.5h1M131 582.5h1M134 582.5h1M136 582.5h1M157 582.5h1M160 582.5h4M165 582.5h1M169 582.5h2M125 583.5h2M132 583.5h1M151 583.5h1M155 583.5h1M157 583.5h1M159 583.5h1M169 583.5h1M173 583.5h2M116 584.5h1M118 584.5h2M125 584.5h1M133 584.5h1M136 584.5h1M156 584.5h2M161 584.5h1M167 584.5h1M121 585.5h1M130 585.5h1M170 585.5h1M174 585.5h1M122 586.5h1M157 586.5h1M162 586.5h1M164 586.5h1M167 586.5h1M170 586.5h1M116 587.5h2M120 587.5h1M124 587.5h2M127 587.5h1M164 587.5h1M167 587.5h1M119 588.5h1M122 588.5h1M127 588.5h1M159 588.5h1M162 588.5h1M165 588.5h1M167 588.5h1M169 588.5h2M116 589.5h1M118 589.5h1M123 589.5h1M161 589.5h1M168 589.5h1M172 589.5h1M134 590.5h1M145 590.5h1M162 590.5h1M164 590.5h1M167 590.5h1M120 591.5h1M123 591.5h1M127 591.5h1M130 591.5h1M148 591.5h1M165 591.5h1M167 591.5h1M117 592.5h1M122 592.5h1M124 592.5h1M158 592.5h1M160 592.5h1M167 592.5h1M118 593.5h1M121 593.5h2M161 593.5h2M164 593.5h1M116 594.5h1M143 594.5h1M157 594.5h1M160 594.5h1M117 595.5h1M121 595.5h1M127 595.5h1M134 595.5h1M157 595.5h1M163 595.5h1M165 595.5h2M120 596.5h1M122 596.5h2M157 596.5h1M159 596.5h1M161 596.5h1M167 596.5h1M121 597.5h1M163 597.5h1M170 597.5h1M175 597.5h1M118 598.5h2M124 598.5h1M164 598.5h1M168 598.5h1M174 598.5h1M119 599.5h1M125 599.5h1M151 599.5h1M164 599.5h1M167 599.5h1M120 600.5h1M122 600.5h1M130 600.5h1M150 600.5h1M158 600.5h1M161 600.5h1M166 600.5h1M169 600.5h1M118 601.5h1M134 601.5h1M155 601.5h1M159 601.5h2M162 601.5h2M117 602.5h1M125 602.5h1M155 602.5h1M158 602.5h1M161 602.5h1M165 602.5h1M174 602.5h1M122 603.5h2M158 603.5h2M163 603.5h1M165 603.5h1M119 604.5h1M122 604.5h1M129 604.5h2M132 604.5h1M155 604.5h1M162 604.5h1M164 604.5h2M125 605.5h2M130 605.5h1M151 605.5h1M156 605.5h1M160 605.5h1M162 605.5h1M122 606.5h1M124 606.5h1M137 606.5h1M157 606.5h1M166 606.5h2M117 607.5h2M120 607.5h1M122 607.5h1M135 607.5h1M146 607.5h1M148 607.5h1M150 607.5h1M152 607.5h1M155 607.5h1M157 607.5h1M162 607.5h1M164 607.5h1M167 607.5h1M123 608.5h1M131 608.5h1M155 608.5h1M157 608.5h1M116 609.5h1M121 609.5h1M127 609.5h1M142 609.5h1M153 609.5h1M116 610.5h3M121 610.5h1M126 610.5h1M132 610.5h1M135 610.5h1M145 610.5h1M153 610.5h1M157 610.5h1M118 611.5h2M125 611.5h1M129 611.5h3M142 611.5h1M150 611.5h1M152 611.5h1M154 611.5h1M158 611.5h1M161 611.5h1M116 612.5h1M119 612.5h1M122 612.5h2M137 612.5h1M139 612.5h1M149 612.5h3M157 612.5h1M118 613.5h1M128 613.5h1M138 613.5h2M144 613.5h1M148 613.5h1M152 613.5h1M155 613.5h1M117 614.5h2M120 614.5h1M124 614.5h1M130 614.5h2M138 614.5h3M145 614.5h1M151 614.5h3M155 614.5h1M121 615.5h1M123 615.5h1M125 615.5h1M134 615.5h1M147 615.5h2M151 615.5h1M154 615.5h1M117 616.5h1M119 616.5h1M122 616.5h1M127 616.5h2M132 616.5h1M135 616.5h1M138 616.5h2M143 616.5h1M147 616.5h2M153 616.5h2M159 616.5h1M116 617.5h3M121 617.5h1M123 617.5h1M125 617.5h1M127 617.5h2M134 617.5h1M139 617.5h1M148 617.5h2M122 618.5h1M141 618.5h1M143 618.5h2M146 618.5h1M148 618.5h1M155 618.5h1M116 619.5h1M122 619.5h1M126 619.5h1M128 619.5h2M131 619.5h1M136 619.5h2M140 619.5h1M158 619.5h1M116 620.5h1M121 620.5h2M130 620.5h1M132 620.5h1M138 620.5h1M140 620.5h2M146 620.5h1M152 620.5h1M155 620.5h3M123 621.5h1M132 621.5h1M137 621.5h2M151 621.5h1M147 622.5h1M153 622.5h2M156 622.5h2" stroke="#383838" stroke-width="1" shape-rendering="crispEdges"/>
<path d="M173 546.5h1M115 549.5h1M170 551.5h1M153 554.5h1M169 556.5h1M165 557.5h1M167 557.5h1M173 557.5h1M165 558.5h1M167 558.5h1M165 559.5h1M115 560.5h1M156 560.5h1M164 560.5h1M115 561.5h1M124 561.5h2M132 561.5h1M166 561.5h1M125 563.5h1M130 563.5h1M148 563.5h1M159 563.5h2M115 564.5h1M140 564.5h1M145 564.5h1M149 564.5h1M154 564.5h1M168 564.5h1M115 565.5h1M128 565.5h1M146 565.5h1M159 565.5h1M161 565.5h1M115 566.5h1M129 566.5h1M131 566.5h1M147 566.5h1M150 566.5h1M156 566.5h1M164 566.5h1M168 566.5h1M118 567.5h1M133 567.5h1M141 567.5h1M143 567.5h1M151 567.5h1M158 567.5h1M160 567.5h1M168 567.5h1M115 568.5h1M120 568.5h1M122 568.5h1M125 568.5h2M133 568.5h1M142 568.5h1M153 568.5h1M161 568.5h1M115 569.5h2M126 569.5h1M132 569.5h1M134 569.5h1M139 569.5h2M142 569.5h1M147 569.5h1M149 569.5h1M151 569.5h1M159 569.5h2M166 569.5h1M115 570.5h1M122 570.5h1M133 570.5h1M136 570.5h1M144 570.5h1M151 570.5h1M156 570.5h6M115 571.5h1M120 571.5h2M132 571.5h3M137 571.5h1M140 571.5h1M143 571.5h3M147 571.5h1M150 571.5h2M155 571.5h1M158 571.5h2M162 571.5h2M115 572.5h1M129 572.5h3M134 572.5h3M138 572.5h1M141 572.5h1M144 572.5h3M148 572.5h1M151 572.5h3M158 572.5h1M162 572.5h1M170 572.5h1M115 573.5h1M117 573.5h1M120 573.5h1M128 573.5h1M130 573.5h1M132 573.5h1M134 573.5h2M137 573.5h1M139 573.5h1M141 573.5h1M144 573.5h1M146 573.5h2M152 573.5h3M158 573.5h1M160 573.5h2M115 574.5h1M122 574.5h3M126 574.5h1M132 574.5h2M136 574.5h1M139 574.5h1M141 574.5h1M143 574.5h6M150 574.5h1M152 574.5h1M155 574.5h2M158 574.5h1M161 574.5h1M117 575.5h1M124 575.5h1M127 575.5h1M129 575.5h1M134 575.5h1M138 575.5h4M143 575.5h1M146 575.5h8M155 575.5h3M160 575.5h4M165 575.5h1M167 575.5h1M115 576.5h2M123 576.5h1M127 576.5h2M130 576.5h3M134 576.5h9M144 576.5h13M158 576.5h2M161 576.5h1M115 577.5h1M127 577.5h1M130 577.5h4M135 577.5h2M138 577.5h1M141 577.5h11M153 577.5h3M157 577.5h4M162 577.5h1M165 577.5h2M115 578.5h1M118 578.5h1M122 578.5h1M125 578.5h1M129 578.5h1M131 578.5h1M133 578.5h4M138 578.5h1M140 578.5h1M143 578.5h1M145 578.5h12M158 578.5h3M163 578.5h1M166 578.5h4M118 579.5h1M122 579.5h1M124 579.5h1M127 579.5h3M131 579.5h3M135 579.5h2M138 579.5h2M142 579.5h13M156 579.5h2M159 579.5h6M115 580.5h1M121 580.5h2M124 580.5h1M127 580.5h3M131 580.5h1M133 580.5h2M136 580.5h5M142 580.5h5M148 580.5h11M160 580.5h4M166 580.5h3M118 581.5h1M125 581.5h4M130 581.5h3M134 581.5h1M136 581.5h7M144 581.5h3M148 581.5h14M167 581.5h1M169 581.5h1M115 582.5h2M123 582.5h1M125 582.5h3M129 582.5h2M132 582.5h2M135 582.5h1M137 582.5h20M158 582.5h2M164 582.5h1M115 583.5h2M118 583.5h1M123 583.5h1M128 583.5h4M133 583.5h10M144 583.5h7M152 583.5h3M156 583.5h1M158 583.5h1M160 583.5h3M164 583.5h3M115 584.5h1M123 584.5h1M126 584.5h1M128 584.5h5M134 584.5h2M137 584.5h19M158 584.5h3M162 584.5h1M164 584.5h1M115 585.5h2M124 585.5h1M126 585.5h4M131 585.5h30M162 585.5h1M164 585.5h1M166 585.5h1M115 586.5h2M124 586.5h1M126 586.5h1M128 586.5h29M158 586.5h4M163 586.5h1M166 586.5h1M115 587.5h1M123 587.5h1M126 587.5h1M128 587.5h1M130 587.5h10M141 587.5h23M166 587.5h1M168 587.5h1M170 587.5h1M115 588.5h2M123 588.5h4M128 588.5h3M132 588.5h27M160 588.5h1M163 588.5h2M166 588.5h1M171 588.5h2M115 589.5h1M121 589.5h2M124 589.5h37M164 589.5h1M115 590.5h1M120 590.5h1M124 590.5h1M126 590.5h8M135 590.5h10M146 590.5h16M163 590.5h1M169 590.5h1M115 591.5h4M125 591.5h2M129 591.5h1M131 591.5h17M149 591.5h15M169 591.5h1M115 592.5h2M119 592.5h2M123 592.5h1M125 592.5h33M159 592.5h1M162 592.5h2M165 592.5h2M168 592.5h1M115 593.5h1M119 593.5h2M124 593.5h35M160 593.5h1M115 594.5h1M119 594.5h1M121 594.5h1M123 594.5h3M127 594.5h16M144 594.5h13M158 594.5h1M161 594.5h2M164 594.5h1M115 595.5h2M122 595.5h5M128 595.5h6M135 595.5h21M158 595.5h5M164 595.5h1M115 596.5h2M124 596.5h33M158 596.5h1M160 596.5h1M162 596.5h1M165 596.5h2M115 597.5h4M122 597.5h40M164 597.5h1M115 598.5h3M120 598.5h4M125 598.5h34M161 598.5h1M163 598.5h1M167 598.5h1M115 599.5h1M117 599.5h1M120 599.5h5M126 599.5h25M152 599.5h5M158 599.5h3M162 599.5h1M165 599.5h1M115 600.5h1M119 600.5h1M121 600.5h1M123 600.5h7M131 600.5h19M151 600.5h7M160 600.5h1M163 600.5h1M115 601.5h1M117 601.5h1M119 601.5h1M121 601.5h1M124 601.5h3M128 601.5h6M135 601.5h19M156 601.5h3M161 601.5h1M172 601.5h1M115 602.5h2M118 602.5h3M123 602.5h2M126 602.5h29M156 602.5h2M170 602.5h1M115 603.5h2M118 603.5h1M120 603.5h2M124 603.5h29M154 603.5h4M160 603.5h1M115 604.5h2M120 604.5h2M125 604.5h4M131 604.5h1M133 604.5h8M142 604.5h13M156 604.5h1M159 604.5h2M115 605.5h2M118 605.5h7M127 605.5h3M131 605.5h20M152 605.5h4M157 605.5h1M163 605.5h1M115 606.5h1M119 606.5h1M126 606.5h11M138 606.5h17M156 606.5h1M158 606.5h4M115 607.5h2M119 607.5h1M123 607.5h12M136 607.5h10M147 607.5h1M149 607.5h1M151 607.5h1M153 607.5h2M115 608.5h1M118 608.5h1M120 608.5h2M124 608.5h7M132 608.5h23M158 608.5h1M166 608.5h1M115 609.5h1M118 609.5h1M120 609.5h1M123 609.5h1M125 609.5h2M128 609.5h14M143 609.5h6M151 609.5h2M154 609.5h1M115 610.5h1M120 610.5h1M124 610.5h2M128 610.5h4M133 610.5h2M136 610.5h4M141 610.5h1M144 610.5h1M146 610.5h4M151 610.5h1M115 611.5h1M122 611.5h2M126 611.5h2M132 611.5h10M144 611.5h6M151 611.5h1M155 611.5h1M115 612.5h1M118 612.5h1M124 612.5h2M127 612.5h10M138 612.5h1M141 612.5h5M148 612.5h1M153 612.5h1M155 612.5h1M115 613.5h1M121 613.5h2M125 613.5h3M129 613.5h4M134 613.5h4M140 613.5h4M145 613.5h3M149 613.5h1M115 614.5h1M119 614.5h1M121 614.5h3M125 614.5h5M132 614.5h4M137 614.5h1M141 614.5h4M146 614.5h1M148 614.5h1M156 614.5h1M115 615.5h1M118 615.5h1M120 615.5h1M122 615.5h1M124 615.5h1M126 615.5h8M135 615.5h8M146 615.5h1M150 615.5h1M158 615.5h1M115 616.5h1M125 616.5h1M129 616.5h3M133 616.5h1M136 616.5h2M140 616.5h3M144 616.5h1M146 616.5h1M152 616.5h1M115 617.5h1M120 617.5h1M124 617.5h1M129 617.5h1M131 617.5h1M133 617.5h1M135 617.5h4M140 617.5h1M142 617.5h2M158 617.5h1M115 618.5h1M121 618.5h1M123 618.5h1M125 618.5h1M127 618.5h4M132 618.5h4M137 618.5h1M139 618.5h1M142 618.5h1M115 619.5h1M119 619.5h1M123 619.5h1M127 619.5h1M130 619.5h1M132 619.5h1M139 619.5h1M142 619.5h2M145 619.5h1M155 619.5h1M115 620.5h1M118 620.5h1M123 620.5h2M129 620.5h1M131 620.5h1M135 620.5h3M139 620.5h1M142 620.5h1M115 621.5h1M120 621.5h2M124 621.5h1M126 621.5h1M133 621.5h1M139 621.5h1M143 621.5h1M115 622.5h29M145 622.5h2M148 622.5h5" stroke="#000" stroke-width="1" shape-rendering="crispEdges"/>
<path d="M216 525.5h1M216 529.5h1M216 532.5h1M276 532.5h1M216 533.5h1M287 533.5h1M289 534.5h1M271 535.5h1M273 535.5h1M283 535.5h1M278 536.5h1M280 536.5h1M282 536.5h1M278 537.5h2M281 537.5h1M283 537.5h1M285 537.5h2M277 538.5h1M279 538.5h4M274 539.5h1M277 539.5h1M284 539.5h1M286 539.5h1M274 540.5h1M281 540.5h1M269 541.5h3M277 541.5h1M284 541.5h1M262 542.5h1M273 542.5h1M287 542.5h1M270 543.5h1M279 543.5h1M281 543.5h1M283 543.5h2M288 543.5h1M249 544.5h1M269 544.5h1M282 544.5h1M292 544.5h1M216 545.5h1M240 545.5h1M254 545.5h1M264 545.5h1M284 545.5h2M267 546.5h3M271 546.5h1M280 546.5h1M286 546.5h2M231 547.5h1M241 547.5h1M248 547.5h1M281 547.5h1M284 547.5h1M287 547.5h1M266 548.5h1M270 548.5h1M280 548.5h1M282 548.5h1M285 548.5h1M255 549.5h1M262 549.5h1M265 549.5h3M282 549.5h2M286 549.5h1M230 550.5h1M236 550.5h1M248 550.5h1M261 550.5h1M282 550.5h2M293 550.5h1M242 551.5h1M261 551.5h1M266 551.5h1M272 551.5h1M279 551.5h1M290 551.5h1M243 552.5h1M262 552.5h4M280 552.5h1M282 552.5h1M284 552.5h3M221 553.5h1M236 553.5h1M238 553.5h1M241 553.5h1M243 553.5h1M259 553.5h1M280 553.5h3M216 554.5h1M222 554.5h1M226 554.5h1M246 554.5h1M249 554.5h1M253 554.5h1M259 554.5h2M274 554.5h1M281 554.5h1M285 554.5h1M216 555.5h1M232 555.5h1M234 555.5h1M243 555.5h1M246 555.5h1M250 555.5h1M252 555.5h1M255 555.5h1M281 555.5h2M284 555.5h1M219 556.5h2M227 556.5h1M233 556.5h1M235 556.5h1M237 556.5h1M248 556.5h2M258 556.5h1M261 556.5h1M276 556.5h1M278 556.5h1M280 556.5h2M285 556.5h2M227 557.5h1M229 557.5h1M232 557.5h1M236 557.5h1M238 557.5h3M245 557.5h1M250 557.5h1M255 557.5h1M260 557.5h1M279 557.5h1M282 557.5h3M216 558.5h1M228 558.5h1M233 558.5h2M238 558.5h2M241 558.5h1M244 558.5h3M249 558.5h3M256 558.5h2M260 558.5h1M275 558.5h3M279 558.5h5M300 558.5h1M219 559.5h1M226 559.5h1M228 559.5h1M235 559.5h1M239 559.5h1M243 559.5h1M245 559.5h2M249 559.5h1M253 559.5h1M255 559.5h1M263 559.5h1M280 559.5h2M293 559.5h1M216 560.5h2M221 560.5h1M232 560.5h1M239 560.5h1M241 560.5h3M246 560.5h1M248 560.5h1M251 560.5h1M261 560.5h1M277 560.5h1M282 560.5h3M216 561.5h1M228 561.5h1M232 561.5h1M236 561.5h3M245 561.5h1M256 561.5h1M259 561.5h1M277 561.5h1M279 561.5h2M282 561.5h1M220 562.5h1M223 562.5h1M225 562.5h1M234 562.5h1M238 562.5h1M243 562.5h1M246 562.5h1M276 562.5h1M278 562.5h1M281 562.5h1M284 562.5h1M217 563.5h1M223 563.5h3M228 563.5h1M230 563.5h1M232 563.5h2M237 563.5h1M249 563.5h1M252 563.5h1M256 563.5h2M276 563.5h1M281 563.5h1M219 564.5h1M222 564.5h1M224 564.5h3M228 564.5h2M232 564.5h1M236 564.5h1M238 564.5h1M242 564.5h4M248 564.5h1M251 564.5h1M258 564.5h1M216 565.5h1M219 565.5h1M222 565.5h1M230 565.5h1M239 565.5h1M244 565.5h1M246 565.5h1M249 565.5h1M254 565.5h1M279 565.5h1M281 565.5h1M285 565.5h1M223 566.5h3M229 566.5h1M232 566.5h3M237 566.5h1M240 566.5h1M242 566.5h2M246 566.5h1M249 566.5h2M254 566.5h1M274 566.5h2M282 566.5h2M217 567.5h1M220 567.5h1M224 567.5h1M226 567.5h1M230 567.5h3M234 567.5h1M236 567.5h1M240 567.5h2M245 567.5h1M272 567.5h1M274 567.5h1M276 567.5h3M217 568.5h1M219 568.5h2M223 568.5h1M226 568.5h2M229 568.5h1M231 568.5h1M233 568.5h1M238 568.5h3M244 568.5h1M248 568.5h1M253 568.5h1M273 568.5h1M276 568.5h1M278 568.5h1M281 568.5h1M284 568.5h1M297 568.5h1M218 569.5h1M221 569.5h2M235 569.5h1M238 569.5h1M241 569.5h1M245 569.5h1M270 569.5h1M217 570.5h1M219 570.5h8M234 570.5h1M237 570.5h1M239 570.5h1M248 570.5h1M270 570.5h2M274 570.5h1M276 570.5h1M281 570.5h1M219 571.5h2M222 571.5h3M226 571.5h1M233 571.5h2M278 571.5h1M217 572.5h2M222 572.5h2M226 572.5h3M232 572.5h1M244 572.5h1M272 572.5h2M275 572.5h3M280 572.5h1M216 573.5h2M219 573.5h1M231 573.5h1M236 573.5h1M246 573.5h1M270 573.5h1M278 573.5h1M288 573.5h2M295 573.5h1M217 574.5h3M221 574.5h1M224 574.5h1M231 574.5h1M235 574.5h1M237 574.5h1M261 574.5h1M269 574.5h1M272 574.5h1M276 574.5h1M217 575.5h1M219 575.5h1M222 575.5h1M224 575.5h1M227 575.5h2M231 575.5h1M234 575.5h1M275 575.5h1M280 575.5h1M225 576.5h1M228 576.5h2M269 576.5h1M273 576.5h1M279 576.5h1M218 577.5h1M223 577.5h1M228 577.5h1M231 577.5h1M237 577.5h1M241 577.5h1M273 577.5h2M276 577.5h1M283 577.5h1M219 578.5h4M228 578.5h1M231 578.5h1M267 578.5h1M271 578.5h3M217 579.5h1M219 579.5h1M221 579.5h1M224 579.5h1M227 579.5h1M239 579.5h1M269 579.5h2M272 579.5h2M277 579.5h1M217 580.5h1M225 580.5h1M227 580.5h2M264 580.5h1M268 580.5h1M270 580.5h1M273 580.5h1M281 580.5h1M284 580.5h1M216 581.5h2M221 581.5h2M226 581.5h2M259 581.5h1M266 581.5h1M272 581.5h1M221 582.5h1M258 582.5h1M264 582.5h1M269 582.5h1M271 582.5h3M276 582.5h3M281 582.5h1M220 583.5h1M222 583.5h1M224 583.5h1M227 583.5h1M259 583.5h1M263 583.5h1M270 583.5h2M273 583.5h1M285 583.5h1M217 584.5h1M219 584.5h1M221 584.5h2M226 584.5h1M228 584.5h1M263 584.5h2M266 584.5h1M270 584.5h1M277 584.5h1M281 584.5h1M284 584.5h1M288 584.5h1M221 585.5h2M224 585.5h1M228 585.5h1M232 585.5h1M262 585.5h1M266 585.5h1M270 585.5h1M275 585.5h1M283 585.5h1M217 586.5h2M221 586.5h2M257 586.5h1M259 586.5h1M265 586.5h2M269 586.5h2M277 586.5h1M279 586.5h1M285 586.5h1M288 586.5h1M217 587.5h1M219 587.5h1M222 587.5h2M230 587.5h1M267 587.5h4M272 587.5h3M217 588.5h1M219 588.5h1M221 588.5h2M230 588.5h1M263 588.5h3M268 588.5h1M272 588.5h1M278 588.5h2M217 589.5h1M221 589.5h1M224 589.5h1M229 589.5h1M261 589.5h1M264 589.5h1M266 589.5h1M271 589.5h1M274 589.5h1M276 589.5h1M279 589.5h1M218 590.5h2M221 590.5h2M224 590.5h1M266 590.5h1M268 590.5h1M278 590.5h1M288 590.5h1M217 591.5h1M220 591.5h1M223 591.5h1M227 591.5h1M254 591.5h1M258 591.5h1M260 591.5h1M264 591.5h1M267 591.5h1M273 591.5h1M218 592.5h3M223 592.5h1M258 592.5h1M261 592.5h1M264 592.5h1M266 592.5h2M272 592.5h1M276 592.5h1M278 592.5h1M219 593.5h1M222 593.5h1M231 593.5h1M257 593.5h2M267 593.5h1M271 593.5h1M274 593.5h1M284 593.5h1M218 594.5h1M257 594.5h1M259 594.5h2M262 594.5h1M265 594.5h2M270 594.5h1M272 594.5h1M275 594.5h1M280 594.5h1M218 595.5h1M220 595.5h1M226 595.5h1M256 595.5h1M259 595.5h1M261 595.5h1M268 595.5h1M273 595.5h1M276 595.5h1M217 596.5h1M219 596.5h1M223 596.5h1M256 596.5h1M259 596.5h1M261 596.5h1M264 596.5h1M269 596.5h1M281 596.5h1M283 596.5h1M219 597.5h1M222 597.5h2M262 597.5h1M267 597.5h3M274 597.5h1M281 597.5h1M217 598.5h1M220 598.5h1M222 598.5h1M247 598.5h1M264 598.5h1M267 598.5h1M273 598.5h1M219 599.5h1M222 599.5h1M243 599.5h1M253 599.5h1M261 599.5h1M264 599.5h1M268 599.5h1M217 600.5h1M226 600.5h1M262 600.5h1M268 600.5h1M221 601.5h1M223 601.5h1M255 601.5h1M262 601.5h1M264 601.5h2M269 601.5h2M273 601.5h1M220 602.5h1M224 602.5h1M241 602.5h1M257 602.5h2M262 602.5h1M264 602.5h2M285 602.5h1M217 603.5h1M219 603.5h1M228 603.5h1M231 603.5h1M245 603.5h1M248 603.5h1M254 603.5h2M259 603.5h3M219 604.5h1M222 604.5h1M225 604.5h1M254 604.5h1M256 604.5h2M259 604.5h1M262 604.5h1M265 604.5h1M267 604.5h1M269 604.5h3M275 604.5h1M222 605.5h1M248 605.5h1M259 605.5h3M263 605.5h2M270 605.5h1M217 606.5h2M221 606.5h1M227 606.5h1M241 606.5h1M252 606.5h1M255 606.5h2M259 606.5h3M266 606.5h1M268 606.5h1M221 607.5h3M226 607.5h1M233 607.5h1M241 607.5h1M249 607.5h3M253 607.5h1M259 607.5h1M265 607.5h1M217 608.5h1M220 608.5h1M223 608.5h1M234 608.5h1M243 608.5h2M250 608.5h1M252 608.5h1M260 608.5h1M263 608.5h2M266 608.5h1M221 609.5h1M223 609.5h1M225 609.5h1M241 609.5h1M250 609.5h1M253 609.5h1M255 609.5h1M261 609.5h1M265 609.5h1M269 609.5h1M217 610.5h2M223 610.5h1M233 610.5h1M240 610.5h1M247 610.5h1M250 610.5h2M256 610.5h1M258 610.5h2M261 610.5h1M264 610.5h2M220 611.5h1M227 611.5h1M240 611.5h1M250 611.5h1M252 611.5h1M261 611.5h1M263 611.5h1M265 611.5h1M267 611.5h1M219 612.5h1M222 612.5h1M227 612.5h1M237 612.5h1M250 612.5h2M263 612.5h1M268 612.5h1M218 613.5h1M225 613.5h1M228 613.5h1M242 613.5h1M244 613.5h3M249 613.5h1M229 614.5h1M232 614.5h1M253 614.5h2M257 614.5h1M260 614.5h1M217 615.5h2M223 615.5h1M225 615.5h1M235 615.5h1M237 615.5h1M247 615.5h2M253 615.5h1M255 615.5h1M217 616.5h2M226 616.5h2M231 616.5h1M235 616.5h1M241 616.5h1M245 616.5h1M248 616.5h1M258 616.5h1M219 617.5h1M225 617.5h2M229 617.5h1M233 617.5h1M235 617.5h1M239 617.5h1M241 617.5h2M246 617.5h1M248 617.5h1M251 617.5h1M254 617.5h2M257 617.5h1M259 617.5h1M223 618.5h1M225 618.5h2M230 618.5h1M232 618.5h1M235 618.5h2M238 618.5h1M240 618.5h2M243 618.5h1M245 618.5h1M247 618.5h3M255 618.5h1M257 618.5h1M218 619.5h1M226 619.5h1M233 619.5h2M236 619.5h2M246 619.5h2M254 619.5h2M221 620.5h1M225 620.5h2M232 620.5h1M234 620.5h1M240 620.5h2M243 620.5h1M250 620.5h1M253 620.5h1M257 620.5h1M259 620.5h1M221 621.5h1M226 621.5h1M232 621.5h1M235 621.5h1M237 621.5h2M244 621.5h1M246 621.5h1M249 621.5h1M253 621.5h1M256 621.5h1M240 622.5h1M245 622.5h1M249 622.5h1M251 622.5h1M256 622.5h1M261 622.5h1M264 622.5h1M267 622.5h1" stroke="#707070" stroke-width="1" shape-rendering="crispEdges"/>
<path d="M276 538.5h1M275 539.5h1M280 539.5h1M283 539.5h1M275 540.5h2M278 540.5h3M275 541.5h1M286 541.5h1M274 542.5h2M282 542.5h3M273 543.5h1M275 543.5h3M272 544.5h1M283 544.5h1M277 545.5h1M281 545.5h3M286 545.5h1M216 546.5h1M270 546.5h1M281 546.5h1M264 547.5h1M266 547.5h1M273 547.5h1M282 547.5h1M285 547.5h1M267 548.5h1M269 548.5h1M279 548.5h1M263 549.5h1M268 549.5h3M264 550.5h4M269 550.5h1M280 551.5h1M282 551.5h1M281 552.5h1M260 553.5h1M268 553.5h2M275 553.5h2M268 554.5h1M271 554.5h2M278 554.5h3M282 554.5h3M242 555.5h1M266 555.5h1M278 555.5h1M280 555.5h1M216 556.5h1M231 556.5h1M236 556.5h1M246 556.5h1M259 556.5h1M262 556.5h1M277 556.5h1M282 556.5h1M216 557.5h1M249 557.5h1M253 557.5h1M261 557.5h1M263 557.5h1M275 557.5h1M280 557.5h1M236 558.5h1M248 558.5h1M262 558.5h1M267 558.5h1M278 558.5h1M223 559.5h1M251 559.5h1M258 559.5h2M261 559.5h2M273 559.5h1M277 559.5h1M228 560.5h1M235 560.5h1M238 560.5h1M255 560.5h2M260 560.5h1M274 560.5h1M231 561.5h1M246 561.5h5M253 561.5h1M260 561.5h2M273 561.5h1M229 562.5h1M239 562.5h2M244 562.5h2M247 562.5h1M249 562.5h1M252 562.5h1M254 562.5h1M257 562.5h1M216 563.5h1M219 563.5h1M227 563.5h1M238 563.5h2M241 563.5h1M244 563.5h1M247 563.5h1M250 563.5h1M259 563.5h2M262 563.5h1M274 563.5h1M278 563.5h1M280 563.5h1M216 564.5h1M223 564.5h1M241 564.5h1M247 564.5h1M252 564.5h4M259 564.5h1M274 564.5h1M278 564.5h1M224 565.5h1M229 565.5h1M235 565.5h4M241 565.5h1M243 565.5h1M250 565.5h1M252 565.5h2M260 565.5h2M280 565.5h1M226 566.5h1M231 566.5h1M238 566.5h1M244 566.5h1M247 566.5h1M269 566.5h1M216 567.5h1M223 567.5h1M225 567.5h1M227 567.5h1M238 567.5h2M242 567.5h2M246 567.5h1M216 568.5h1M224 568.5h1M228 568.5h1M234 568.5h2M237 568.5h1M242 568.5h1M246 568.5h1M252 568.5h1M268 568.5h1M270 568.5h3M274 568.5h2M220 569.5h1M226 569.5h1M228 569.5h1M234 569.5h1M236 569.5h1M239 569.5h1M250 569.5h1M273 569.5h1M276 569.5h1M278 569.5h1M216 570.5h1M229 570.5h1M240 570.5h1M246 570.5h1M254 570.5h1M263 570.5h1M266 570.5h1M268 570.5h1M272 570.5h1M225 571.5h1M230 571.5h1M236 571.5h1M238 571.5h1M263 571.5h1M270 571.5h1M273 571.5h2M221 572.5h1M225 572.5h1M229 572.5h1M231 572.5h1M235 572.5h1M239 572.5h1M252 572.5h1M254 572.5h1M262 572.5h1M267 572.5h1M270 572.5h1M274 572.5h1M225 573.5h1M228 573.5h1M230 573.5h1M233 573.5h1M235 573.5h1M240 573.5h1M242 573.5h2M272 573.5h1M220 574.5h1M223 574.5h1M227 574.5h1M229 574.5h1M240 574.5h1M267 574.5h1M271 574.5h1M218 575.5h1M220 575.5h2M225 575.5h1M229 575.5h1M232 575.5h2M235 575.5h2M266 575.5h1M268 575.5h1M220 576.5h3M227 576.5h1M239 576.5h1M241 576.5h2M268 576.5h1M270 576.5h1M277 576.5h1M224 577.5h3M229 577.5h1M236 577.5h1M264 577.5h1M267 577.5h2M223 578.5h1M234 578.5h1M263 578.5h1M269 578.5h2M223 579.5h1M225 579.5h1M228 579.5h1M230 579.5h1M236 579.5h1M268 579.5h1M274 579.5h1M222 580.5h1M233 580.5h1M269 580.5h1M219 581.5h2M225 581.5h1M231 581.5h1M263 581.5h1M265 581.5h1M219 582.5h1M224 582.5h1M226 582.5h1M228 582.5h5M266 582.5h3M217 583.5h3M221 583.5h1M223 583.5h1M268 583.5h2M277 583.5h1M220 584.5h1M225 584.5h1M231 584.5h2M234 584.5h1M241 584.5h1M268 584.5h1M271 584.5h3M217 585.5h2M220 585.5h1M226 585.5h1M235 585.5h1M249 585.5h1M261 585.5h1M264 585.5h2M267 585.5h1M269 585.5h1M219 586.5h1M224 586.5h1M228 586.5h1M220 587.5h1M232 587.5h1M259 587.5h1M261 587.5h1M265 587.5h1M218 588.5h1M223 588.5h3M227 588.5h1M233 588.5h1M262 588.5h1M276 588.5h1M218 589.5h2M222 589.5h2M226 589.5h1M262 589.5h2M267 589.5h1M217 590.5h1M220 590.5h1M233 590.5h1M238 590.5h1M254 590.5h1M257 590.5h2M269 590.5h1M222 591.5h1M226 591.5h1M229 591.5h1M255 591.5h1M257 591.5h1M222 592.5h1M224 592.5h1M260 592.5h1M221 593.5h1M256 593.5h1M259 593.5h2M263 593.5h2M266 593.5h1M270 593.5h1M219 594.5h1M238 594.5h1M245 594.5h1M264 594.5h1M267 594.5h2M217 595.5h1M224 595.5h1M257 595.5h2M260 595.5h1M265 595.5h1M220 596.5h1M226 596.5h1M228 596.5h1M246 596.5h1M251 596.5h1M263 596.5h1M220 597.5h2M226 597.5h1M250 597.5h1M257 597.5h1M260 597.5h1M218 598.5h2M221 598.5h1M224 598.5h1M227 598.5h1M241 598.5h1M248 598.5h1M254 598.5h2M257 598.5h2M261 598.5h2M269 598.5h1M223 599.5h2M236 599.5h1M255 599.5h3M259 599.5h1M266 599.5h1M220 600.5h1M251 600.5h1M254 600.5h2M258 600.5h1M217 601.5h1M227 601.5h1M241 601.5h1M266 601.5h1M218 602.5h1M221 602.5h1M223 602.5h1M225 602.5h2M252 602.5h2M256 602.5h1M261 602.5h1M220 603.5h1M223 603.5h1M226 603.5h1M234 603.5h1M236 603.5h1M239 603.5h2M246 603.5h1M250 603.5h1M252 603.5h1M258 603.5h1M218 604.5h1M223 604.5h1M228 604.5h2M240 604.5h1M249 604.5h2M253 604.5h1M260 604.5h1M217 605.5h1M220 605.5h2M223 605.5h1M225 605.5h1M227 605.5h1M240 605.5h1M244 605.5h1M249 605.5h1M252 605.5h1M255 605.5h1M266 605.5h1M225 606.5h1M230 606.5h1M246 606.5h1M254 606.5h1M217 607.5h1M224 607.5h1M228 607.5h1M238 607.5h2M247 607.5h2M252 607.5h1M255 607.5h1M225 608.5h2M228 608.5h1M230 608.5h2M235 608.5h1M245 608.5h1M253 608.5h1M258 608.5h1M217 609.5h1M222 609.5h1M228 609.5h2M244 609.5h1M249 609.5h1M251 609.5h1M256 609.5h1M258 609.5h1M219 610.5h1M228 610.5h2M238 610.5h2M242 610.5h1M245 610.5h2M253 610.5h1M217 611.5h3M225 611.5h1M229 611.5h1M234 611.5h2M237 611.5h1M241 611.5h1M246 611.5h1M248 611.5h1M220 612.5h1M223 612.5h1M225 612.5h2M228 612.5h3M240 612.5h2M245 612.5h1M248 612.5h1M252 612.5h1M254 612.5h1M265 612.5h1M217 613.5h1M222 613.5h1M226 613.5h1M231 613.5h1M233 613.5h1M237 613.5h4M247 613.5h1M252 613.5h1M254 613.5h2M221 614.5h1M224 614.5h2M227 614.5h1M230 614.5h2M238 614.5h2M242 614.5h1M246 614.5h1M251 614.5h1M222 615.5h1M232 615.5h1M234 615.5h1M238 615.5h1M241 615.5h2M244 615.5h2M250 615.5h1M252 615.5h1M225 616.5h1M228 616.5h1M230 616.5h1M237 616.5h1M240 616.5h1M244 616.5h1M249 616.5h2M253 616.5h1M222 617.5h1M224 617.5h1M232 617.5h1M237 617.5h1M247 617.5h1M263 617.5h1M217 618.5h1M220 618.5h1M229 618.5h1M231 618.5h1M234 618.5h1M239 618.5h1M244 618.5h1M246 618.5h1M219 619.5h1M221 619.5h1M227 619.5h1M229 619.5h1M239 619.5h2M244 619.5h1M220 620.5h1M228 620.5h2M233 620.5h1M217 621.5h1M220 621.5h1M223 621.5h2M233 621.5h1M241 621.5h1M219 622.5h1M247 622.5h2M252 622.5h1M258 622.5h1" stroke="#383838" stroke-width="1" shape-rendering="crispEdges"/>
<path d="M282 539.5h1M277 540.5h1M284 540.5h1M274 541.5h1M276 541.5h1M279 541.5h1M281 541.5h1M272 542.5h1M276 542.5h5M272 543.5h1M274 543.5h1M278 543.5h1M280 543.5h1M282 543.5h1M271 544.5h1M273 544.5h9M270 545.5h7M278 545.5h3M272 546.5h8M282 546.5h1M270 547.5h3M274 547.5h7M268 548.5h1M271 548.5h8M281 548.5h1M271 549.5h11M268 550.5h1M270 550.5h11M265 551.5h1M268 551.5h4M273 551.5h6M266 552.5h14M264 553.5h1M266 553.5h2M270 553.5h5M278 553.5h1M263 554.5h1M265 554.5h3M269 554.5h2M273 554.5h1M275 554.5h3M263 555.5h3M267 555.5h11M279 555.5h1M263 556.5h13M279 556.5h1M246 557.5h1M262 557.5h1M264 557.5h1M266 557.5h9M276 557.5h3M261 558.5h1M263 558.5h4M268 558.5h7M216 559.5h1M257 559.5h1M260 559.5h1M264 559.5h9M274 559.5h1M276 559.5h1M231 560.5h1M250 560.5h1M257 560.5h3M262 560.5h12M275 560.5h2M278 560.5h1M257 561.5h2M262 561.5h11M274 561.5h3M278 561.5h1M216 562.5h1M226 562.5h1M231 562.5h1M251 562.5h1M253 562.5h1M256 562.5h1M258 562.5h18M279 562.5h1M253 563.5h2M258 563.5h1M261 563.5h1M263 563.5h11M275 563.5h1M234 564.5h2M237 564.5h1M246 564.5h1M250 564.5h1M256 564.5h2M260 564.5h14M275 564.5h3M225 565.5h2M232 565.5h1M240 565.5h1M248 565.5h1M255 565.5h5M262 565.5h11M274 565.5h1M276 565.5h2M216 566.5h1M227 566.5h2M236 566.5h1M241 566.5h1M248 566.5h1M251 566.5h3M255 566.5h14M270 566.5h4M228 567.5h2M235 567.5h1M237 567.5h1M244 567.5h1M248 567.5h24M273 567.5h1M275 567.5h1M230 568.5h1M232 568.5h1M243 568.5h1M245 568.5h1M249 568.5h3M254 568.5h4M259 568.5h9M269 568.5h1M216 569.5h1M224 569.5h2M230 569.5h4M237 569.5h1M240 569.5h1M242 569.5h3M246 569.5h3M251 569.5h19M271 569.5h2M274 569.5h2M277 569.5h1M228 570.5h1M230 570.5h2M233 570.5h1M235 570.5h2M241 570.5h5M247 570.5h1M249 570.5h1M251 570.5h3M255 570.5h8M264 570.5h2M267 570.5h1M269 570.5h1M216 571.5h2M227 571.5h2M231 571.5h2M235 571.5h1M237 571.5h1M239 571.5h3M243 571.5h1M245 571.5h18M264 571.5h6M271 571.5h2M216 572.5h1M230 572.5h1M233 572.5h2M236 572.5h3M240 572.5h4M245 572.5h7M253 572.5h1M255 572.5h7M263 572.5h4M268 572.5h2M271 572.5h1M278 572.5h1M224 573.5h1M226 573.5h2M229 573.5h1M232 573.5h1M234 573.5h1M237 573.5h3M241 573.5h1M244 573.5h2M247 573.5h23M271 573.5h1M216 574.5h1M222 574.5h1M225 574.5h2M228 574.5h1M230 574.5h1M232 574.5h3M236 574.5h1M238 574.5h2M241 574.5h20M262 574.5h5M268 574.5h1M270 574.5h1M216 575.5h1M223 575.5h1M226 575.5h1M230 575.5h1M237 575.5h29M267 575.5h1M270 575.5h1M216 576.5h1M223 576.5h2M226 576.5h1M230 576.5h4M235 576.5h4M240 576.5h1M243 576.5h25M272 576.5h1M216 577.5h2M230 577.5h1M232 577.5h4M238 577.5h3M242 577.5h22M265 577.5h2M269 577.5h2M272 577.5h1M216 578.5h2M224 578.5h2M227 578.5h1M229 578.5h2M232 578.5h2M235 578.5h28M264 578.5h2M268 578.5h1M216 579.5h1M231 579.5h5M237 579.5h2M240 579.5h28M216 580.5h1M223 580.5h1M226 580.5h1M229 580.5h4M234 580.5h30M265 580.5h3M223 581.5h2M228 581.5h3M232 581.5h27M260 581.5h3M264 581.5h1M267 581.5h1M273 581.5h1M216 582.5h2M223 582.5h1M225 582.5h1M227 582.5h1M233 582.5h25M259 582.5h5M265 582.5h1M216 583.5h1M225 583.5h2M228 583.5h4M233 583.5h26M260 583.5h3M264 583.5h2M267 583.5h1M216 584.5h1M223 584.5h2M227 584.5h1M229 584.5h2M233 584.5h1M235 584.5h6M242 584.5h21M269 584.5h1M216 585.5h1M223 585.5h1M225 585.5h1M227 585.5h1M229 585.5h3M233 585.5h2M236 585.5h13M250 585.5h11M263 585.5h1M216 586.5h1M223 586.5h1M225 586.5h3M229 586.5h28M258 586.5h1M260 586.5h5M267 586.5h1M216 587.5h1M218 587.5h1M226 587.5h4M231 587.5h1M233 587.5h26M260 587.5h1M262 587.5h3M216 588.5h1M226 588.5h1M228 588.5h2M231 588.5h2M234 588.5h28M267 588.5h1M216 589.5h1M220 589.5h1M225 589.5h1M227 589.5h2M230 589.5h31M216 590.5h1M223 590.5h1M225 590.5h8M234 590.5h4M239 590.5h15M255 590.5h2M259 590.5h3M263 590.5h2M216 591.5h1M221 591.5h1M224 591.5h2M228 591.5h1M230 591.5h24M256 591.5h1M259 591.5h1M261 591.5h1M263 591.5h1M265 591.5h1M268 591.5h1M216 592.5h2M221 592.5h1M226 592.5h32M259 592.5h1M262 592.5h1M265 592.5h1M216 593.5h1M220 593.5h1M224 593.5h7M232 593.5h24M261 593.5h2M216 594.5h2M221 594.5h17M239 594.5h6M246 594.5h11M258 594.5h1M261 594.5h1M216 595.5h1M219 595.5h1M221 595.5h3M225 595.5h1M227 595.5h28M262 595.5h1M216 596.5h1M218 596.5h1M221 596.5h2M224 596.5h2M227 596.5h1M229 596.5h17M247 596.5h4M252 596.5h4M258 596.5h1M260 596.5h1M216 597.5h3M224 597.5h2M227 597.5h23M251 597.5h3M255 597.5h2M258 597.5h1M216 598.5h1M223 598.5h1M225 598.5h2M228 598.5h13M242 598.5h5M249 598.5h5M256 598.5h1M260 598.5h1M263 598.5h1M216 599.5h3M220 599.5h2M225 599.5h11M237 599.5h6M244 599.5h9M254 599.5h1M260 599.5h1M263 599.5h1M216 600.5h1M219 600.5h1M221 600.5h5M227 600.5h24M252 600.5h2M216 601.5h1M220 601.5h1M222 601.5h1M224 601.5h3M228 601.5h13M242 601.5h13M256 601.5h2M216 602.5h2M219 602.5h1M222 602.5h1M227 602.5h14M242 602.5h10M254 602.5h2M260 602.5h1M216 603.5h1M221 603.5h2M224 603.5h2M227 603.5h1M229 603.5h2M232 603.5h2M235 603.5h1M237 603.5h2M241 603.5h4M247 603.5h1M249 603.5h1M251 603.5h1M253 603.5h1M256 603.5h1M216 604.5h2M224 604.5h1M226 604.5h2M230 604.5h5M236 604.5h4M241 604.5h8M251 604.5h1M266 604.5h1M216 605.5h1M218 605.5h2M224 605.5h1M226 605.5h1M228 605.5h12M241 605.5h3M245 605.5h3M250 605.5h1M253 605.5h2M216 606.5h1M219 606.5h2M222 606.5h3M226 606.5h1M228 606.5h2M231 606.5h10M242 606.5h4M247 606.5h5M253 606.5h1M216 607.5h1M218 607.5h1M220 607.5h1M225 607.5h1M227 607.5h1M229 607.5h4M234 607.5h4M240 607.5h1M242 607.5h5M261 607.5h1M216 608.5h1M219 608.5h1M221 608.5h2M227 608.5h1M229 608.5h1M232 608.5h2M236 608.5h7M246 608.5h2M249 608.5h1M254 608.5h2M259 608.5h1M216 609.5h1M218 609.5h1M220 609.5h1M226 609.5h2M230 609.5h11M242 609.5h1M245 609.5h1M248 609.5h1M216 610.5h1M220 610.5h1M224 610.5h4M230 610.5h1M232 610.5h1M234 610.5h4M241 610.5h1M243 610.5h2M249 610.5h1M257 610.5h1M216 611.5h1M221 611.5h1M223 611.5h2M226 611.5h1M228 611.5h1M230 611.5h3M236 611.5h1M238 611.5h2M242 611.5h4M249 611.5h1M251 611.5h1M216 612.5h1M224 612.5h1M231 612.5h6M238 612.5h2M243 612.5h2M246 612.5h2M216 613.5h1M220 613.5h1M223 613.5h2M227 613.5h1M229 613.5h1M232 613.5h1M234 613.5h3M241 613.5h1M248 613.5h1M251 613.5h1M216 614.5h2M219 614.5h1M222 614.5h1M233 614.5h5M240 614.5h2M243 614.5h1M255 614.5h1M216 615.5h1M224 615.5h1M227 615.5h1M229 615.5h3M236 615.5h1M239 615.5h1M254 615.5h1M216 616.5h1M224 616.5h1M229 616.5h1M232 616.5h1M234 616.5h1M236 616.5h1M238 616.5h2M243 616.5h1M216 617.5h1M227 617.5h2M230 617.5h2M234 617.5h1M236 617.5h1M238 617.5h1M240 617.5h1M243 617.5h1M216 618.5h1M222 618.5h1M227 618.5h1M233 618.5h1M242 618.5h1M216 619.5h1M225 619.5h1M232 619.5h1M235 619.5h1M216 620.5h2M219 620.5h1M230 620.5h1M238 620.5h1M216 621.5h1M225 621.5h1M216 622.5h3M220 622.5h20M241 622.5h4" stroke="#000" stroke-width="1" shape-rendering="crispEdges"/>
<path d="M378 529.5h1M386 530.5h1M380 533.5h1M386 533.5h1M377 534.5h2M386 534.5h1M388 535.5h1M384 536.5h1M353 537.5h1M364 537.5h1M376 537.5h1M387 537.5h2M374 538.5h1M380 538.5h2M383 538.5h2M387 538.5h1M370 539.5h1M337 540.5h1M366 540.5h1M382 540.5h1M384 540.5h1M359 541.5h1M367 541.5h1M371 541.5h1M374 541.5h1M376 541.5h1M381 541.5h1M383 541.5h1M387 541.5h1M324 542.5h1M376 542.5h3M385 542.5h1M388 542.5h1M320 543.5h1M381 543.5h1M383 543.5h1M385 543.5h1M377 544.5h1M379 544.5h1M382 544.5h1M331 545.5h1M358 545.5h1M370 545.5h1M373 545.5h1M375 545.5h1M377 545.5h2M359 546.5h1M372 546.5h1M380 546.5h1M318 547.5h1M329 547.5h1M351 547.5h1M372 547.5h1M374 547.5h4M380 547.5h2M329 548.5h1M354 548.5h1M358 548.5h1M367 548.5h1M380 548.5h2M322 549.5h1M326 549.5h1M342 549.5h1M349 549.5h1M364 549.5h1M367 549.5h1M375 549.5h2M378 549.5h2M383 549.5h1M324 550.5h1M336 550.5h1M344 550.5h1M347 550.5h1M350 550.5h1M352 550.5h1M370 550.5h2M383 550.5h1M323 551.5h2M339 551.5h1M345 551.5h1M348 551.5h1M351 551.5h1M358 551.5h1M360 551.5h1M362 551.5h1M364 551.5h2M367 551.5h2M373 551.5h1M375 551.5h1M377 551.5h2M380 551.5h1M383 551.5h1M386 551.5h1M345 552.5h1M375 552.5h1M379 552.5h2M324 553.5h2M332 553.5h1M337 553.5h1M344 553.5h1M354 553.5h1M371 553.5h1M373 553.5h1M380 553.5h1M328 554.5h1M330 554.5h1M346 554.5h1M352 554.5h1M354 554.5h1M358 554.5h2M362 554.5h2M367 554.5h1M369 554.5h1M374 554.5h1M376 554.5h1M384 554.5h1M319 555.5h1M329 555.5h1M337 555.5h1M342 555.5h1M350 555.5h2M356 555.5h1M359 555.5h1M361 555.5h1M365 555.5h3M369 555.5h1M372 555.5h1M376 555.5h2M379 555.5h1M385 555.5h1M391 555.5h1M319 556.5h1M323 556.5h2M326 556.5h1M332 556.5h1M339 556.5h1M349 556.5h5M358 556.5h4M365 556.5h1M371 556.5h1M378 556.5h1M380 556.5h1M382 556.5h2M320 557.5h1M329 557.5h1M331 557.5h1M335 557.5h2M338 557.5h1M340 557.5h1M344 557.5h2M357 557.5h4M362 557.5h1M365 557.5h1M367 557.5h1M370 557.5h1M372 557.5h1M374 557.5h1M394 557.5h1M318 558.5h2M325 558.5h1M338 558.5h2M346 558.5h2M351 558.5h1M355 558.5h1M358 558.5h1M361 558.5h1M366 558.5h1M369 558.5h1M375 558.5h1M318 559.5h1M320 559.5h1M325 559.5h1M327 559.5h1M331 559.5h1M334 559.5h1M338 559.5h2M341 559.5h1M343 559.5h2M346 559.5h1M350 559.5h1M353 559.5h2M362 559.5h1M366 559.5h2M374 559.5h1M382 559.5h2M321 560.5h1M329 560.5h1M332 560.5h1M335 560.5h2M338 560.5h2M341 560.5h1M345 560.5h1M348 560.5h1M350 560.5h1M352 560.5h1M357 560.5h2M360 560.5h5M367 560.5h2M371 560.5h4M380 560.5h1M387 560.5h1M318 561.5h1M324 561.5h2M327 561.5h4M332 561.5h1M337 561.5h1M343 561.5h1M345 561.5h1M349 561.5h2M353 561.5h2M360 561.5h1M362 561.5h1M365 561.5h1M372 561.5h1M374 561.5h1M318 562.5h1M322 562.5h2M328 562.5h2M331 562.5h2M336 562.5h3M343 562.5h2M346 562.5h3M351 562.5h1M354 562.5h1M356 562.5h3M361 562.5h2M369 562.5h2M375 562.5h1M379 562.5h1M320 563.5h2M323 563.5h3M328 563.5h1M330 563.5h1M332 563.5h1M335 563.5h1M337 563.5h2M340 563.5h1M349 563.5h1M354 563.5h1M357 563.5h1M366 563.5h1M369 563.5h1M376 563.5h1M328 564.5h1M330 564.5h1M335 564.5h1M340 564.5h1M343 564.5h1M345 564.5h3M350 564.5h3M358 564.5h2M362 564.5h1M365 564.5h1M368 564.5h1M374 564.5h1M376 564.5h1M379 564.5h1M382 564.5h1M390 564.5h1M319 565.5h1M323 565.5h1M325 565.5h2M336 565.5h1M339 565.5h1M342 565.5h2M345 565.5h2M348 565.5h1M352 565.5h2M355 565.5h1M359 565.5h3M364 565.5h1M367 565.5h4M373 565.5h1M322 566.5h1M324 566.5h3M329 566.5h1M331 566.5h1M333 566.5h2M344 566.5h1M347 566.5h1M349 566.5h1M352 566.5h3M358 566.5h2M362 566.5h1M364 566.5h1M366 566.5h2M369 566.5h1M371 566.5h1M375 566.5h1M378 566.5h1M381 566.5h1M319 567.5h2M323 567.5h5M333 567.5h1M338 567.5h2M345 567.5h4M355 567.5h1M359 567.5h2M362 567.5h2M365 567.5h1M371 567.5h2M375 567.5h1M383 567.5h1M319 568.5h1M331 568.5h3M335 568.5h1M339 568.5h1M344 568.5h1M348 568.5h1M356 568.5h1M361 568.5h2M364 568.5h2M368 568.5h2M373 568.5h1M377 568.5h1M321 569.5h5M327 569.5h1M336 569.5h1M341 569.5h1M361 569.5h1M365 569.5h2M370 569.5h1M375 569.5h1M378 569.5h1M384 569.5h1M391 569.5h1M324 570.5h1M326 570.5h1M331 570.5h4M339 570.5h1M344 570.5h1M346 570.5h1M348 570.5h1M354 570.5h1M358 570.5h1M362 570.5h1M364 570.5h1M371 570.5h1M373 570.5h1M377 570.5h2M387 570.5h1M321 571.5h3M328 571.5h3M335 571.5h1M339 571.5h1M343 571.5h1M355 571.5h1M365 571.5h1M370 571.5h2M373 571.5h4M378 571.5h1M380 571.5h3M323 572.5h2M326 572.5h1M328 572.5h2M331 572.5h3M337 572.5h1M348 572.5h1M352 572.5h1M358 572.5h1M369 572.5h1M371 572.5h2M374 572.5h1M384 572.5h1M393 572.5h1M322 573.5h1M324 573.5h1M328 573.5h1M332 573.5h1M348 573.5h1M356 573.5h1M364 573.5h2M373 573.5h2M378 573.5h2M386 573.5h1M320 574.5h1M325 574.5h2M328 574.5h1M330 574.5h1M344 574.5h2M353 574.5h1M365 574.5h1M369 574.5h1M376 574.5h1M378 574.5h1M384 574.5h2M392 574.5h1M325 575.5h3M332 575.5h2M341 575.5h1M356 575.5h1M359 575.5h1M364 575.5h2M367 575.5h1M372 575.5h2M378 575.5h1M382 575.5h2M325 576.5h3M332 576.5h1M337 576.5h1M364 576.5h1M369 576.5h3M373 576.5h3M386 576.5h1M392 576.5h1M319 577.5h1M324 577.5h2M333 577.5h1M343 577.5h1M364 577.5h1M371 577.5h1M373 577.5h1M378 577.5h1M380 577.5h1M384 577.5h1M320 578.5h2M328 578.5h1M366 578.5h1M373 578.5h1M376 578.5h1M380 578.5h2M324 579.5h1M326 579.5h2M329 579.5h1M331 579.5h1M338 579.5h1M359 579.5h1M362 579.5h1M366 579.5h1M369 579.5h2M373 579.5h1M384 579.5h1M320 580.5h2M323 580.5h3M327 580.5h1M329 580.5h2M366 580.5h1M373 580.5h1M378 580.5h1M382 580.5h1M322 581.5h1M342 581.5h1M368 581.5h1M371 581.5h1M378 581.5h1M386 581.5h1M391 581.5h1M322 582.5h3M326 582.5h1M362 582.5h1M371 582.5h1M375 582.5h2M380 582.5h3M388 582.5h1M321 583.5h1M324 583.5h1M326 583.5h1M334 583.5h1M373 583.5h2M376 583.5h1M379 583.5h3M326 584.5h1M372 584.5h3M379 584.5h2M385 584.5h1M321 585.5h4M326 585.5h1M335 585.5h1M370 585.5h1M372 585.5h1M379 585.5h1M381 585.5h1M386 585.5h1M320 586.5h2M371 586.5h4M377 586.5h1M379 586.5h1M381 586.5h1M384 586.5h1M387 586.5h1M327 587.5h1M332 587.5h1M334 587.5h1M339 587.5h1M370 587.5h1M372 587.5h1M377 587.5h1M379 587.5h2M322 588.5h1M325 588.5h1M329 588.5h1M332 588.5h1M369 588.5h2M374 588.5h3M378 588.5h1M320 589.5h3M324 589.5h1M364 589.5h1M370 589.5h1M373 589.5h1M376 589.5h1M378 589.5h1M388 589.5h1M321 590.5h1M324 590.5h2M329 590.5h1M372 590.5h1M375 590.5h1M377 590.5h1M320 591.5h1M332 591.5h1M371 591.5h1M376 591.5h2M326 592.5h1M361 592.5h1M323 593.5h2M326 593.5h1M329 593.5h1M370 593.5h1M373 593.5h1M376 593.5h1M380 593.5h1M383 593.5h1M400 593.5h1M318 594.5h1M366 594.5h1M369 594.5h1M375 594.5h1M387 594.5h1M321 595.5h1M327 595.5h1M365 595.5h1M367 595.5h2M370 595.5h1M372 595.5h3M321 596.5h1M325 596.5h1M353 596.5h1M358 596.5h1M369 596.5h2M379 596.5h1M381 596.5h1M321 597.5h4M340 597.5h1M367 597.5h1M369 597.5h1M372 597.5h1M374 597.5h2M377 597.5h2M320 598.5h1M326 598.5h1M330 598.5h1M358 598.5h1M365 598.5h1M367 598.5h1M373 598.5h2M322 599.5h2M361 599.5h1M370 599.5h1M376 599.5h1M382 599.5h1M384 599.5h1M359 600.5h1M363 600.5h1M376 600.5h1M379 600.5h1M321 601.5h1M366 601.5h1M368 601.5h1M373 601.5h2M376 601.5h1M319 602.5h2M323 602.5h1M326 602.5h1M355 602.5h1M357 602.5h1M367 602.5h1M370 602.5h2M373 602.5h1M321 603.5h1M323 603.5h1M326 603.5h1M367 603.5h3M380 603.5h1M322 604.5h1M325 604.5h1M331 604.5h1M360 604.5h1M366 604.5h1M370 604.5h1M373 604.5h1M320 605.5h1M322 605.5h3M360 605.5h2M363 605.5h1M385 605.5h1M323 606.5h1M369 606.5h3M373 606.5h1M320 607.5h1M322 607.5h1M325 607.5h1M327 607.5h1M358 607.5h1M362 607.5h1M370 607.5h1M374 607.5h1M321 608.5h2M353 608.5h1M360 608.5h1M365 608.5h1M368 608.5h4M373 608.5h1M321 609.5h4M334 609.5h1M354 609.5h1M360 609.5h1M364 609.5h1M366 609.5h1M368 609.5h1M370 609.5h2M373 609.5h3M320 610.5h1M328 610.5h1M343 610.5h1M351 610.5h1M355 610.5h1M362 610.5h4M370 610.5h1M372 610.5h1M385 610.5h1M320 611.5h1M324 611.5h1M329 611.5h1M345 611.5h1M357 611.5h1M361 611.5h1M368 611.5h1M375 611.5h1M319 612.5h2M326 612.5h1M332 612.5h1M335 612.5h1M353 612.5h1M355 612.5h1M359 612.5h3M366 612.5h1M369 612.5h1M371 612.5h1M376 612.5h1M321 613.5h1M323 613.5h1M329 613.5h3M352 613.5h3M360 613.5h3M364 613.5h2M367 613.5h1M370 613.5h1M319 614.5h1M323 614.5h1M331 614.5h1M346 614.5h1M352 614.5h2M357 614.5h1M363 614.5h1M366 614.5h1M368 614.5h1M370 614.5h1M377 614.5h1M322 615.5h1M326 615.5h2M330 615.5h2M333 615.5h1M335 615.5h1M337 615.5h2M344 615.5h2M347 615.5h2M351 615.5h1M353 615.5h1M357 615.5h2M360 615.5h1M367 615.5h1M373 615.5h1M378 615.5h1M319 616.5h2M322 616.5h1M324 616.5h1M327 616.5h1M329 616.5h1M351 616.5h1M354 616.5h1M358 616.5h3M362 616.5h3M366 616.5h1M375 616.5h1M320 617.5h1M325 617.5h1M327 617.5h3M345 617.5h2M348 617.5h3M352 617.5h2M357 617.5h1M359 617.5h1M362 617.5h1M318 618.5h1M324 618.5h1M335 618.5h1M339 618.5h1M344 618.5h1M349 618.5h1M352 618.5h1M357 618.5h2M361 618.5h2M368 618.5h1M376 618.5h1M320 619.5h1M322 619.5h2M325 619.5h2M329 619.5h1M332 619.5h3M336 619.5h3M343 619.5h1M345 619.5h1M348 619.5h1M352 619.5h1M373 619.5h1M320 620.5h1M322 620.5h1M326 620.5h5M332 620.5h2M335 620.5h2M343 620.5h2M347 620.5h1M349 620.5h2M355 620.5h1M358 620.5h1M367 620.5h1M321 621.5h1M323 621.5h2M326 621.5h1M333 621.5h2M336 621.5h1M338 621.5h1M342 621.5h4M352 621.5h1M354 621.5h2M357 621.5h1M360 621.5h1M363 621.5h1M365 622.5h1M373 622.5h1" stroke="#707070" stroke-width="1" shape-rendering="crispEdges"/>
<path d="M388 539.5h1M382 541.5h1M381 542.5h1M384 542.5h1M379 547.5h1M361 551.5h1M373 552.5h1M327 553.5h1M379 553.5h1M325 554.5h1M339 554.5h1M371 554.5h1M318 555.5h1M324 555.5h1M338 555.5h1M345 555.5h1M358 555.5h1M368 555.5h1M371 555.5h1M318 556.5h1M333 556.5h1M370 556.5h1M377 556.5h1M324 557.5h1M333 557.5h1M343 557.5h1M356 557.5h1M366 557.5h1M373 557.5h1M332 558.5h1M343 558.5h1M348 558.5h1M360 558.5h1M363 558.5h1M368 558.5h1M372 558.5h1M329 559.5h1M332 559.5h1M363 559.5h1M380 559.5h1M319 560.5h1M335 561.5h2M342 561.5h1M358 561.5h1M361 561.5h1M364 561.5h1M369 561.5h1M321 562.5h1M324 562.5h1M335 562.5h1M341 562.5h1M349 562.5h2M359 562.5h1M363 562.5h1M365 562.5h1M318 563.5h1M331 563.5h1M344 563.5h1M346 563.5h1M348 563.5h1M350 563.5h1M352 563.5h2M358 563.5h1M362 563.5h4M319 564.5h1M326 564.5h1M332 564.5h1M342 564.5h1M356 564.5h1M361 564.5h1M369 564.5h2M372 564.5h1M378 564.5h1M320 565.5h1M327 565.5h1M330 565.5h2M333 565.5h1M371 565.5h1M320 566.5h1M323 566.5h1M328 566.5h1M332 566.5h1M338 566.5h2M343 566.5h1M350 566.5h2M356 566.5h1M360 566.5h2M365 566.5h1M368 566.5h1M370 566.5h1M322 567.5h1M329 567.5h1M336 567.5h1M341 567.5h1M344 567.5h1M349 567.5h1M353 567.5h2M356 567.5h1M361 567.5h1M366 567.5h1M368 567.5h1M381 567.5h1M318 568.5h1M323 568.5h1M329 568.5h1M336 568.5h3M340 568.5h2M347 568.5h1M351 568.5h2M357 568.5h1M360 568.5h1M367 568.5h1M370 568.5h1M372 568.5h1M332 569.5h3M337 569.5h1M340 569.5h1M344 569.5h3M350 569.5h1M354 569.5h2M358 569.5h1M362 569.5h3M367 569.5h1M379 569.5h1M321 570.5h1M325 570.5h1M327 570.5h1M329 570.5h2M337 570.5h2M347 570.5h1M353 570.5h1M357 570.5h1M363 570.5h1M366 570.5h1M368 570.5h1M370 570.5h1M375 570.5h1M318 571.5h2M325 571.5h1M331 571.5h2M334 571.5h1M338 571.5h1M340 571.5h3M348 571.5h3M352 571.5h1M354 571.5h1M357 571.5h1M360 571.5h1M366 571.5h1M369 571.5h1M321 572.5h1M327 572.5h1M330 572.5h1M335 572.5h1M357 572.5h1M361 572.5h4M368 572.5h1M318 573.5h2M331 573.5h1M333 573.5h2M338 573.5h1M344 573.5h1M346 573.5h1M349 573.5h1M358 573.5h1M370 573.5h1M372 573.5h1M318 574.5h1M321 574.5h2M324 574.5h1M327 574.5h1M334 574.5h1M336 574.5h1M347 574.5h1M359 574.5h2M364 574.5h1M368 574.5h1M370 574.5h1M375 574.5h1M380 574.5h1M319 575.5h6M349 575.5h1M357 575.5h2M361 575.5h1M366 575.5h1M375 575.5h2M318 576.5h1M328 576.5h1M331 576.5h1M334 576.5h1M338 576.5h2M343 576.5h3M349 576.5h1M362 576.5h1M368 576.5h1M372 576.5h1M328 577.5h1M330 577.5h1M334 577.5h1M338 577.5h1M344 577.5h1M352 577.5h1M355 577.5h1M363 577.5h1M367 577.5h1M374 577.5h1M319 578.5h1M322 578.5h1M324 578.5h1M327 578.5h1M329 578.5h2M339 578.5h1M344 578.5h1M359 578.5h2M362 578.5h1M364 578.5h2M368 578.5h1M370 578.5h1M382 578.5h1M328 579.5h1M333 579.5h1M335 579.5h1M337 579.5h1M344 579.5h1M364 579.5h1M371 579.5h1M376 579.5h2M319 580.5h1M368 580.5h3M324 581.5h1M326 581.5h1M328 581.5h4M343 581.5h1M352 581.5h1M363 581.5h1M366 581.5h1M372 581.5h2M376 581.5h1M327 582.5h1M332 582.5h2M336 582.5h1M364 582.5h2M373 582.5h1M318 583.5h1M330 583.5h1M371 583.5h2M375 583.5h1M378 583.5h1M321 584.5h1M323 584.5h1M327 584.5h1M370 584.5h1M384 584.5h1M334 585.5h1M366 585.5h1M368 585.5h1M375 585.5h1M378 585.5h1M325 586.5h3M368 586.5h1M323 587.5h1M358 587.5h1M371 587.5h1M374 587.5h1M376 587.5h1M319 588.5h1M323 588.5h2M326 588.5h1M328 588.5h1M330 588.5h1M361 588.5h1M372 588.5h2M318 589.5h1M325 589.5h2M328 589.5h1M333 589.5h1M368 589.5h1M371 589.5h1M374 589.5h1M382 589.5h1M320 590.5h1M331 590.5h1M340 590.5h1M360 590.5h1M369 590.5h1M371 590.5h1M374 590.5h1M376 590.5h1M321 591.5h1M330 591.5h1M367 591.5h1M370 591.5h1M322 592.5h1M324 592.5h2M327 592.5h1M329 592.5h1M377 592.5h1M320 593.5h3M325 593.5h1M332 593.5h1M363 593.5h1M367 593.5h1M369 593.5h1M320 594.5h1M360 594.5h1M365 594.5h1M370 594.5h1M373 594.5h1M377 594.5h1M322 595.5h1M328 595.5h1M360 595.5h2M369 595.5h1M322 596.5h2M326 596.5h1M362 596.5h1M366 596.5h3M373 596.5h1M330 597.5h1M362 597.5h4M376 597.5h1M321 598.5h1M325 598.5h1M328 598.5h1M368 598.5h1M370 598.5h2M377 598.5h1M381 598.5h1M321 599.5h1M332 599.5h1M363 599.5h1M366 599.5h4M318 600.5h1M321 600.5h2M356 600.5h1M361 600.5h1M370 600.5h2M322 601.5h2M325 601.5h1M330 601.5h1M322 602.5h1M324 602.5h1M344 602.5h1M361 602.5h1M365 602.5h2M369 602.5h1M320 603.5h1M325 603.5h1M361 603.5h6M370 603.5h1M319 604.5h1M323 604.5h1M326 604.5h1M358 604.5h1M361 604.5h1M363 604.5h2M372 604.5h1M352 605.5h1M355 605.5h1M359 605.5h1M362 605.5h1M365 605.5h1M367 605.5h1M321 606.5h2M348 606.5h1M354 606.5h1M362 606.5h3M366 606.5h2M372 606.5h1M321 607.5h1M323 607.5h2M340 607.5h1M343 607.5h1M359 607.5h2M365 607.5h1M369 607.5h1M320 608.5h1M325 608.5h1M328 608.5h1M330 608.5h1M334 608.5h1M336 608.5h1M354 608.5h1M362 608.5h1M343 609.5h1M365 609.5h1M369 609.5h1M321 610.5h2M324 610.5h2M327 610.5h1M329 610.5h1M333 610.5h1M337 610.5h1M359 610.5h1M361 610.5h1M375 610.5h1M323 611.5h1M326 611.5h1M341 611.5h2M349 611.5h1M351 611.5h2M356 611.5h1M358 611.5h3M363 611.5h1M365 611.5h1M323 612.5h1M325 612.5h1M339 612.5h1M344 612.5h2M349 612.5h1M354 612.5h1M357 612.5h2M367 612.5h1M370 612.5h1M320 613.5h1M344 613.5h2M357 613.5h1M359 613.5h1M325 614.5h2M330 614.5h1M333 614.5h1M336 614.5h1M344 614.5h1M358 614.5h1M360 614.5h3M325 615.5h1M328 615.5h1M334 615.5h1M339 615.5h1M343 615.5h1M349 615.5h2M356 615.5h1M359 615.5h1M323 616.5h1M325 616.5h2M335 616.5h6M343 616.5h1M346 616.5h1M348 616.5h1M350 616.5h1M352 616.5h2M319 617.5h1M323 617.5h1M326 617.5h1M330 617.5h2M333 617.5h1M335 617.5h2M338 617.5h3M343 617.5h1M347 617.5h1M354 617.5h3M319 618.5h2M326 618.5h1M338 618.5h1M341 618.5h1M350 618.5h2M360 618.5h1M327 619.5h2M335 619.5h1M339 619.5h1M350 619.5h1M353 619.5h1M355 619.5h1M324 620.5h1M331 620.5h1M334 620.5h1M338 620.5h1M340 620.5h1M342 620.5h1M354 620.5h1M357 620.5h1M330 621.5h1M337 621.5h1M340 621.5h1M353 621.5h1M358 622.5h3" stroke="#383838" stroke-width="1" shape-rendering="crispEdges"/>
<path d="M333 555.5h1M337 558.5h1M365 558.5h1M345 559.5h1M354 560.5h1M334 561.5h1M352 561.5h1M359 561.5h1M367 561.5h1M376 561.5h1M330 562.5h1M333 562.5h1M364 562.5h1M372 562.5h1M341 563.5h1M347 563.5h1M351 563.5h1M355 563.5h1M360 563.5h1M318 564.5h1M333 564.5h1M336 564.5h1M339 564.5h1M348 564.5h1M354 564.5h1M357 564.5h1M367 564.5h1M318 565.5h1M332 565.5h1M334 565.5h2M341 565.5h1M349 565.5h1M356 565.5h1M358 565.5h1M363 565.5h1M318 566.5h1M327 566.5h1M335 566.5h1M337 566.5h1M340 566.5h3M345 566.5h1M348 566.5h1M363 566.5h1M376 566.5h1M318 567.5h1M332 567.5h1M340 567.5h1M342 567.5h1M350 567.5h2M357 567.5h2M364 567.5h1M369 567.5h1M320 568.5h2M342 568.5h2M345 568.5h2M349 568.5h2M353 568.5h1M355 568.5h1M358 568.5h2M363 568.5h1M371 568.5h1M318 569.5h3M328 569.5h1M330 569.5h2M335 569.5h1M339 569.5h1M342 569.5h2M348 569.5h2M351 569.5h3M356 569.5h2M359 569.5h2M368 569.5h1M318 570.5h3M323 570.5h1M328 570.5h1M335 570.5h2M342 570.5h2M345 570.5h1M349 570.5h4M355 570.5h2M359 570.5h3M333 571.5h1M336 571.5h1M344 571.5h4M351 571.5h1M353 571.5h1M356 571.5h1M358 571.5h2M361 571.5h4M367 571.5h2M318 572.5h2M334 572.5h1M336 572.5h1M339 572.5h5M345 572.5h3M349 572.5h3M353 572.5h4M359 572.5h2M366 572.5h2M373 572.5h1M321 573.5h1M323 573.5h1M325 573.5h1M327 573.5h1M329 573.5h2M335 573.5h3M339 573.5h5M345 573.5h1M347 573.5h1M350 573.5h6M357 573.5h1M359 573.5h1M361 573.5h3M367 573.5h3M371 573.5h1M319 574.5h1M329 574.5h1M331 574.5h3M335 574.5h1M337 574.5h7M346 574.5h1M348 574.5h5M354 574.5h1M356 574.5h3M361 574.5h3M366 574.5h2M318 575.5h1M329 575.5h1M331 575.5h1M334 575.5h7M342 575.5h7M350 575.5h6M362 575.5h2M319 576.5h2M322 576.5h1M329 576.5h2M335 576.5h2M340 576.5h3M346 576.5h3M350 576.5h12M363 576.5h1M365 576.5h3M318 577.5h1M321 577.5h1M326 577.5h2M329 577.5h1M332 577.5h1M335 577.5h3M339 577.5h4M345 577.5h7M353 577.5h2M356 577.5h7M365 577.5h2M368 577.5h2M372 577.5h1M379 577.5h1M318 578.5h1M325 578.5h1M332 578.5h7M340 578.5h4M345 578.5h14M361 578.5h1M363 578.5h1M367 578.5h1M369 578.5h1M375 578.5h1M318 579.5h2M321 579.5h3M330 579.5h1M332 579.5h1M334 579.5h1M336 579.5h1M339 579.5h5M345 579.5h14M360 579.5h2M363 579.5h1M365 579.5h1M367 579.5h2M374 579.5h1M379 579.5h1M318 580.5h1M331 580.5h3M335 580.5h31M367 580.5h1M318 581.5h3M325 581.5h1M332 581.5h10M344 581.5h8M353 581.5h10M364 581.5h2M367 581.5h1M369 581.5h2M375 581.5h1M318 582.5h2M328 582.5h2M331 582.5h1M334 582.5h2M337 582.5h25M363 582.5h1M366 582.5h5M319 583.5h1M325 583.5h1M328 583.5h2M331 583.5h3M335 583.5h36M318 584.5h3M324 584.5h2M328 584.5h42M318 585.5h3M327 585.5h7M336 585.5h27M364 585.5h2M367 585.5h1M318 586.5h2M323 586.5h1M328 586.5h27M356 586.5h12M369 586.5h2M318 587.5h3M322 587.5h1M325 587.5h2M328 587.5h4M333 587.5h1M335 587.5h4M340 587.5h18M359 587.5h11M318 588.5h1M321 588.5h1M327 588.5h1M331 588.5h1M333 588.5h28M363 588.5h2M366 588.5h3M371 588.5h1M319 589.5h1M327 589.5h1M329 589.5h4M334 589.5h30M365 589.5h3M369 589.5h1M318 590.5h2M322 590.5h2M327 590.5h1M330 590.5h1M332 590.5h8M341 590.5h19M361 590.5h8M370 590.5h1M318 591.5h2M323 591.5h2M326 591.5h4M331 591.5h1M333 591.5h34M369 591.5h1M318 592.5h3M323 592.5h1M328 592.5h1M330 592.5h31M362 592.5h8M372 592.5h1M318 593.5h2M327 593.5h2M330 593.5h2M333 593.5h30M364 593.5h3M368 593.5h1M375 593.5h1M319 594.5h1M321 594.5h1M323 594.5h37M361 594.5h4M367 594.5h1M371 594.5h1M318 595.5h3M323 595.5h4M329 595.5h31M362 595.5h2M366 595.5h1M318 596.5h2M324 596.5h1M327 596.5h26M354 596.5h4M359 596.5h3M363 596.5h3M318 597.5h2M325 597.5h5M331 597.5h9M341 597.5h21M366 597.5h1M368 597.5h1M318 598.5h2M322 598.5h1M324 598.5h1M327 598.5h1M329 598.5h1M331 598.5h27M359 598.5h6M366 598.5h1M369 598.5h1M318 599.5h3M324 599.5h8M333 599.5h28M362 599.5h1M364 599.5h2M319 600.5h2M323 600.5h33M357 600.5h2M360 600.5h1M362 600.5h1M364 600.5h3M318 601.5h2M324 601.5h1M326 601.5h4M331 601.5h35M369 601.5h1M318 602.5h1M321 602.5h1M325 602.5h1M328 602.5h16M345 602.5h10M356 602.5h1M358 602.5h3M362 602.5h3M368 602.5h1M318 603.5h2M322 603.5h1M324 603.5h1M327 603.5h34M318 604.5h1M321 604.5h1M324 604.5h1M327 604.5h4M332 604.5h26M359 604.5h1M362 604.5h1M365 604.5h1M367 604.5h1M318 605.5h2M325 605.5h27M353 605.5h2M356 605.5h3M318 606.5h2M324 606.5h24M349 606.5h5M355 606.5h7M368 606.5h1M318 607.5h2M326 607.5h1M328 607.5h12M341 607.5h2M344 607.5h9M354 607.5h4M361 607.5h1M318 608.5h2M323 608.5h2M326 608.5h1M329 608.5h1M331 608.5h3M335 608.5h1M337 608.5h16M355 608.5h5M363 608.5h1M318 609.5h3M325 609.5h9M335 609.5h8M344 609.5h10M355 609.5h1M357 609.5h3M363 609.5h1M318 610.5h2M326 610.5h1M330 610.5h3M334 610.5h3M338 610.5h5M344 610.5h7M352 610.5h3M356 610.5h2M368 610.5h1M318 611.5h2M321 611.5h1M325 611.5h1M330 611.5h11M343 611.5h2M346 611.5h3M350 611.5h1M353 611.5h3M364 611.5h1M318 612.5h1M321 612.5h2M324 612.5h1M327 612.5h5M333 612.5h2M336 612.5h3M340 612.5h4M346 612.5h2M350 612.5h3M356 612.5h1M363 612.5h1M318 613.5h2M325 613.5h4M332 613.5h3M336 613.5h8M346 613.5h6M355 613.5h2M318 614.5h1M320 614.5h2M328 614.5h2M332 614.5h1M334 614.5h2M337 614.5h7M345 614.5h1M347 614.5h2M351 614.5h1M354 614.5h2M318 615.5h2M324 615.5h1M329 615.5h1M332 615.5h1M336 615.5h1M340 615.5h3M346 615.5h1M352 615.5h1M354 615.5h2M318 616.5h1M328 616.5h1M330 616.5h1M332 616.5h3M341 616.5h2M344 616.5h2M347 616.5h1M349 616.5h1M318 617.5h1M332 617.5h1M337 617.5h1M341 617.5h2M351 617.5h1M330 618.5h5M336 618.5h1M340 618.5h1M342 618.5h2M346 618.5h1M318 619.5h2M324 619.5h1M340 619.5h3M347 619.5h1M349 619.5h1M351 619.5h1M318 620.5h1M337 620.5h1M339 620.5h1M341 620.5h1M325 621.5h1M327 621.5h1M331 621.5h1M346 621.5h1M318 622.5h40" stroke="#000" stroke-width="1" shape-rendering="crispEdges"/>
<path d="M470 530.5h1M468 537.5h1M482 537.5h1M488 537.5h1M492 537.5h1M487 539.5h1M497 539.5h1M463 540.5h1M487 540.5h1M489 540.5h1M476 541.5h1M483 541.5h1M487 541.5h2M491 541.5h2M494 541.5h1M479 542.5h1M482 542.5h1M485 542.5h2M491 542.5h2M467 543.5h1M485 543.5h1M487 543.5h1M457 544.5h1M482 544.5h1M485 544.5h1M487 544.5h2M482 545.5h3M486 545.5h1M488 545.5h2M476 546.5h1M480 546.5h1M484 546.5h3M490 546.5h1M452 547.5h1M454 547.5h1M478 547.5h1M483 547.5h1M488 547.5h1M495 547.5h1M506 547.5h1M457 548.5h1M478 548.5h1M482 548.5h1M485 548.5h1M487 548.5h1M490 548.5h1M449 549.5h1M480 549.5h1M482 549.5h1M484 549.5h1M486 549.5h2M459 550.5h1M467 550.5h1M479 550.5h3M484 550.5h1M501 550.5h1M455 551.5h1M472 551.5h1M479 551.5h3M483 551.5h1M487 551.5h1M490 551.5h1M460 552.5h1M465 552.5h1M469 552.5h1M475 552.5h2M481 552.5h2M484 552.5h1M487 552.5h2M442 553.5h1M459 553.5h1M466 553.5h1M475 553.5h3M482 553.5h1M484 553.5h1M487 553.5h1M454 554.5h1M458 554.5h1M464 554.5h1M469 554.5h1M476 554.5h2M483 554.5h1M486 554.5h3M490 554.5h2M455 555.5h1M471 555.5h1M481 555.5h1M483 555.5h1M485 555.5h3M504 555.5h1M448 556.5h1M463 556.5h1M465 556.5h1M476 556.5h1M478 556.5h1M481 556.5h1M483 556.5h1M487 556.5h1M455 557.5h2M463 557.5h1M467 557.5h1M473 557.5h1M476 557.5h1M480 557.5h1M483 557.5h3M488 557.5h2M495 557.5h1M443 558.5h1M446 558.5h1M452 558.5h1M456 558.5h2M461 558.5h1M463 558.5h1M465 558.5h2M471 558.5h2M474 558.5h1M476 558.5h2M482 558.5h1M485 558.5h1M490 558.5h1M421 559.5h1M451 559.5h1M462 559.5h1M465 559.5h3M475 559.5h2M479 559.5h3M483 559.5h1M485 559.5h2M492 559.5h1M495 559.5h1M442 560.5h1M449 560.5h1M457 560.5h1M459 560.5h1M467 560.5h2M474 560.5h1M477 560.5h3M489 560.5h2M441 561.5h1M454 561.5h3M462 561.5h6M469 561.5h2M475 561.5h1M479 561.5h1M481 561.5h1M483 561.5h4M496 561.5h1M421 562.5h2M434 562.5h1M440 562.5h1M447 562.5h1M460 562.5h1M462 562.5h1M467 562.5h1M469 562.5h1M473 562.5h1M482 562.5h1M484 562.5h1M487 562.5h1M489 562.5h1M498 562.5h1M421 563.5h2M440 563.5h1M452 563.5h1M461 563.5h4M466 563.5h1M468 563.5h2M472 563.5h2M477 563.5h3M482 563.5h1M484 563.5h1M449 564.5h2M453 564.5h1M461 564.5h1M465 564.5h4M470 564.5h2M482 564.5h1M498 564.5h1M422 565.5h1M450 565.5h5M466 565.5h1M471 565.5h3M475 565.5h1M480 565.5h2M485 565.5h2M495 565.5h1M444 566.5h1M457 566.5h1M459 566.5h1M463 566.5h1M466 566.5h1M471 566.5h1M474 566.5h1M476 566.5h1M480 566.5h3M486 566.5h5M422 567.5h1M440 567.5h1M442 567.5h1M447 567.5h2M451 567.5h1M454 567.5h1M457 567.5h1M460 567.5h1M463 567.5h1M465 567.5h2M468 567.5h1M474 567.5h1M481 567.5h3M485 567.5h1M491 567.5h1M495 567.5h1M501 567.5h1M422 568.5h1M426 568.5h1M435 568.5h2M443 568.5h2M446 568.5h1M448 568.5h1M454 568.5h1M456 568.5h1M458 568.5h1M462 568.5h2M470 568.5h1M481 568.5h1M489 568.5h2M431 569.5h1M439 569.5h2M456 569.5h4M470 569.5h1M475 569.5h1M478 569.5h1M480 569.5h3M486 569.5h1M421 570.5h1M442 570.5h1M452 570.5h2M455 570.5h1M462 570.5h1M471 570.5h1M473 570.5h1M475 570.5h1M478 570.5h3M482 570.5h1M489 570.5h1M493 570.5h2M421 571.5h1M437 571.5h1M444 571.5h1M447 571.5h1M452 571.5h1M454 571.5h2M466 571.5h1M469 571.5h2M475 571.5h1M481 571.5h1M483 571.5h1M486 571.5h1M489 571.5h1M495 571.5h1M429 572.5h1M437 572.5h3M441 572.5h1M447 572.5h1M451 572.5h1M455 572.5h1M476 572.5h1M483 572.5h2M487 572.5h1M491 572.5h1M427 573.5h2M430 573.5h1M437 573.5h1M439 573.5h1M441 573.5h1M443 573.5h2M449 573.5h1M452 573.5h2M460 573.5h1M462 573.5h1M464 573.5h1M471 573.5h1M474 573.5h1M477 573.5h5M484 573.5h1M488 573.5h1M421 574.5h2M437 574.5h1M443 574.5h1M445 574.5h1M449 574.5h1M456 574.5h1M460 574.5h1M471 574.5h1M475 574.5h1M479 574.5h2M484 574.5h3M488 574.5h1M506 574.5h1M422 575.5h1M431 575.5h1M433 575.5h1M438 575.5h3M445 575.5h3M450 575.5h2M472 575.5h1M474 575.5h1M479 575.5h2M484 575.5h1M487 575.5h3M494 575.5h1M498 575.5h2M421 576.5h1M429 576.5h1M435 576.5h2M439 576.5h1M441 576.5h1M445 576.5h1M447 576.5h1M452 576.5h2M463 576.5h2M475 576.5h2M480 576.5h1M484 576.5h1M486 576.5h2M490 576.5h1M421 577.5h1M425 577.5h1M431 577.5h1M434 577.5h2M438 577.5h2M452 577.5h1M456 577.5h1M472 577.5h1M474 577.5h1M481 577.5h1M489 577.5h2M500 577.5h1M427 578.5h1M432 578.5h1M435 578.5h1M437 578.5h5M443 578.5h1M465 578.5h1M478 578.5h3M482 578.5h1M488 578.5h1M490 578.5h1M425 579.5h1M430 579.5h1M433 579.5h1M438 579.5h1M441 579.5h2M473 579.5h1M476 579.5h1M479 579.5h1M482 579.5h1M484 579.5h2M421 580.5h2M424 580.5h1M430 580.5h3M434 580.5h1M437 580.5h1M442 580.5h1M444 580.5h1M449 580.5h1M452 580.5h1M470 580.5h1M476 580.5h5M482 580.5h1M422 581.5h2M428 581.5h1M431 581.5h1M433 581.5h1M448 581.5h1M478 581.5h1M483 581.5h1M421 582.5h2M426 582.5h1M429 582.5h1M436 582.5h1M439 582.5h1M451 582.5h1M476 582.5h1M479 582.5h1M490 582.5h1M500 582.5h1M421 583.5h1M427 583.5h1M433 583.5h2M439 583.5h2M445 583.5h1M476 583.5h2M481 583.5h1M483 583.5h2M486 583.5h2M422 584.5h1M432 584.5h2M439 584.5h2M470 584.5h1M472 584.5h2M476 584.5h2M479 584.5h2M484 584.5h1M487 584.5h1M423 585.5h1M428 585.5h1M436 585.5h2M442 585.5h1M446 585.5h1M469 585.5h1M473 585.5h1M475 585.5h1M477 585.5h1M482 585.5h1M485 585.5h1M494 585.5h1M424 586.5h2M431 586.5h1M433 586.5h1M436 586.5h1M473 586.5h1M477 586.5h1M484 586.5h1M490 586.5h1M422 587.5h1M424 587.5h1M426 587.5h1M432 587.5h1M436 587.5h1M473 587.5h1M475 587.5h2M479 587.5h2M483 587.5h1M488 587.5h1M492 587.5h1M506 587.5h1M423 588.5h1M426 588.5h2M429 588.5h1M433 588.5h1M475 588.5h1M477 588.5h2M480 588.5h2M487 588.5h1M491 588.5h1M422 589.5h1M427 589.5h2M430 589.5h2M433 589.5h2M476 589.5h2M481 589.5h1M484 589.5h1M495 589.5h1M422 590.5h1M426 590.5h1M429 590.5h1M433 590.5h2M438 590.5h1M466 590.5h1M472 590.5h1M483 590.5h1M422 591.5h1M424 591.5h5M433 591.5h2M437 591.5h1M474 591.5h1M476 591.5h1M479 591.5h1M484 591.5h1M488 591.5h2M495 591.5h1M421 592.5h1M425 592.5h1M429 592.5h1M431 592.5h1M435 592.5h2M440 592.5h1M442 592.5h1M473 592.5h1M480 592.5h1M425 593.5h1M427 593.5h2M430 593.5h1M432 593.5h1M474 593.5h1M476 593.5h1M483 593.5h1M485 593.5h2M423 594.5h1M425 594.5h2M428 594.5h1M432 594.5h1M434 594.5h1M450 594.5h1M471 594.5h2M474 594.5h1M476 594.5h3M482 594.5h2M486 594.5h1M425 595.5h2M428 595.5h1M433 595.5h3M466 595.5h1M476 595.5h1M478 595.5h3M484 595.5h2M423 596.5h1M428 596.5h1M431 596.5h2M435 596.5h1M438 596.5h1M468 596.5h1M472 596.5h1M474 596.5h1M484 596.5h1M422 597.5h2M426 597.5h1M429 597.5h1M431 597.5h1M475 597.5h1M477 597.5h2M482 597.5h1M498 597.5h1M423 598.5h1M430 598.5h2M476 598.5h1M480 598.5h2M489 598.5h1M435 599.5h1M441 599.5h1M460 599.5h1M466 599.5h1M470 599.5h2M473 599.5h1M475 599.5h1M478 599.5h1M480 599.5h2M499 599.5h1M424 600.5h2M427 600.5h1M433 600.5h1M436 600.5h3M462 600.5h1M475 600.5h1M484 600.5h1M486 600.5h1M491 600.5h1M432 601.5h1M439 601.5h1M468 601.5h1M472 601.5h1M477 601.5h1M479 601.5h1M482 601.5h1M422 602.5h3M426 602.5h2M429 602.5h1M432 602.5h1M435 602.5h2M471 602.5h1M475 602.5h1M489 602.5h1M422 603.5h1M424 603.5h2M436 603.5h1M453 603.5h1M455 603.5h1M466 603.5h1M468 603.5h3M473 603.5h1M478 603.5h1M486 603.5h1M427 604.5h1M431 604.5h1M433 604.5h1M436 604.5h1M440 604.5h2M461 604.5h1M467 604.5h2M472 604.5h1M422 605.5h1M425 605.5h1M428 605.5h1M431 605.5h3M463 605.5h1M466 605.5h1M468 605.5h4M473 605.5h2M476 605.5h2M422 606.5h1M424 606.5h1M426 606.5h4M431 606.5h1M440 606.5h1M443 606.5h1M457 606.5h1M464 606.5h1M467 606.5h2M426 607.5h1M431 607.5h1M451 607.5h2M458 607.5h1M461 607.5h1M463 607.5h2M466 607.5h1M468 607.5h1M474 607.5h1M479 607.5h1M481 607.5h1M484 607.5h1M422 608.5h1M426 608.5h1M428 608.5h1M433 608.5h4M442 608.5h1M460 608.5h1M466 608.5h1M471 608.5h1M474 608.5h1M478 608.5h1M422 609.5h2M427 609.5h2M430 609.5h4M435 609.5h1M445 609.5h3M455 609.5h1M468 609.5h1M474 609.5h1M422 610.5h1M429 610.5h2M433 610.5h1M435 610.5h2M441 610.5h1M446 610.5h2M450 610.5h1M456 610.5h1M458 610.5h1M461 610.5h1M467 610.5h1M489 610.5h1M494 610.5h1M424 611.5h2M427 611.5h3M432 611.5h1M434 611.5h1M436 611.5h1M440 611.5h1M445 611.5h1M448 611.5h1M456 611.5h3M461 611.5h2M467 611.5h3M472 611.5h2M475 611.5h1M423 612.5h1M425 612.5h2M429 612.5h2M433 612.5h3M438 612.5h1M447 612.5h1M451 612.5h1M453 612.5h1M459 612.5h1M464 612.5h2M469 612.5h1M473 612.5h1M475 612.5h1M477 612.5h1M424 613.5h1M426 613.5h2M432 613.5h1M439 613.5h3M444 613.5h1M448 613.5h3M454 613.5h1M456 613.5h3M460 613.5h2M471 613.5h1M488 613.5h1M426 614.5h1M430 614.5h1M432 614.5h1M434 614.5h1M436 614.5h2M440 614.5h2M444 614.5h1M452 614.5h1M454 614.5h1M463 614.5h1M475 614.5h1M423 615.5h1M429 615.5h1M432 615.5h2M435 615.5h2M439 615.5h1M441 615.5h1M443 615.5h2M447 615.5h1M455 615.5h2M465 615.5h2M472 615.5h1M476 615.5h1M424 616.5h1M427 616.5h1M429 616.5h2M432 616.5h1M434 616.5h1M438 616.5h1M445 616.5h1M447 616.5h1M449 616.5h1M454 616.5h3M462 616.5h1M466 616.5h1M468 616.5h1M475 616.5h1M426 617.5h1M428 617.5h1M430 617.5h1M437 617.5h2M440 617.5h2M450 617.5h2M458 617.5h6M465 617.5h1M467 617.5h1M422 618.5h1M429 618.5h1M431 618.5h1M434 618.5h1M436 618.5h2M440 618.5h2M444 618.5h1M446 618.5h1M449 618.5h1M451 618.5h1M454 618.5h2M457 618.5h1M465 618.5h1M481 618.5h1M426 619.5h1M428 619.5h1M431 619.5h1M433 619.5h3M437 619.5h2M441 619.5h1M443 619.5h1M445 619.5h3M449 619.5h1M452 619.5h4M460 619.5h1M465 619.5h1M472 619.5h1M421 620.5h1M426 620.5h1M431 620.5h1M433 620.5h1M436 620.5h1M443 620.5h1M447 620.5h1M452 620.5h2M465 620.5h1M469 620.5h1M421 621.5h2M434 621.5h1M446 621.5h2M457 621.5h1M464 621.5h1M425 622.5h1M429 622.5h1M432 622.5h1M435 622.5h2M441 622.5h1M446 622.5h1M450 622.5h1M456 622.5h2M459 622.5h1M461 622.5h1M463 622.5h1M467 622.5h1" stroke="#707070" stroke-width="1" shape-rendering="crispEdges"/>
<path d="M485 541.5h1M490 541.5h1M483 544.5h1M486 544.5h1M481 545.5h1M487 545.5h1M483 546.5h1M488 546.5h2M484 547.5h2M481 548.5h1M484 548.5h1M486 548.5h1M485 549.5h1M478 550.5h1M482 550.5h2M485 550.5h3M488 551.5h1M448 552.5h1M485 552.5h1M481 553.5h1M483 553.5h1M470 554.5h1M485 554.5h1M475 555.5h1M477 555.5h1M479 555.5h1M468 556.5h1M471 556.5h1M479 556.5h2M485 556.5h2M488 556.5h1M464 557.5h1M477 557.5h1M467 558.5h1M470 558.5h1M473 558.5h1M475 558.5h1M479 558.5h1M477 559.5h2M484 559.5h1M454 560.5h1M458 560.5h1M460 560.5h1M464 560.5h1M469 560.5h2M475 560.5h1M485 560.5h2M451 561.5h1M461 561.5h1M472 561.5h1M474 561.5h1M452 562.5h1M454 562.5h1M466 562.5h1M471 562.5h1M477 562.5h1M479 562.5h1M481 562.5h1M483 562.5h1M458 563.5h1M465 563.5h1M467 563.5h1M470 563.5h1M481 563.5h1M485 563.5h1M458 564.5h1M460 564.5h1M464 564.5h1M473 564.5h2M476 564.5h1M445 565.5h1M459 565.5h1M464 565.5h1M470 565.5h1M474 565.5h1M483 565.5h1M492 565.5h1M452 566.5h2M467 566.5h1M477 566.5h1M479 566.5h1M439 567.5h1M449 567.5h1M464 567.5h1M477 567.5h2M480 567.5h1M447 568.5h1M450 568.5h1M457 568.5h1M465 568.5h1M475 568.5h1M480 568.5h1M442 569.5h1M461 569.5h4M467 569.5h1M471 569.5h2M474 569.5h1M479 569.5h1M483 569.5h1M485 569.5h1M444 570.5h2M447 570.5h1M449 570.5h1M451 570.5h1M454 570.5h1M457 570.5h2M464 570.5h1M470 570.5h1M441 571.5h1M446 571.5h1M449 571.5h2M453 571.5h1M457 571.5h1M463 571.5h1M465 571.5h1M468 571.5h1M471 571.5h1M473 571.5h1M476 571.5h1M478 571.5h1M482 571.5h1M422 572.5h1M444 572.5h1M446 572.5h1M452 572.5h3M460 572.5h2M464 572.5h1M469 572.5h1M473 572.5h1M477 572.5h3M485 572.5h1M499 572.5h1M421 573.5h1M445 573.5h4M450 573.5h2M454 573.5h1M463 573.5h1M468 573.5h2M472 573.5h1M483 573.5h1M432 574.5h1M440 574.5h1M448 574.5h1M452 574.5h3M467 574.5h3M472 574.5h1M482 574.5h1M436 575.5h2M442 575.5h2M455 575.5h1M458 575.5h1M460 575.5h1M467 575.5h2M473 575.5h1M476 575.5h2M485 575.5h1M432 576.5h1M437 576.5h1M440 576.5h1M443 576.5h1M446 576.5h1M449 576.5h1M451 576.5h1M460 576.5h1M467 576.5h1M474 576.5h1M482 576.5h1M441 577.5h3M448 577.5h1M454 577.5h1M462 577.5h1M464 577.5h1M468 577.5h1M480 577.5h1M483 577.5h1M485 577.5h1M488 577.5h1M447 578.5h1M455 578.5h1M471 578.5h1M473 578.5h1M481 578.5h1M483 578.5h1M434 579.5h2M449 579.5h1M459 579.5h1M463 579.5h1M467 579.5h1M470 579.5h1M481 579.5h1M436 580.5h1M440 580.5h1M448 580.5h1M461 580.5h2M467 580.5h1M471 580.5h3M481 580.5h1M484 580.5h2M434 581.5h1M440 581.5h2M446 581.5h1M450 581.5h1M454 581.5h1M460 581.5h1M462 581.5h1M477 581.5h1M486 581.5h2M434 582.5h2M469 582.5h1M473 582.5h2M477 582.5h2M482 582.5h1M425 583.5h1M428 583.5h1M432 583.5h1M435 583.5h1M438 583.5h1M444 583.5h1M452 583.5h1M466 583.5h1M470 583.5h1M475 583.5h1M429 584.5h1M435 584.5h1M438 584.5h1M441 584.5h1M449 584.5h1M452 584.5h1M468 584.5h1M481 584.5h1M485 584.5h1M422 585.5h1M432 585.5h2M439 585.5h1M443 585.5h2M464 585.5h1M470 585.5h3M476 585.5h1M478 585.5h1M481 585.5h1M430 586.5h1M434 586.5h1M438 586.5h1M440 586.5h1M442 586.5h1M472 586.5h1M483 586.5h1M430 587.5h2M434 587.5h1M441 587.5h1M482 587.5h1M435 588.5h2M438 588.5h1M462 588.5h1M470 588.5h1M473 588.5h1M482 588.5h1M443 589.5h1M463 589.5h1M469 589.5h1M473 589.5h3M479 589.5h2M427 590.5h2M431 590.5h1M437 590.5h1M468 590.5h1M475 590.5h3M484 590.5h1M421 591.5h1M431 591.5h1M465 591.5h1M471 591.5h1M475 591.5h1M477 591.5h2M480 591.5h1M485 591.5h1M437 592.5h1M470 592.5h1M474 592.5h1M479 592.5h1M423 593.5h2M431 593.5h1M434 593.5h1M448 593.5h1M469 593.5h1M471 593.5h1M473 593.5h1M475 593.5h1M477 593.5h3M427 594.5h1M429 594.5h1M431 594.5h1M433 594.5h1M438 594.5h1M441 594.5h1M448 594.5h1M457 594.5h1M469 594.5h2M475 594.5h1M427 595.5h1M431 595.5h1M457 595.5h1M468 595.5h1M471 595.5h1M475 595.5h1M477 595.5h1M425 596.5h1M440 596.5h1M452 596.5h1M458 596.5h1M467 596.5h1M476 596.5h3M482 596.5h1M434 597.5h1M437 597.5h1M441 597.5h1M456 597.5h1M462 597.5h1M471 597.5h1M473 597.5h1M479 597.5h1M488 597.5h1M425 598.5h1M427 598.5h1M432 598.5h1M437 598.5h1M440 598.5h1M442 598.5h1M446 598.5h1M448 598.5h1M466 598.5h1M472 598.5h1M475 598.5h1M477 598.5h1M422 599.5h1M426 599.5h1M429 599.5h2M432 599.5h2M451 599.5h1M472 599.5h1M477 599.5h1M428 600.5h1M434 600.5h2M439 600.5h2M442 600.5h1M465 600.5h1M469 600.5h3M473 600.5h1M426 601.5h1M431 601.5h1M436 601.5h1M455 601.5h1M457 601.5h1M466 601.5h1M476 601.5h1M425 602.5h1M434 602.5h1M437 602.5h1M444 602.5h1M449 602.5h2M467 602.5h1M432 603.5h1M465 603.5h1M467 603.5h1M471 603.5h1M474 603.5h1M428 604.5h2M432 604.5h1M438 604.5h1M443 604.5h1M451 604.5h1M462 604.5h1M464 604.5h1M469 604.5h1M476 604.5h1M438 605.5h1M440 605.5h1M443 605.5h1M446 605.5h1M460 605.5h1M475 605.5h1M435 606.5h1M446 606.5h1M454 606.5h1M461 606.5h1M466 606.5h1M469 606.5h1M475 606.5h1M422 607.5h1M430 607.5h1M432 607.5h5M448 607.5h1M453 607.5h2M457 607.5h1M459 607.5h1M467 607.5h1M472 607.5h1M427 608.5h1M430 608.5h2M437 608.5h2M440 608.5h1M449 608.5h1M451 608.5h2M456 608.5h1M458 608.5h1M467 608.5h1M469 608.5h1M436 609.5h1M442 609.5h1M448 609.5h1M450 609.5h1M457 609.5h1M461 609.5h1M465 609.5h2M470 609.5h1M473 609.5h1M427 610.5h1M432 610.5h1M434 610.5h1M449 610.5h1M460 610.5h1M468 610.5h1M470 610.5h1M473 610.5h1M421 611.5h1M431 611.5h1M433 611.5h1M438 611.5h2M444 611.5h1M447 611.5h1M450 611.5h1M452 611.5h1M463 611.5h1M470 611.5h1M443 612.5h1M445 612.5h1M449 612.5h1M455 612.5h1M458 612.5h1M460 612.5h1M462 612.5h2M421 613.5h1M430 613.5h1M434 613.5h1M437 613.5h1M443 613.5h1M447 613.5h1M459 613.5h1M463 613.5h1M422 614.5h1M443 614.5h1M451 614.5h1M455 614.5h1M457 614.5h1M445 615.5h2M449 615.5h1M460 615.5h1M469 615.5h1M440 616.5h1M442 616.5h2M446 616.5h1M463 616.5h1M436 617.5h1M442 617.5h2M453 617.5h1M455 617.5h2M425 618.5h1M428 618.5h1M427 619.5h1M450 619.5h1M466 619.5h1M439 620.5h1M431 621.5h1M438 621.5h1M452 621.5h1M423 622.5h2M430 622.5h1M433 622.5h2M438 622.5h1M444 622.5h2M447 622.5h2M451 622.5h1M454 622.5h2M460 622.5h1M466 622.5h1" stroke="#383838" stroke-width="1" shape-rendering="crispEdges"/>
<path d="M484 551.5h1M486 551.5h1M481 554.5h1M482 555.5h1M484 555.5h1M482 556.5h1M481 557.5h1M469 558.5h1M480 558.5h1M483 558.5h1M469 559.5h1M472 559.5h1M482 559.5h1M472 560.5h1M480 560.5h2M477 561.5h1M451 562.5h1M475 562.5h1M478 562.5h1M460 563.5h1M475 563.5h1M480 563.5h1M472 564.5h1M475 564.5h1M477 564.5h3M461 565.5h1M469 565.5h1M478 565.5h1M461 566.5h2M464 566.5h1M468 566.5h2M473 566.5h1M475 566.5h1M478 566.5h1M452 567.5h1M456 567.5h1M458 567.5h2M469 567.5h3M473 567.5h1M475 567.5h2M451 568.5h1M453 568.5h1M460 568.5h2M464 568.5h1M466 568.5h2M469 568.5h1M472 568.5h2M479 568.5h1M484 568.5h1M443 569.5h1M451 569.5h1M454 569.5h1M460 569.5h1M466 569.5h1M469 569.5h1M473 569.5h1M446 570.5h1M456 570.5h1M460 570.5h1M463 570.5h1M465 570.5h3M469 570.5h1M472 570.5h1M476 570.5h1M443 571.5h1M451 571.5h1M456 571.5h1M458 571.5h3M462 571.5h1M464 571.5h1M467 571.5h1M472 571.5h1M450 572.5h1M456 572.5h4M462 572.5h2M465 572.5h4M470 572.5h3M474 572.5h2M422 573.5h1M455 573.5h5M461 573.5h1M465 573.5h3M470 573.5h1M473 573.5h1M475 573.5h2M438 574.5h1M446 574.5h2M451 574.5h1M455 574.5h1M457 574.5h3M461 574.5h6M473 574.5h2M476 574.5h2M441 575.5h1M444 575.5h1M448 575.5h2M452 575.5h3M456 575.5h2M459 575.5h1M461 575.5h6M469 575.5h1M475 575.5h1M478 575.5h1M448 576.5h1M450 576.5h1M454 576.5h6M461 576.5h2M465 576.5h2M468 576.5h6M477 576.5h2M481 576.5h1M483 576.5h1M436 577.5h1M444 577.5h4M449 577.5h3M453 577.5h1M455 577.5h1M457 577.5h5M463 577.5h1M465 577.5h3M469 577.5h2M473 577.5h1M475 577.5h2M478 577.5h1M487 577.5h1M421 578.5h1M442 578.5h1M444 578.5h1M446 578.5h1M448 578.5h7M456 578.5h9M466 578.5h5M472 578.5h1M474 578.5h4M421 579.5h1M439 579.5h2M443 579.5h6M450 579.5h9M460 579.5h3M464 579.5h3M469 579.5h1M471 579.5h2M474 579.5h2M477 579.5h2M480 579.5h1M441 580.5h1M443 580.5h1M445 580.5h3M450 580.5h2M453 580.5h8M463 580.5h4M468 580.5h2M474 580.5h2M421 581.5h1M443 581.5h1M447 581.5h1M449 581.5h1M451 581.5h3M455 581.5h5M461 581.5h1M463 581.5h7M471 581.5h5M480 581.5h1M482 581.5h1M431 582.5h1M437 582.5h2M440 582.5h4M445 582.5h6M452 582.5h17M470 582.5h3M475 582.5h1M480 582.5h1M436 583.5h2M441 583.5h3M446 583.5h6M453 583.5h13M467 583.5h3M471 583.5h3M479 583.5h2M421 584.5h1M434 584.5h1M436 584.5h1M442 584.5h7M450 584.5h2M453 584.5h15M469 584.5h1M471 584.5h1M474 584.5h2M483 584.5h1M486 584.5h1M421 585.5h1M429 585.5h1M435 585.5h1M438 585.5h1M440 585.5h2M445 585.5h1M447 585.5h17M465 585.5h4M479 585.5h1M421 586.5h1M437 586.5h1M439 586.5h1M441 586.5h1M443 586.5h2M446 586.5h26M474 586.5h1M476 586.5h1M478 586.5h1M480 586.5h1M421 587.5h1M429 587.5h1M433 587.5h1M437 587.5h4M442 587.5h31M474 587.5h1M478 587.5h1M421 588.5h2M430 588.5h1M432 588.5h1M434 588.5h1M437 588.5h1M439 588.5h23M463 588.5h7M471 588.5h2M474 588.5h1M421 589.5h1M435 589.5h8M444 589.5h19M464 589.5h5M470 589.5h3M478 589.5h1M421 590.5h1M430 590.5h1M435 590.5h2M439 590.5h27M467 590.5h1M469 590.5h3M432 591.5h1M435 591.5h2M438 591.5h27M466 591.5h1M468 591.5h3M472 591.5h2M481 591.5h1M422 592.5h1M433 592.5h2M438 592.5h2M441 592.5h1M443 592.5h27M472 592.5h1M421 593.5h2M433 593.5h1M435 593.5h13M449 593.5h20M470 593.5h1M421 594.5h2M435 594.5h3M439 594.5h2M442 594.5h6M449 594.5h1M451 594.5h6M458 594.5h11M473 594.5h1M421 595.5h2M430 595.5h1M436 595.5h19M456 595.5h1M458 595.5h8M467 595.5h1M469 595.5h2M472 595.5h1M421 596.5h2M430 596.5h1M433 596.5h1M436 596.5h2M439 596.5h1M441 596.5h11M453 596.5h5M459 596.5h8M469 596.5h2M421 597.5h1M428 597.5h1M432 597.5h2M435 597.5h2M438 597.5h3M442 597.5h14M457 597.5h5M463 597.5h8M472 597.5h1M474 597.5h1M421 598.5h2M429 598.5h1M433 598.5h1M435 598.5h2M438 598.5h2M441 598.5h1M443 598.5h3M447 598.5h1M449 598.5h15M465 598.5h1M467 598.5h5M473 598.5h1M421 599.5h1M431 599.5h1M434 599.5h1M436 599.5h5M442 599.5h9M452 599.5h8M461 599.5h2M464 599.5h2M467 599.5h1M469 599.5h1M421 600.5h1M430 600.5h1M432 600.5h1M441 600.5h1M443 600.5h12M456 600.5h6M463 600.5h2M466 600.5h3M472 600.5h1M421 601.5h2M427 601.5h2M433 601.5h2M437 601.5h2M440 601.5h15M456 601.5h1M458 601.5h5M464 601.5h2M467 601.5h1M470 601.5h2M474 601.5h1M421 602.5h1M428 602.5h1M431 602.5h1M433 602.5h1M438 602.5h6M445 602.5h4M451 602.5h16M468 602.5h1M476 602.5h1M421 603.5h1M427 603.5h4M433 603.5h3M437 603.5h16M454 603.5h1M456 603.5h5M462 603.5h3M421 604.5h1M426 604.5h1M430 604.5h1M434 604.5h2M439 604.5h1M442 604.5h1M444 604.5h7M452 604.5h9M463 604.5h1M466 604.5h1M473 604.5h1M421 605.5h1M434 605.5h1M436 605.5h2M439 605.5h1M441 605.5h2M444 605.5h2M447 605.5h13M461 605.5h2M464 605.5h2M421 606.5h1M432 606.5h3M436 606.5h2M439 606.5h1M441 606.5h2M444 606.5h2M447 606.5h7M455 606.5h2M458 606.5h2M462 606.5h2M465 606.5h1M421 607.5h1M427 607.5h1M437 607.5h11M449 607.5h2M455 607.5h2M465 607.5h1M421 608.5h1M429 608.5h1M432 608.5h1M439 608.5h1M441 608.5h1M443 608.5h6M450 608.5h1M453 608.5h3M457 608.5h1M459 608.5h1M461 608.5h1M421 609.5h1M437 609.5h5M443 609.5h2M449 609.5h1M451 609.5h4M456 609.5h1M458 609.5h2M462 609.5h1M471 609.5h1M421 610.5h1M437 610.5h4M442 610.5h4M448 610.5h1M451 610.5h5M459 610.5h1M466 610.5h1M443 611.5h1M446 611.5h1M449 611.5h1M451 611.5h1M465 611.5h1M421 612.5h1M427 612.5h1M436 612.5h2M441 612.5h2M444 612.5h1M446 612.5h1M448 612.5h1M450 612.5h1M456 612.5h2M431 613.5h1M433 613.5h1M435 613.5h1M438 613.5h1M445 613.5h1M452 613.5h2M455 613.5h1M421 614.5h1M433 614.5h1M438 614.5h2M442 614.5h1M446 614.5h1M448 614.5h2M456 614.5h1M459 614.5h1M421 615.5h1M424 615.5h1M438 615.5h1M454 615.5h1M421 616.5h1M436 616.5h1M451 616.5h3M459 616.5h2M421 617.5h1M421 618.5h1M443 618.5h1M452 618.5h1M421 619.5h1M440 619.5h1M435 620.5h1M438 620.5h1M449 620.5h1M421 622.5h2M427 622.5h2M431 622.5h1M437 622.5h1M439 622.5h2M443 622.5h1M449 622.5h1M453 622.5h1" stroke="#000" stroke-width="1" shape-rendering="crispEdges"/>
<rect x="13.8" y="524.4" width="98.5" height="98.6" stroke="#8a8a8a" stroke-width="1" fill="none"/>
<rect x="114.7" y="524.4" width="98.9" height="98.6" stroke="#8a8a8a" stroke-width="1" fill="none"/>
<rect x="215.5" y="524.4" width="98.3" height="98.6" stroke="#8a8a8a" stroke-width="1" fill="none"/>
<rect x="318.3" y="524.4" width="99.7" height="98.6" stroke="#8a8a8a" stroke-width="1" fill="none"/>
<rect x="420.7" y="524.4" width="98.8" height="98.6" stroke="#8a8a8a" stroke-width="1" fill="none"/>
<rect x="63.5" y="530.3" width="26" height="31.6" stroke="#888" stroke-width="1" fill="none"/>
<rect x="164" y="529.8" width="26.5" height="32.4" stroke="#888" stroke-width="1" fill="none"/>
<rect x="264.4" y="529.8" width="26.9" height="32.1" stroke="#888" stroke-width="1" fill="none"/>
<rect x="368" y="529.6" width="26.6" height="32.3" stroke="#888" stroke-width="1" fill="none"/>
<rect x="470.3" y="530.2" width="26.1" height="32.1" stroke="#888" stroke-width="1" fill="none"/>
<path d="M462 562.2L497 562.2" stroke="#222" stroke-width="1.1"/>
<text x="95.8" y="545" font-size="11.5" textLength="15.6" lengthAdjust="spacingAndGlyphs" style="stroke-width:0.12px">GC</text>
<text x="89.5" y="557.2" font-size="11.5" textLength="21.2" lengthAdjust="spacingAndGlyphs" style="stroke-width:0.12px">0.18</text>
<text x="192.1" y="545" font-size="11.5" textLength="15.6" lengthAdjust="spacingAndGlyphs" style="stroke-width:0.12px">GC</text>
<text x="190" y="557.1" font-size="11.5" textLength="21.2" lengthAdjust="spacingAndGlyphs" style="stroke-width:0.12px">0.76</text>
<text x="296.7" y="545" font-size="11.5" textLength="15.6" lengthAdjust="spacingAndGlyphs" style="stroke-width:0.12px">GC</text>
<text x="291.4" y="557.1" font-size="11.5" textLength="21.2" lengthAdjust="spacingAndGlyphs" style="stroke-width:0.12px">9.25</text>
<text x="399.9" y="545" font-size="11.5" textLength="15.6" lengthAdjust="spacingAndGlyphs" style="stroke-width:0.12px">GC</text>
<text x="395.7" y="557.1" font-size="11.5" textLength="21.2" lengthAdjust="spacingAndGlyphs" style="stroke-width:0.12px">1.14</text>
<text x="502" y="548.6" font-size="11.5" textLength="15.6" lengthAdjust="spacingAndGlyphs" style="stroke-width:0.12px">GC</text>
<text x="496.7" y="560.6" font-size="11.5" textLength="21.2" lengthAdjust="spacingAndGlyphs" style="stroke-width:0.12px">2.53</text>
</svg></body></html>
